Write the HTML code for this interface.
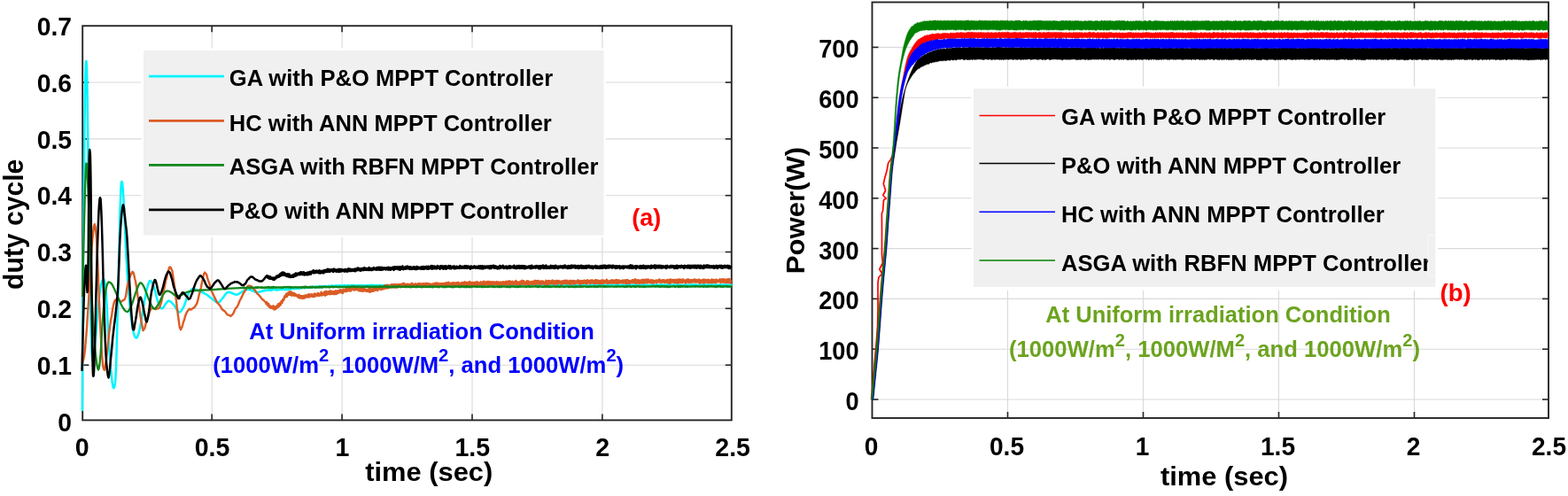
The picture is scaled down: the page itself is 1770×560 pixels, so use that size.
<!DOCTYPE html>
<html lang="en">
<head>
<meta charset="utf-8">
<title>MPPT controller comparison at uniform irradiation</title>
<style>
html,body{margin:0;padding:0;background:#fff;}
body{width:1770px;height:560px;overflow:hidden;}
svg{display:block;}
svg text{font-family:"Liberation Sans", sans-serif;font-weight:bold;}
</style>
</head>
<body>
<svg width="1770" height="560" viewBox="0 0 1770 560">
<rect x="0" y="0" width="1770" height="560" fill="#ffffff"/>
<g id="left-plot">
<line x1="239.2" y1="29.2" x2="239.2" y2="474.4" stroke="#d9d9d9" stroke-width="1.1"/>
<line x1="386.1" y1="29.2" x2="386.1" y2="474.4" stroke="#d9d9d9" stroke-width="1.1"/>
<line x1="533.0" y1="29.2" x2="533.0" y2="474.4" stroke="#d9d9d9" stroke-width="1.1"/>
<line x1="679.9" y1="29.2" x2="679.9" y2="474.4" stroke="#d9d9d9" stroke-width="1.1"/>
<line x1="93.2" y1="412.2" x2="825.8" y2="412.2" stroke="#d9d9d9" stroke-width="1.1"/>
<line x1="93.2" y1="348.3" x2="825.8" y2="348.3" stroke="#d9d9d9" stroke-width="1.1"/>
<line x1="93.2" y1="284.5" x2="825.8" y2="284.5" stroke="#d9d9d9" stroke-width="1.1"/>
<line x1="93.2" y1="220.7" x2="825.8" y2="220.7" stroke="#d9d9d9" stroke-width="1.1"/>
<line x1="93.2" y1="156.9" x2="825.8" y2="156.9" stroke="#d9d9d9" stroke-width="1.1"/>
<line x1="93.2" y1="93.0" x2="825.8" y2="93.0" stroke="#d9d9d9" stroke-width="1.1"/>
<rect x="93.2" y="29.2" width="732.5999999999999" height="445.2" fill="none" stroke="#262626" stroke-width="1.9"/>
<line x1="239.2" y1="474.4" x2="239.2" y2="467.4" stroke="#262626" stroke-width="1.6"/>
<line x1="239.2" y1="29.2" x2="239.2" y2="36.2" stroke="#262626" stroke-width="1.6"/>
<line x1="386.1" y1="474.4" x2="386.1" y2="467.4" stroke="#262626" stroke-width="1.6"/>
<line x1="386.1" y1="29.2" x2="386.1" y2="36.2" stroke="#262626" stroke-width="1.6"/>
<line x1="533.0" y1="474.4" x2="533.0" y2="467.4" stroke="#262626" stroke-width="1.6"/>
<line x1="533.0" y1="29.2" x2="533.0" y2="36.2" stroke="#262626" stroke-width="1.6"/>
<line x1="679.9" y1="474.4" x2="679.9" y2="467.4" stroke="#262626" stroke-width="1.6"/>
<line x1="679.9" y1="29.2" x2="679.9" y2="36.2" stroke="#262626" stroke-width="1.6"/>
<line x1="93.2" y1="412.2" x2="100.2" y2="412.2" stroke="#262626" stroke-width="1.6"/>
<line x1="825.8" y1="412.2" x2="818.8" y2="412.2" stroke="#262626" stroke-width="1.6"/>
<line x1="93.2" y1="348.3" x2="100.2" y2="348.3" stroke="#262626" stroke-width="1.6"/>
<line x1="825.8" y1="348.3" x2="818.8" y2="348.3" stroke="#262626" stroke-width="1.6"/>
<line x1="93.2" y1="284.5" x2="100.2" y2="284.5" stroke="#262626" stroke-width="1.6"/>
<line x1="825.8" y1="284.5" x2="818.8" y2="284.5" stroke="#262626" stroke-width="1.6"/>
<line x1="93.2" y1="220.7" x2="100.2" y2="220.7" stroke="#262626" stroke-width="1.6"/>
<line x1="825.8" y1="220.7" x2="818.8" y2="220.7" stroke="#262626" stroke-width="1.6"/>
<line x1="93.2" y1="156.9" x2="100.2" y2="156.9" stroke="#262626" stroke-width="1.6"/>
<line x1="825.8" y1="156.9" x2="818.8" y2="156.9" stroke="#262626" stroke-width="1.6"/>
<line x1="93.2" y1="93.0" x2="100.2" y2="93.0" stroke="#262626" stroke-width="1.6"/>
<line x1="825.8" y1="93.0" x2="818.8" y2="93.0" stroke="#262626" stroke-width="1.6"/>
<path d="M92.8,464.0 L93.0,435.1 L93.2,393.9 L93.5,346.7 L93.9,300.0 L94.3,250.8 L94.9,197.3 L95.4,147.6 L95.9,110.0 L96.3,87.4 L96.7,75.1 L97.1,70.0 L97.4,69.0 L97.7,71.2 L98.0,78.2 L98.3,90.9 L98.6,110.0 L99.0,138.3 L99.5,174.4 L100.0,213.4 L100.5,250.0 L101.1,285.6 L101.7,322.0 L102.4,354.9 L103.0,380.0 L103.5,395.5 L104.0,403.9 L104.4,407.3 L105.0,408.0 L105.7,405.1 L106.4,397.9 L107.2,388.8 L108.0,380.0 L108.8,371.5 L109.5,362.2 L110.2,353.1 L111.0,345.0 L111.7,338.0 L112.5,331.7 L113.2,326.3 L114.0,322.0 L114.9,318.7 L115.8,316.4 L116.7,315.3 L117.5,316.0 L118.2,318.1 L118.8,321.7 L119.4,327.1 L120.0,335.0 L120.7,346.6 L121.4,361.2 L122.2,376.5 L123.0,390.0 L123.9,401.8 L124.8,413.0 L125.7,422.7 L126.5,430.0 L127.2,434.8 L127.8,437.4 L128.4,438.1 L129.0,437.0 L129.5,435.2 L130.0,432.4 L130.5,426.3 L131.0,415.0 L131.6,396.4 L132.2,372.1 L132.9,345.5 L133.5,320.0 L134.1,294.5 L134.8,267.8 L135.4,243.5 L136.0,225.0 L136.4,213.8 L136.8,207.8 L137.1,205.4 L137.5,205.0 L137.9,206.1 L138.4,209.7 L138.9,215.9 L139.5,225.0 L140.2,238.4 L140.9,255.6 L141.7,273.8 L142.5,290.0 L143.3,304.0 L144.2,317.1 L145.1,329.1 L146.0,340.0 L147.0,349.8 L148.0,358.5 L149.0,366.0 L150.0,372.0 L151.0,376.4 L152.0,379.5 L153.0,381.1 L154.0,381.5 L155.0,380.5 L155.9,378.2 L156.9,374.7 L158.0,370.0 L159.2,363.5 L160.5,355.4 L161.8,347.1 L163.0,340.0 L164.1,334.4 L165.1,329.4 L166.1,325.3 L167.0,322.0 L167.8,319.5 L168.5,317.9 L169.2,317.0 L170.0,317.0 L170.9,317.9 L171.9,319.8 L173.0,322.2 L174.0,325.0 L175.0,328.4 L176.0,332.5 L177.0,336.5 L178.0,340.0 L179.1,342.9 L180.3,345.5 L181.4,347.5 L182.6,348.5 L183.7,348.1 L184.9,346.5 L186.0,344.6 L187.0,343.0 L187.9,341.8 L188.8,340.7 L189.7,339.9 L190.7,339.6 L191.9,340.1 L193.3,341.2 L194.7,342.6 L196.0,344.0 L197.1,345.5 L198.1,347.1 L199.1,348.7 L200.0,350.0 L200.8,351.1 L201.6,352.0 L202.3,352.5 L203.2,352.3 L204.3,351.3 L205.5,349.5 L206.8,347.4 L208.0,345.0 L209.0,342.2 L210.0,339.0 L210.9,335.8 L212.0,333.0 L213.2,330.7 L214.6,328.6 L216.0,327.0 L217.5,326.0 L219.0,325.9 L220.6,326.6 L222.3,327.6 L224.0,328.5 L225.9,329.2 L227.9,330.0 L229.9,330.8 L231.8,331.8 L233.6,333.0 L235.5,334.3 L237.2,335.7 L239.0,337.0 L240.8,338.4 L242.6,339.9 L244.4,341.1 L246.0,341.6 L247.4,341.2 L248.6,340.0 L249.7,338.5 L251.0,337.0 L252.4,335.2 L253.9,333.1 L255.4,331.2 L256.8,330.0 L258.1,329.7 L259.4,330.0 L260.7,330.5 L262.0,331.0 L263.3,331.5 L264.7,332.1 L266.0,332.6 L267.5,332.7 L269.1,332.1 L270.7,331.1 L272.4,329.9 L274.0,329.0 L275.5,328.3 L277.1,327.6 L278.5,327.0 L280.0,326.8 L281.4,327.0 L282.8,327.4 L284.2,328.0 L285.5,328.5 L286.8,329.0 L288.0,329.5 L289.3,329.9 L290.7,330.0 L292.3,329.8 L294.2,329.2 L295.8,328.7 L297.0,328.3 L298.0,328.4 L299.0,327.6 L300.0,328.0 L301.0,327.6 L302.0,327.8 L303.0,327.0 L304.0,327.8 L305.0,326.7 L306.0,327.9 L307.0,326.9 L308.0,327.3 L309.0,326.7 L310.0,327.1 L311.0,326.5 L312.0,327.6 L313.0,326.7 L314.0,327.4 L315.0,326.7 L316.0,327.0 L317.0,326.2 L318.0,327.1 L319.0,326.0 L320.0,326.8 L321.0,326.2 L322.0,327.1 L323.0,326.2 L324.0,327.1 L325.0,325.6 L326.0,327.0 L327.0,325.7 L328.0,326.4 L329.0,325.6 L330.0,326.1 L331.0,325.7 L332.0,326.3 L333.0,325.1 L334.0,326.1 L335.0,324.8 L336.0,325.6 L337.0,324.8 L338.0,326.0 L339.0,325.1 L340.0,325.2 L341.0,324.3 L342.0,325.1 L343.0,324.2 L344.0,325.2 L345.0,324.5 L346.0,325.0 L347.0,324.1 L348.0,324.9 L349.0,324.1 L350.0,324.8 L351.0,324.1 L352.0,324.5 L353.0,323.7 L354.0,324.3 L355.0,323.8 L356.0,324.4 L357.0,323.3 L358.0,324.3 L359.0,323.4 L360.0,324.4 L361.0,323.3 L362.0,324.5 L363.0,323.3 L364.0,324.0 L365.0,323.1 L366.0,324.0 L367.0,323.1 L368.0,323.6 L369.0,323.1 L370.0,323.5 L371.0,322.7 L372.0,323.5 L373.0,322.5 L374.0,323.4 L375.0,322.6 L376.0,323.3 L377.0,322.7 L378.0,323.4 L379.0,322.3 L380.0,323.1 L381.0,322.5 L382.0,322.9 L383.0,322.3 L384.0,323.0 L385.0,322.2 L386.0,322.9 L387.0,322.2 L388.0,322.9 L389.0,321.9 L390.0,323.1 L391.0,322.4 L392.0,323.2 L393.0,321.9 L394.0,323.2 L395.0,322.1 L396.0,322.8 L397.0,322.0 L398.0,322.8 L399.0,321.8 L400.0,323.1 L401.0,322.3 L402.0,323.0 L403.0,322.4 L404.0,322.7 L405.0,322.1 L406.0,323.1 L407.0,322.0 L408.0,323.0 L409.0,322.3 L410.0,322.6 L411.0,322.3 L412.0,323.0 L413.0,322.2 L414.0,322.6 L415.0,322.3 L416.0,322.6 L417.0,322.1 L418.0,322.8 L419.0,321.7 L420.0,322.5 L421.0,321.9 L422.0,323.1 L423.0,322.1 L424.0,322.6 L425.0,322.1 L426.0,322.7 L427.0,322.0 L428.0,322.7 L429.0,321.9 L430.0,322.5 L431.0,322.1 L432.0,322.7 L433.0,322.0 L434.0,322.7 L435.0,322.1 L436.0,322.8 L437.0,321.8 L438.0,322.8 L439.0,322.0 L440.0,322.9 L441.0,321.8 L442.0,323.0 L443.0,322.0 L444.0,322.8 L445.0,322.1 L446.0,322.8 L447.0,321.9 L448.0,322.6 L449.0,321.8 L450.0,322.4 L451.0,321.7 L452.0,322.5 L453.0,322.1 L454.0,322.7 L455.0,322.0 L456.0,322.7 L457.0,321.4 L458.0,322.6 L459.0,321.5 L460.0,322.8 L461.0,321.7 L462.0,322.7 L463.0,321.6 L464.0,322.5 L465.0,321.6 L466.0,322.3 L467.0,321.6 L468.0,322.3 L469.0,321.5 L470.0,322.2 L471.0,321.7 L472.0,322.4 L473.0,321.7 L474.0,322.3 L475.0,321.8 L476.0,322.5 L477.0,321.8 L478.0,322.2 L479.0,321.7 L480.0,322.2 L481.0,321.8 L482.0,322.5 L483.0,321.8 L484.0,322.3 L485.0,321.4 L486.0,322.3 L487.0,321.6 L488.0,322.5 L489.0,322.0 L490.0,322.4 L491.0,321.8 L492.0,322.5 L493.0,321.7 L494.0,322.4 L495.0,321.8 L496.0,322.2 L497.0,321.8 L498.0,322.7 L499.0,321.4 L500.0,322.2 L501.0,321.8 L502.0,322.7 L503.0,321.9 L504.0,322.3 L505.0,321.3 L506.0,322.5 L507.0,321.6 L508.0,322.5 L509.0,321.6 L510.0,322.3 L511.0,321.7 L512.0,322.4 L513.0,321.3 L514.0,322.4 L515.0,321.9 L516.0,322.2 L517.0,321.4 L518.0,322.6 L519.0,321.7 L520.0,322.6 L521.0,321.8 L522.0,322.6 L523.0,321.3 L524.0,322.3 L525.0,321.6 L526.0,322.2 L527.0,321.6 L528.0,322.5 L529.0,321.3 L530.0,322.2 L531.0,321.7 L532.0,322.4 L533.0,321.5 L534.0,322.1 L535.0,321.8 L536.0,322.4 L537.0,321.4 L538.0,322.2 L539.0,321.2 L540.0,322.2 L541.0,321.4 L542.0,322.3 L543.0,321.7 L544.0,322.5 L545.0,321.5 L546.0,322.0 L547.0,321.6 L548.0,322.1 L549.0,321.7 L550.0,322.6 L551.0,321.3 L552.0,322.1 L553.0,321.6 L554.0,322.1 L555.0,321.2 L556.0,322.6 L557.0,321.4 L558.0,322.4 L559.0,321.8 L560.0,322.3 L561.0,321.5 L562.0,322.5 L563.0,321.8 L564.0,322.4 L565.0,321.5 L566.0,322.3 L567.0,321.7 L568.0,322.3 L569.0,321.8 L570.0,322.2 L571.0,321.6 L572.0,322.1 L573.0,321.4 L574.0,322.6 L575.0,321.8 L576.0,322.2 L577.0,321.5 L578.0,322.6 L579.0,321.4 L580.0,322.7 L581.0,321.4 L582.0,322.4 L583.0,321.4 L584.0,322.0 L585.0,321.6 L586.0,322.4 L587.0,321.7 L588.0,322.3 L589.0,321.4 L590.0,322.5 L591.0,321.4 L592.0,322.3 L593.0,321.4 L594.0,322.0 L595.0,321.3 L596.0,322.1 L597.0,321.4 L598.0,322.1 L599.0,321.4 L600.0,322.2 L601.0,321.4 L602.0,322.2 L603.0,321.2 L604.0,322.2 L605.0,321.9 L606.0,322.0 L607.0,321.3 L608.0,322.2 L609.0,321.4 L610.0,322.2 L611.0,321.4 L612.0,322.3 L613.0,321.4 L614.0,322.5 L615.0,321.3 L616.0,322.6 L617.0,321.2 L618.0,322.0 L619.0,321.3 L620.0,322.3 L621.0,321.3 L622.0,322.4 L623.0,321.7 L624.0,322.1 L625.0,321.6 L626.0,322.2 L627.0,321.8 L628.0,322.1 L629.0,321.7 L630.0,322.2 L631.0,321.6 L632.0,322.4 L633.0,321.3 L634.0,322.1 L635.0,321.4 L636.0,322.0 L637.0,321.5 L638.0,322.3 L639.0,321.3 L640.0,322.1 L641.0,321.7 L642.0,322.1 L643.0,321.8 L644.0,322.5 L645.0,321.4 L646.0,322.5 L647.0,321.5 L648.0,322.1 L649.0,321.2 L650.0,322.1 L651.0,321.7 L652.0,322.0 L653.0,321.7 L654.0,322.0 L655.0,321.8 L656.0,322.3 L657.0,321.7 L658.0,322.5 L659.0,321.3 L660.0,322.0 L661.0,321.2 L662.0,322.5 L663.0,321.8 L664.0,322.2 L665.0,321.8 L666.0,322.4 L667.0,321.7 L668.0,322.3 L669.0,321.3 L670.0,322.4 L671.0,321.3 L672.0,322.3 L673.0,321.2 L674.0,322.2 L675.0,321.6 L676.0,322.3 L677.0,321.5 L678.0,322.1 L679.0,321.3 L680.0,322.0 L681.0,321.4 L682.0,322.5 L683.0,321.7 L684.0,322.6 L685.0,321.4 L686.0,322.6 L687.0,321.4 L688.0,322.3 L689.0,321.6 L690.0,322.5 L691.0,321.3 L692.0,322.2 L693.0,321.6 L694.0,322.3 L695.0,321.5 L696.0,322.4 L697.0,321.3 L698.0,322.0 L699.0,321.3 L700.0,322.3 L701.0,321.7 L702.0,322.6 L703.0,321.3 L704.0,322.2 L705.0,321.5 L706.0,322.4 L707.0,321.5 L708.0,322.5 L709.0,321.4 L710.0,322.0 L711.0,321.6 L712.0,322.1 L713.0,321.4 L714.0,322.3 L715.0,321.5 L716.0,322.1 L717.0,321.3 L718.0,322.1 L719.0,321.6 L720.0,322.0 L721.0,321.7 L722.0,322.1 L723.0,321.5 L724.0,322.4 L725.0,321.6 L726.0,322.0 L727.0,321.6 L728.0,322.4 L729.0,321.3 L730.0,321.9 L731.0,321.7 L732.0,322.3 L733.0,321.7 L734.0,322.4 L735.0,321.5 L736.0,322.0 L737.0,321.7 L738.0,322.2 L739.0,321.5 L740.0,322.3 L741.0,321.2 L742.0,322.2 L743.0,321.7 L744.0,322.6 L745.0,321.2 L746.0,322.3 L747.0,321.3 L748.0,322.5 L749.0,321.6 L750.0,322.2 L751.0,321.6 L752.0,322.1 L753.0,321.2 L754.0,322.4 L755.0,321.4 L756.0,322.6 L757.0,321.4 L758.0,322.0 L759.0,321.8 L760.0,322.0 L761.0,321.3 L762.0,322.4 L763.0,321.5 L764.0,322.0 L765.0,321.8 L766.0,322.0 L767.0,321.3 L768.0,322.0 L769.0,321.8 L770.0,322.4 L771.0,321.8 L772.0,322.3 L773.0,321.3 L774.0,322.1 L775.0,321.7 L776.0,322.0 L777.0,321.4 L778.0,322.0 L779.0,321.8 L780.0,321.9 L781.0,321.3 L782.0,322.4 L783.0,321.3 L784.0,322.6 L785.0,321.2 L786.0,322.4 L787.0,321.6 L788.0,321.9 L789.0,321.6 L790.0,322.3 L791.0,321.5 L792.0,322.2 L793.0,321.2 L794.0,322.5 L795.0,321.2 L796.0,322.5 L797.0,321.4 L798.0,321.9 L799.0,321.3 L800.0,322.1 L801.0,321.8 L802.0,322.6 L803.0,321.4 L804.0,322.0 L805.0,321.4 L806.0,322.2 L807.0,321.5 L808.0,322.1 L809.0,321.5 L810.0,322.6 L811.0,321.5 L812.0,322.4 L813.0,321.2 L814.0,322.3 L815.0,321.5 L816.0,322.4 L817.0,321.4 L818.0,322.4 L819.0,321.3 L820.0,322.2 L821.0,321.5 L822.0,322.4 L823.0,321.7 L824.0,322.5 L825.0,321.3 L826.0,322.4" fill="none" stroke="#00f5ff" stroke-width="2.5" stroke-linejoin="round" stroke-linecap="butt" />
<path d="M93.0,409.9 L93.5,408.9 L94.2,406.3 L95.1,401.7 L96.0,394.6 L96.9,384.2 L98.0,370.1 L99.0,354.8 L100.0,340.3 L100.9,325.2 L101.8,308.3 L102.7,292.1 L103.5,279.5 L104.4,269.7 L105.2,261.8 L106.0,255.4 L106.8,253.2 L107.5,255.7 L108.2,261.2 L108.9,269.0 L109.5,280.1 L110.1,293.4 L110.7,307.9 L111.3,324.6 L112.0,340.6 L112.7,356.6 L113.5,373.4 L114.3,387.9 L115.0,400.3 L115.7,407.4 L116.3,414.0 L116.9,416.0 L117.5,417.5 L118.1,417.7 L118.7,414.1 L119.3,409.9 L120.0,405.6 L120.9,397.8 L121.9,387.5 L123.0,377.7 L124.0,369.7 L125.0,361.7 L126.1,356.3 L127.1,349.2 L128.0,344.6 L128.8,341.6 L129.4,339.8 L130.1,338.6 L131.0,338.2 L132.1,338.3 L133.4,338.6 L134.7,338.9 L136.0,340.9 L137.3,340.3 L138.6,339.1 L139.8,338.9 L141.0,337.5 L142.1,334.1 L143.0,327.2 L144.0,321.7 L145.0,318.0 L146.1,314.0 L147.3,311.3 L148.5,308.6 L149.6,306.7 L150.5,307.7 L151.3,310.3 L152.1,314.3 L153.0,317.5 L154.0,323.6 L155.0,330.1 L156.1,338.6 L157.0,344.1 L157.8,351.8 L158.6,356.8 L159.3,362.0 L160.0,365.3 L160.5,368.6 L161.0,371.2 L161.5,373.1 L162.0,372.8 L162.7,371.3 L163.4,370.4 L164.2,367.1 L165.0,364.1 L166.0,360.5 L167.0,357.4 L168.0,355.3 L169.0,351.3 L169.8,350.2 L170.4,348.8 L171.1,347.3 L172.0,347.5 L173.1,347.9 L174.4,348.6 L175.8,349.2 L177.0,348.5 L178.0,348.1 L179.0,348.4 L180.0,347.1 L181.0,344.4 L182.2,341.1 L183.5,333.7 L184.8,328.3 L186.0,322.8 L187.1,316.5 L188.2,313.6 L189.1,308.8 L190.0,305.5 L190.7,303.3 L191.3,301.6 L191.9,301.7 L192.5,301.6 L193.1,303.1 L193.7,304.4 L194.3,305.3 L195.0,309.8 L195.9,315.9 L197.0,323.4 L198.0,332.0 L199.0,339.6 L199.8,347.2 L200.6,353.1 L201.3,358.6 L202.0,363.5 L202.5,367.4 L203.0,370.0 L203.5,370.9 L204.0,372.2 L204.7,370.5 L205.4,369.4 L206.2,366.8 L207.0,363.4 L207.9,361.5 L208.9,357.5 L210.0,354.5 L211.0,352.2 L212.0,350.9 L212.9,349.9 L213.9,348.8 L215.0,349.5 L216.4,349.0 L217.9,347.9 L219.5,347.1 L221.0,344.6 L222.4,342.4 L223.7,337.6 L224.9,332.0 L226.0,328.6 L227.0,324.5 L227.9,318.9 L228.7,316.0 L229.5,312.0 L230.1,309.3 L230.6,308.9 L231.1,307.6 L231.8,308.4 L232.5,309.1 L233.2,310.1 L234.0,313.3 L235.0,316.6 L236.1,319.3 L237.3,323.3 L238.6,327.9 L240.0,330.9 L241.6,334.5 L243.4,338.1 L245.2,341.7 L247.0,343.5 L248.8,345.7 L250.5,349.0 L252.3,350.5 L254.0,351.6 L255.7,354.2 L257.3,355.6 L259.0,355.9 L260.5,356.9 L261.9,355.7 L263.3,353.9 L264.6,351.0 L266.0,348.1 L267.5,346.6 L269.0,343.7 L270.5,339.8 L272.0,337.0 L273.5,334.1 L275.1,330.5 L276.6,328.5 L278.0,326.1 L279.1,324.3 L280.1,322.7 L281.0,323.0 L282.0,322.5 L283.1,323.6 L284.3,323.5 L285.6,325.2 L287.0,326.5 L288.6,328.8 L290.4,331.6 L292.3,333.2 L294.0,335.2 L295.7,337.7 L297.4,338.8 L298.9,340.6 L300.0,340.9 L300.5,343.2 L301.4,341.3 L302.3,345.0 L303.2,343.0 L304.1,347.1 L305.0,345.3 L305.9,347.8 L306.8,345.9 L307.7,348.3 L308.6,345.3 L309.5,349.5 L310.4,346.4 L311.3,349.0 L312.2,345.4 L313.1,347.4 L314.0,343.3 L314.9,346.2 L315.8,342.2 L316.7,344.4 L317.6,340.0 L318.5,342.0 L319.4,337.8 L320.3,338.9 L321.2,334.4 L322.1,335.6 L323.0,332.0 L323.9,334.9 L324.8,330.7 L325.7,333.0 L326.6,329.4 L327.5,332.9 L328.4,329.3 L329.3,333.7 L330.2,330.5 L331.1,333.5 L332.0,331.0 L332.9,333.8 L333.8,332.1 L334.7,334.3 L335.6,333.2 L336.5,335.7 L337.4,332.8 L338.3,336.6 L339.2,334.0 L340.1,336.6 L341.0,334.1 L341.9,337.0 L342.8,334.1 L343.7,336.6 L344.6,333.4 L345.5,335.6 L346.4,333.3 L347.3,335.4 L348.2,332.2 L349.1,335.5 L350.0,332.4 L350.9,334.6 L351.8,332.3 L352.7,334.9 L353.6,332.4 L354.5,335.1 L355.4,331.4 L356.3,334.3 L357.2,332.1 L358.1,333.8 L359.0,330.8 L359.9,334.1 L360.8,331.8 L361.7,333.4 L362.6,329.7 L363.5,333.5 L364.4,331.1 L365.3,332.7 L366.2,329.5 L367.1,333.7 L368.0,329.0 L368.9,332.8 L369.8,329.4 L370.7,332.0 L371.6,328.8 L372.5,332.2 L373.4,328.3 L374.3,332.0 L375.2,329.2 L376.1,332.0 L377.0,329.2 L377.9,332.2 L378.8,328.3 L379.7,332.0 L380.6,328.5 L381.5,331.0 L382.4,328.1 L383.3,330.2 L384.2,327.1 L385.1,330.3 L386.0,327.7 L386.9,331.0 L387.8,326.6 L388.7,329.1 L389.6,326.8 L390.5,329.2 L391.4,325.9 L392.3,328.6 L393.2,326.3 L394.1,328.4 L395.0,324.7 L395.9,328.6 L396.8,325.1 L397.7,327.1 L398.6,324.2 L399.5,327.4 L400.4,323.3 L401.3,327.4 L402.2,324.3 L403.1,327.0 L404.0,324.7 L404.9,328.4 L405.8,325.4 L406.7,328.4 L407.6,324.0 L408.5,328.9 L409.4,325.7 L410.3,328.7 L411.2,325.8 L412.1,328.4 L413.0,326.7 L413.9,329.0 L414.8,327.0 L415.7,328.9 L416.6,325.9 L417.5,329.9 L418.4,325.8 L419.3,329.0 L420.2,326.5 L421.1,328.8 L422.0,325.2 L422.9,328.0 L423.8,324.7 L424.7,327.6 L425.6,324.7 L426.5,328.0 L427.4,324.2 L428.3,326.3 L429.2,323.8 L430.1,327.1 L431.0,323.7 L431.9,326.5 L432.8,323.1 L433.7,326.1 L434.6,322.2 L435.5,325.4 L436.4,322.0 L437.3,325.5 L438.2,321.8 L439.1,324.9 L440.0,322.7 L440.9,324.3 L441.8,321.2 L442.7,324.4 L443.6,321.2 L444.5,324.2 L445.4,320.9 L446.3,324.5 L447.2,321.1 L448.1,324.5 L449.0,321.2 L449.9,324.2 L450.8,320.9 L451.7,323.6 L452.6,320.9 L453.5,323.8 L454.4,320.2 L455.3,323.8 L456.2,319.9 L457.1,323.7 L458.0,321.0 L458.9,324.3 L459.8,320.7 L460.7,323.0 L461.6,321.1 L462.5,323.7 L463.4,320.7 L464.3,324.1 L465.2,319.8 L466.1,323.3 L467.0,321.1 L467.9,323.4 L468.8,320.3 L469.7,323.0 L470.6,320.7 L471.5,323.3 L472.4,320.1 L473.3,323.7 L474.2,320.2 L475.1,323.8 L476.0,320.5 L476.9,323.3 L477.8,320.1 L478.7,322.9 L479.6,320.2 L480.5,323.2 L481.4,319.8 L482.3,323.3 L483.2,320.1 L484.1,323.0 L485.0,320.4 L485.9,323.0 L486.8,320.8 L487.7,323.3 L488.6,320.5 L489.5,322.5 L490.4,320.0 L491.3,322.8 L492.2,319.5 L493.1,323.0 L494.0,319.7 L494.9,322.8 L495.8,320.1 L496.7,322.8 L497.6,320.2 L498.5,322.3 L499.4,319.9 L500.3,322.1 L501.2,319.9 L502.1,322.1 L503.0,319.4 L503.9,322.9 L504.8,319.1 L505.7,323.1 L506.6,318.7 L507.5,322.4 L508.4,320.1 L509.3,322.0 L510.2,319.3 L511.1,322.8 L512.0,319.1 L512.9,322.0 L513.8,319.4 L514.7,321.6 L515.6,319.2 L516.5,322.4 L517.4,318.8 L518.3,322.6 L519.2,319.8 L520.1,322.6 L521.0,319.2 L521.9,322.4 L522.8,318.9 L523.7,321.7 L524.6,318.3 L525.5,322.9 L526.4,318.8 L527.3,322.7 L528.2,318.9 L529.1,321.3 L530.0,318.1 L530.9,322.1 L531.8,318.8 L532.7,322.5 L533.6,318.9 L534.5,321.7 L535.4,319.1 L536.3,322.6 L537.2,318.4 L538.1,322.1 L539.0,318.3 L539.9,321.8 L540.8,319.4 L541.7,321.5 L542.6,318.3 L543.5,321.7 L544.4,318.6 L545.3,322.2 L546.2,317.8 L547.1,322.3 L548.0,318.4 L548.9,321.1 L549.8,318.0 L550.7,321.9 L551.6,318.0 L552.5,321.8 L553.4,318.1 L554.3,321.5 L555.2,318.3 L556.1,321.8 L557.0,318.3 L557.9,320.9 L558.8,318.5 L559.7,321.2 L560.6,318.1 L561.5,321.4 L562.4,318.5 L563.3,322.2 L564.2,318.7 L565.1,321.9 L566.0,318.6 L566.9,321.2 L567.8,318.2 L568.7,321.2 L569.6,318.5 L570.5,321.5 L571.4,317.8 L572.3,321.3 L573.2,317.7 L574.1,321.8 L575.0,317.3 L575.9,320.9 L576.8,318.0 L577.7,320.6 L578.6,317.8 L579.5,321.3 L580.4,318.6 L581.3,320.5 L582.2,317.0 L583.1,321.2 L584.0,318.3 L584.9,321.5 L585.8,318.4 L586.7,321.4 L587.6,317.6 L588.5,321.5 L589.4,316.8 L590.3,320.3 L591.2,317.2 L592.1,320.9 L593.0,318.7 L593.9,321.3 L594.8,317.1 L595.7,321.0 L596.6,317.5 L597.5,321.1 L598.4,318.3 L599.3,320.5 L600.2,317.9 L601.1,321.1 L602.0,317.7 L602.9,320.6 L603.8,316.8 L604.7,321.2 L605.6,317.2 L606.5,319.9 L607.4,316.9 L608.3,320.7 L609.2,317.6 L610.1,321.0 L611.0,317.4 L611.9,320.6 L612.8,317.4 L613.7,320.3 L614.6,318.4 L615.5,320.9 L616.4,316.8 L617.3,321.4 L618.2,317.2 L619.1,321.3 L620.0,317.0 L620.9,320.1 L621.8,317.5 L622.7,320.2 L623.6,316.4 L624.5,320.5 L625.4,317.4 L626.3,320.8 L627.2,316.9 L628.1,320.2 L629.0,317.0 L629.9,320.5 L630.8,316.9 L631.7,319.5 L632.6,317.7 L633.5,320.9 L634.4,317.3 L635.3,320.3 L636.2,317.0 L637.1,319.9 L638.0,316.7 L638.9,320.3 L639.8,316.6 L640.7,320.2 L641.6,317.5 L642.5,320.4 L643.4,316.8 L644.3,320.6 L645.2,317.0 L646.1,319.9 L647.0,316.9 L647.9,320.7 L648.8,317.1 L649.7,320.0 L650.6,317.4 L651.5,319.2 L652.4,316.3 L653.3,320.3 L654.2,316.9 L655.1,320.6 L656.0,317.2 L656.9,320.1 L657.8,317.1 L658.7,319.8 L659.6,316.6 L660.5,319.7 L661.4,316.9 L662.3,320.5 L663.2,316.1 L664.1,319.4 L665.0,317.1 L665.9,320.0 L666.8,316.5 L667.7,319.6 L668.6,316.3 L669.5,319.4 L670.4,316.9 L671.3,320.2 L672.2,316.1 L673.1,319.9 L674.0,316.3 L674.9,319.8 L675.8,316.8 L676.7,319.8 L677.6,317.1 L678.5,320.2 L679.4,316.3 L680.3,320.1 L681.2,316.5 L682.1,319.6 L683.0,317.0 L683.9,319.0 L684.8,315.7 L685.7,320.1 L686.6,317.1 L687.5,319.7 L688.4,317.3 L689.3,319.6 L690.2,316.2 L691.1,319.4 L692.0,316.5 L692.9,319.6 L693.8,316.6 L694.7,319.5 L695.6,315.9 L696.5,320.0 L697.4,316.3 L698.3,319.6 L699.2,316.5 L700.1,319.2 L701.0,317.2 L701.9,319.3 L702.8,316.4 L703.7,319.4 L704.6,316.5 L705.5,319.5 L706.4,316.1 L707.3,320.2 L708.2,316.0 L709.1,319.5 L710.0,316.8 L710.9,319.8 L711.8,317.3 L712.7,318.9 L713.6,316.2 L714.5,319.1 L715.4,315.9 L716.3,319.3 L717.2,315.3 L718.1,319.8 L719.0,316.2 L719.9,319.5 L720.8,316.2 L721.7,319.9 L722.6,316.7 L723.5,319.4 L724.4,315.9 L725.3,319.5 L726.2,315.8 L727.1,319.7 L728.0,315.8 L728.9,318.7 L729.8,315.6 L730.7,319.4 L731.6,315.4 L732.5,318.7 L733.4,316.5 L734.3,319.1 L735.2,316.1 L736.1,319.5 L737.0,316.4 L737.9,319.6 L738.8,316.9 L739.7,318.4 L740.6,316.4 L741.5,319.2 L742.4,316.6 L743.3,318.2 L744.2,315.4 L745.1,318.7 L746.0,316.4 L746.9,318.8 L747.8,316.2 L748.7,318.4 L749.6,316.1 L750.5,319.1 L751.4,316.7 L752.3,318.6 L753.2,315.9 L754.1,319.3 L755.0,316.0 L755.9,320.1 L756.8,315.4 L757.7,318.9 L758.6,316.0 L759.5,318.5 L760.4,315.9 L761.3,319.0 L762.2,316.1 L763.1,319.1 L764.0,315.8 L764.9,319.8 L765.8,315.5 L766.7,318.9 L767.6,315.6 L768.5,318.8 L769.4,315.7 L770.3,319.2 L771.2,315.5 L772.1,318.3 L773.0,316.5 L773.9,319.6 L774.8,315.9 L775.7,318.6 L776.6,315.2 L777.5,318.9 L778.4,316.2 L779.3,319.0 L780.2,316.1 L781.1,318.6 L782.0,315.9 L782.9,318.4 L783.8,315.4 L784.7,318.5 L785.6,315.8 L786.5,318.6 L787.4,316.1 L788.3,318.6 L789.2,315.6 L790.1,319.9 L791.0,316.4 L791.9,318.4 L792.8,316.0 L793.7,319.4 L794.6,315.5 L795.5,319.3 L796.4,316.0 L797.3,318.4 L798.2,315.9 L799.1,319.2 L800.0,315.8 L800.9,319.2 L801.8,316.5 L802.7,319.1 L803.6,315.4 L804.5,318.8 L805.4,316.1 L806.3,319.0 L807.2,315.8 L808.1,319.3 L809.0,315.6 L809.9,318.3 L810.8,316.4 L811.7,318.1 L812.6,315.3 L813.5,319.0 L814.4,315.4 L815.3,318.5 L816.2,315.2 L817.1,318.8 L818.0,315.4 L818.9,318.8 L819.8,315.8 L820.7,318.9 L821.6,315.1 L822.5,319.1 L823.4,314.9 L824.3,319.6 L825.2,316.3" fill="none" stroke="#db5c24" stroke-width="2.4" stroke-linejoin="round" stroke-linecap="butt" />
<path d="M93.0,335.0 L93.3,323.4 L93.6,306.9 L94.1,288.1 L94.5,270.0 L95.0,251.6 L95.5,231.9 L96.0,213.8 L96.5,200.0 L96.9,191.3 L97.2,186.2 L97.5,184.3 L97.8,185.0 L98.2,188.3 L98.6,194.4 L99.0,203.3 L99.5,215.0 L100.1,230.7 L100.7,250.0 L101.3,270.5 L102.0,290.0 L102.7,308.6 L103.5,327.2 L104.2,344.7 L105.0,360.0 L105.8,372.6 L106.5,383.3 L107.2,392.3 L108.0,400.0 L108.8,406.8 L109.5,412.3 L110.3,416.1 L111.0,417.5 L111.7,416.1 L112.3,412.3 L112.9,406.8 L113.5,400.0 L114.1,391.3 L114.7,380.8 L115.3,369.8 L116.0,360.0 L116.7,351.3 L117.5,343.1 L118.3,335.9 L119.0,330.0 L119.7,325.9 L120.3,323.2 L120.9,321.4 L121.5,320.0 L122.0,319.0 L122.6,318.5 L123.1,318.5 L123.7,318.7 L124.4,319.0 L125.2,319.6 L126.0,320.5 L127.0,322.0 L128.1,324.2 L129.3,326.9 L130.6,329.9 L132.0,333.0 L133.4,336.3 L135.0,339.8 L136.5,343.2 L138.0,346.0 L139.4,348.3 L140.8,350.2 L142.1,351.5 L143.4,352.0 L144.6,351.6 L145.7,350.3 L146.8,348.4 L148.0,346.0 L149.2,342.8 L150.5,338.8 L151.8,334.6 L153.0,331.0 L154.1,327.9 L155.2,325.2 L156.1,322.8 L157.0,321.0 L157.7,319.9 L158.2,319.3 L158.8,319.3 L159.4,319.6 L160.2,320.3 L161.0,321.4 L162.0,323.0 L163.0,325.0 L164.1,327.8 L165.4,331.2 L166.7,334.7 L168.0,338.0 L169.4,341.2 L170.8,344.5 L172.3,347.1 L173.7,348.6 L175.1,348.4 L176.4,347.1 L177.7,345.1 L179.0,343.0 L180.3,340.7 L181.6,337.9 L182.8,335.2 L184.0,333.0 L185.0,331.4 L186.0,330.1 L187.0,329.2 L188.0,328.6 L189.2,328.5 L190.4,328.8 L191.7,329.3 L193.0,330.0 L194.4,330.9 L195.8,332.1 L197.2,333.3 L198.7,334.0 L200.2,334.2 L201.8,334.0 L203.4,333.5 L205.0,333.0 L206.7,332.3 L208.4,331.3 L210.2,330.3 L212.0,329.5 L213.9,329.0 L215.8,328.6 L217.8,328.3 L220.0,328.0 L222.4,327.8 L224.9,327.7 L227.5,327.6 L230.0,327.5 L232.4,327.4 L234.7,327.3 L237.1,327.2 L240.0,327.0 L243.3,326.8 L246.9,326.5 L250.8,326.3 L255.0,326.0 L260.1,325.7 L265.9,325.4 L271.3,325.2 L275.0,325.0 L276.0,325.5 L277.0,324.6 L278.0,325.3 L279.0,324.4 L280.0,324.9 L281.0,324.9 L282.0,325.5 L283.0,324.2 L284.0,325.4 L285.0,324.7 L286.0,325.3 L287.0,324.6 L288.0,324.8 L289.0,324.1 L290.0,325.1 L291.0,324.2 L292.0,324.8 L293.0,324.3 L294.0,324.8 L295.0,324.1 L296.0,325.1 L297.0,324.4 L298.0,325.0 L299.0,324.3 L300.0,325.0 L301.0,324.1 L302.0,324.9 L303.0,323.9 L304.0,324.8 L305.0,324.2 L306.0,325.0 L307.0,323.9 L308.0,325.1 L309.0,323.8 L310.0,324.8 L311.0,324.1 L312.0,324.8 L313.0,324.2 L314.0,324.7 L315.0,324.2 L316.0,324.7 L317.0,324.2 L318.0,325.0 L319.0,324.2 L320.0,324.7 L321.0,323.9 L322.0,324.3 L323.0,324.1 L324.0,324.3 L325.0,323.8 L326.0,324.5 L327.0,324.0 L328.0,324.8 L329.0,324.0 L330.0,324.6 L331.0,324.3 L332.0,324.7 L333.0,324.0 L334.0,324.3 L335.0,324.1 L336.0,324.8 L337.0,324.2 L338.0,324.5 L339.0,324.2 L340.0,324.8 L341.0,323.9 L342.0,324.8 L343.0,323.7 L344.0,324.9 L345.0,323.5 L346.0,324.6 L347.0,324.1 L348.0,324.7 L349.0,323.9 L350.0,324.8 L351.0,323.6 L352.0,324.8 L353.0,323.6 L354.0,324.5 L355.0,323.9 L356.0,324.7 L357.0,324.0 L358.0,324.6 L359.0,323.9 L360.0,324.7 L361.0,323.5 L362.0,324.6 L363.0,323.7 L364.0,324.6 L365.0,323.6 L366.0,324.1 L367.0,323.5 L368.0,324.4 L369.0,323.8 L370.0,324.2 L371.0,323.7 L372.0,324.5 L373.0,323.9 L374.0,324.2 L375.0,323.4 L376.0,324.4 L377.0,323.6 L378.0,324.2 L379.0,323.7 L380.0,324.0 L381.0,323.8 L382.0,324.4 L383.0,323.7 L384.0,324.1 L385.0,323.6 L386.0,324.2 L387.0,323.8 L388.0,324.0 L389.0,323.6 L390.0,324.5 L391.0,323.6 L392.0,324.0 L393.0,323.5 L394.0,324.3 L395.0,323.7 L396.0,324.0 L397.0,323.1 L398.0,323.8 L399.0,323.4 L400.0,323.9 L401.0,323.7 L402.0,324.4 L403.0,323.3 L404.0,324.0 L405.0,323.4 L406.0,323.8 L407.0,323.6 L408.0,324.1 L409.0,323.5 L410.0,324.1 L411.0,323.5 L412.0,324.1 L413.0,323.5 L414.0,324.0 L415.0,323.2 L416.0,324.2 L417.0,323.5 L418.0,324.1 L419.0,323.6 L420.0,324.2 L421.0,323.4 L422.0,324.2 L423.0,323.5 L424.0,324.2 L425.0,323.4 L426.0,324.1 L427.0,323.5 L428.0,324.0 L429.0,323.2 L430.0,324.1 L431.0,323.6 L432.0,324.1 L433.0,323.3 L434.0,323.8 L435.0,323.2 L436.0,324.0 L437.0,323.3 L438.0,324.1 L439.0,323.6 L440.0,324.5 L441.0,323.5 L442.0,324.3 L443.0,323.2 L444.0,324.3 L445.0,323.5 L446.0,324.2 L447.0,323.6 L448.0,324.1 L449.0,323.1 L450.0,323.9 L451.0,323.2 L452.0,324.3 L453.0,323.6 L454.0,324.0 L455.0,323.6 L456.0,324.0 L457.0,323.4 L458.0,323.9 L459.0,323.4 L460.0,323.8 L461.0,323.5 L462.0,324.2 L463.0,323.5 L464.0,324.2 L465.0,323.3 L466.0,323.9 L467.0,323.5 L468.0,324.1 L469.0,323.5 L470.0,324.2 L471.0,323.0 L472.0,324.0 L473.0,323.6 L474.0,323.9 L475.0,323.7 L476.0,324.4 L477.0,323.2 L478.0,324.0 L479.0,323.4 L480.0,324.0 L481.0,323.4 L482.0,324.1 L483.0,323.4 L484.0,324.2 L485.0,323.3 L486.0,323.9 L487.0,323.4 L488.0,324.4 L489.0,323.2 L490.0,324.0 L491.0,323.5 L492.0,323.9 L493.0,323.2 L494.0,324.1 L495.0,323.7 L496.0,324.3 L497.0,323.3 L498.0,323.7 L499.0,323.1 L500.0,324.2 L501.0,323.4 L502.0,324.3 L503.0,323.3 L504.0,324.2 L505.0,323.3 L506.0,323.8 L507.0,323.4 L508.0,324.0 L509.0,323.1 L510.0,324.2 L511.0,323.5 L512.0,324.3 L513.0,323.3 L514.0,323.9 L515.0,323.4 L516.0,323.8 L517.0,323.2 L518.0,324.0 L519.0,323.4 L520.0,324.3 L521.0,323.0 L522.0,323.9 L523.0,323.2 L524.0,324.2 L525.0,323.2 L526.0,324.3 L527.0,323.1 L528.0,324.1 L529.0,323.2 L530.0,324.2 L531.0,323.6 L532.0,324.3 L533.0,323.2 L534.0,323.8 L535.0,323.4 L536.0,323.7 L537.0,323.3 L538.0,324.1 L539.0,323.1 L540.0,323.8 L541.0,323.5 L542.0,323.9 L543.0,323.2 L544.0,324.2 L545.0,323.2 L546.0,324.0 L547.0,323.5 L548.0,324.0 L549.0,323.6 L550.0,324.0 L551.0,323.4 L552.0,323.9 L553.0,323.4 L554.0,323.7 L555.0,323.3 L556.0,324.0 L557.0,323.2 L558.0,324.1 L559.0,323.6 L560.0,323.8 L561.0,323.4 L562.0,324.2 L563.0,323.3 L564.0,324.2 L565.0,323.2 L566.0,324.0 L567.0,323.2 L568.0,323.6 L569.0,323.4 L570.0,323.8 L571.0,323.4 L572.0,324.2 L573.0,323.4 L574.0,324.2 L575.0,323.4 L576.0,324.3 L577.0,323.1 L578.0,323.7 L579.0,323.2 L580.0,323.9 L581.0,323.2 L582.0,324.0 L583.0,323.4 L584.0,324.2 L585.0,323.3 L586.0,324.0 L587.0,323.1 L588.0,323.9 L589.0,323.5 L590.0,323.6 L591.0,323.3 L592.0,323.8 L593.0,323.4 L594.0,324.2 L595.0,323.3 L596.0,323.7 L597.0,323.1 L598.0,324.1 L599.0,323.2 L600.0,323.8 L601.0,323.3 L602.0,323.8 L603.0,323.3 L604.0,323.7 L605.0,323.1 L606.0,324.0 L607.0,323.0 L608.0,324.2 L609.0,323.2 L610.0,323.6 L611.0,323.4 L612.0,324.0 L613.0,323.5 L614.0,324.0 L615.0,323.0 L616.0,324.1 L617.0,323.1 L618.0,324.0 L619.0,323.1 L620.0,324.1 L621.0,323.3 L622.0,324.0 L623.0,323.4 L624.0,323.8 L625.0,323.3 L626.0,323.8 L627.0,323.2 L628.0,324.0 L629.0,323.2 L630.0,323.8 L631.0,323.2 L632.0,324.2 L633.0,323.1 L634.0,323.7 L635.0,323.3 L636.0,323.9 L637.0,323.6 L638.0,323.8 L639.0,323.5 L640.0,323.7 L641.0,323.2 L642.0,324.1 L643.0,323.4 L644.0,324.0 L645.0,323.0 L646.0,323.9 L647.0,323.4 L648.0,324.2 L649.0,323.2 L650.0,324.1 L651.0,323.1 L652.0,323.8 L653.0,323.5 L654.0,324.1 L655.0,323.0 L656.0,324.1 L657.0,323.2 L658.0,323.9 L659.0,323.2 L660.0,323.5 L661.0,323.3 L662.0,323.9 L663.0,323.5 L664.0,324.1 L665.0,323.2 L666.0,323.9 L667.0,323.1 L668.0,323.8 L669.0,323.3 L670.0,323.8 L671.0,323.0 L672.0,324.1 L673.0,323.3 L674.0,324.1 L675.0,323.0 L676.0,323.8 L677.0,322.8 L678.0,323.8 L679.0,323.2 L680.0,323.7 L681.0,323.0 L682.0,324.1 L683.0,322.9 L684.0,323.8 L685.0,323.2 L686.0,323.8 L687.0,323.3 L688.0,323.6 L689.0,323.3 L690.0,323.7 L691.0,323.3 L692.0,323.7 L693.0,323.6 L694.0,323.8 L695.0,323.2 L696.0,323.8 L697.0,323.1 L698.0,323.7 L699.0,323.3 L700.0,323.6 L701.0,323.4 L702.0,323.5 L703.0,323.1 L704.0,323.9 L705.0,323.4 L706.0,324.1 L707.0,323.0 L708.0,323.9 L709.0,323.0 L710.0,323.6 L711.0,322.9 L712.0,324.1 L713.0,323.3 L714.0,323.6 L715.0,322.9 L716.0,323.9 L717.0,323.2 L718.0,324.0 L719.0,322.9 L720.0,323.6 L721.0,322.9 L722.0,323.9 L723.0,323.4 L724.0,323.8 L725.0,323.3 L726.0,323.9 L727.0,323.2 L728.0,324.1 L729.0,323.4 L730.0,323.7 L731.0,323.5 L732.0,323.6 L733.0,323.3 L734.0,323.6 L735.0,323.3 L736.0,323.5 L737.0,322.8 L738.0,323.6 L739.0,323.0 L740.0,323.8 L741.0,322.8 L742.0,323.7 L743.0,322.9 L744.0,323.9 L745.0,323.1 L746.0,324.0 L747.0,323.0 L748.0,323.7 L749.0,323.0 L750.0,324.0 L751.0,323.0 L752.0,324.0 L753.0,323.2 L754.0,324.1 L755.0,323.2 L756.0,324.1 L757.0,323.3 L758.0,323.7 L759.0,323.3 L760.0,323.7 L761.0,322.9 L762.0,324.1 L763.0,323.3 L764.0,323.6 L765.0,323.0 L766.0,324.2 L767.0,322.9 L768.0,324.1 L769.0,322.8 L770.0,323.8 L771.0,323.0 L772.0,323.6 L773.0,323.1 L774.0,323.8 L775.0,323.0 L776.0,324.1 L777.0,323.3 L778.0,323.7 L779.0,323.4 L780.0,323.5 L781.0,323.4 L782.0,323.5 L783.0,323.1 L784.0,323.6 L785.0,323.1 L786.0,323.6 L787.0,322.9 L788.0,323.7 L789.0,323.3 L790.0,323.6 L791.0,323.1 L792.0,323.6 L793.0,322.9 L794.0,324.0 L795.0,322.8 L796.0,323.8 L797.0,323.1 L798.0,323.9 L799.0,323.0 L800.0,323.7 L801.0,322.9 L802.0,323.7 L803.0,322.9 L804.0,323.7 L805.0,323.2 L806.0,323.7 L807.0,323.1 L808.0,324.1 L809.0,323.0 L810.0,323.7 L811.0,322.9 L812.0,323.7 L813.0,322.7 L814.0,323.9 L815.0,323.2 L816.0,324.0 L817.0,323.2 L818.0,323.7 L819.0,322.9 L820.0,323.7 L821.0,323.0 L822.0,324.0 L823.0,323.1 L824.0,323.8 L825.0,323.3 L826.0,324.0" fill="none" stroke="#12861c" stroke-width="2.3" stroke-linejoin="round" stroke-linecap="butt" />
<path d="M92.5,418.9 L92.7,412.2 L92.9,402.5 L93.2,391.9 L93.5,379.6 L93.8,367.5 L94.2,354.7 L94.6,341.1 L95.0,329.6 L95.5,319.6 L96.0,310.0 L96.5,302.8 L97.0,299.7 L97.4,304.5 L97.8,314.8 L98.2,325.0 L98.5,330.0 L98.8,328.3 L99.0,323.4 L99.3,315.0 L99.5,300.4 L99.8,275.9 L100.0,244.4 L100.3,212.6 L100.5,189.5 L100.7,177.5 L101.0,171.7 L101.2,169.0 L101.4,170.0 L101.6,171.9 L101.9,175.1 L102.1,184.4 L102.4,199.8 L102.7,226.9 L102.9,262.2 L103.2,299.1 L103.5,330.3 L103.8,354.6 L104.1,377.4 L104.3,395.8 L104.6,409.8 L104.8,418.8 L105.0,423.5 L105.3,424.8 L105.5,424.5 L105.7,423.9 L106.0,420.1 L106.3,415.0 L106.6,404.6 L107.0,390.5 L107.5,371.2 L108.0,350.3 L108.5,330.0 L109.1,308.7 L109.7,286.7 L110.4,266.3 L111.0,249.7 L111.5,238.6 L112.0,230.0 L112.5,224.8 L113.0,223.2 L113.5,224.4 L113.9,229.3 L114.3,237.8 L114.8,250.4 L115.3,266.5 L115.9,287.8 L116.4,309.3 L117.0,329.9 L117.6,349.4 L118.2,368.7 L118.8,385.8 L119.5,400.0 L120.2,410.6 L121.0,418.4 L121.8,424.2 L122.5,426.4 L123.1,424.2 L123.8,418.6 L124.4,412.4 L125.0,405.0 L125.7,398.3 L126.5,390.2 L127.2,381.9 L128.0,375.2 L128.8,368.1 L129.5,362.9 L130.3,356.2 L131.0,349.8 L131.7,342.9 L132.3,336.4 L132.9,329.3 L133.5,319.6 L134.0,307.6 L134.5,293.4 L135.0,279.3 L135.5,268.0 L136.0,258.6 L136.5,251.5 L137.0,245.3 L137.5,240.0 L138.0,236.4 L138.4,233.6 L138.9,231.3 L139.3,231.7 L139.7,233.2 L140.1,235.9 L140.5,240.7 L141.0,244.5 L141.5,249.7 L142.1,254.8 L142.8,260.4 L143.4,268.2 L144.0,278.6 L144.7,290.9 L145.4,303.7 L146.0,315.9 L146.6,326.7 L147.3,337.7 L147.9,347.3 L148.5,355.5 L149.0,361.4 L149.5,367.4 L150.0,371.2 L150.5,372.2 L151.1,372.3 L151.7,369.2 L152.3,365.5 L153.0,361.9 L153.7,357.8 L154.5,351.9 L155.3,346.9 L156.0,343.0 L156.7,340.1 L157.3,337.5 L157.9,336.2 L158.5,335.5 L159.1,336.4 L159.8,338.7 L160.4,340.2 L161.0,343.3 L161.6,346.1 L162.3,349.9 L162.9,353.3 L163.5,355.6 L164.1,358.4 L164.6,361.3 L165.1,362.8 L165.7,363.4 L166.3,361.3 L166.8,359.7 L167.4,355.8 L168.0,352.3 L168.7,347.2 L169.4,341.0 L170.2,335.2 L171.0,329.5 L171.9,325.9 L172.8,321.6 L173.8,318.1 L174.6,316.1 L175.3,316.2 L175.8,317.4 L176.4,319.4 L177.0,322.1 L177.7,325.3 L178.5,328.6 L179.2,331.6 L180.0,332.7 L180.7,332.7 L181.4,331.3 L182.2,329.5 L183.0,327.4 L184.0,324.0 L185.0,320.1 L186.0,316.1 L187.0,312.7 L187.8,310.3 L188.6,308.9 L189.4,307.3 L190.1,306.5 L190.8,306.8 L191.5,307.6 L192.2,309.2 L193.0,311.5 L193.9,314.5 L194.9,318.3 L195.9,323.0 L197.0,326.1 L198.1,329.1 L199.3,332.5 L200.4,335.3 L201.4,337.0 L202.2,337.1 L202.8,336.0 L203.4,334.0 L204.0,332.7 L204.7,332.2 L205.4,330.8 L206.1,330.2 L206.8,330.7 L207.6,330.6 L208.3,331.9 L209.1,332.7 L210.0,334.2 L210.9,334.6 L212.0,336.2 L213.0,337.7 L213.9,337.3 L214.7,336.8 L215.4,334.9 L216.2,332.9 L217.0,330.9 L217.9,328.2 L218.9,324.6 L219.9,321.8 L221.0,318.9 L222.1,316.5 L223.3,314.7 L224.4,313.0 L225.5,311.5 L226.4,311.2 L227.3,312.1 L228.1,313.0 L229.0,314.0 L230.0,315.8 L231.0,317.7 L232.0,320.4 L233.0,322.1 L234.0,323.9 L235.0,324.6 L236.0,325.3 L237.0,326.4 L238.0,325.5 L239.0,324.3 L240.0,322.7 L241.0,321.3 L242.1,319.5 L243.3,318.6 L244.4,317.2 L245.5,316.4 L246.4,316.4 L247.2,317.2 L248.1,318.5 L249.0,319.8 L250.1,321.4 L251.4,323.6 L252.6,325.6 L253.8,326.1 L254.9,325.8 L255.9,324.1 L256.9,323.4 L258.0,322.0 L259.2,321.4 L260.5,320.2 L261.8,319.7 L263.0,319.0 L264.1,318.8 L265.1,318.1 L266.0,318.3 L267.0,318.4 L268.0,318.3 L269.0,318.8 L270.0,319.6 L271.0,320.0 L272.0,321.1 L273.0,321.9 L274.0,322.0 L275.0,322.2 L276.0,320.8 L277.0,320.3 L278.0,318.5 L279.0,316.5 L280.0,315.2 L280.9,314.6 L281.9,313.4 L283.0,312.6 L284.2,312.5 L285.4,313.0 L286.7,314.2 L288.0,315.4 L289.4,316.0 L290.9,316.5 L292.5,317.5 L294.0,317.6 L295.6,317.5 L297.4,315.8 L298.9,314.1 L300.0,312.4 L300.5,312.7 L301.4,311.1 L302.3,313.6 L303.2,311.8 L304.1,314.7 L305.0,312.2 L305.9,314.8 L306.8,313.6 L307.7,315.5 L308.6,313.6 L309.5,316.0 L310.4,313.4 L311.3,314.5 L312.2,311.6 L313.1,313.2 L314.0,311.0 L314.9,312.7 L315.8,309.6 L316.7,311.7 L317.6,308.0 L318.5,310.6 L319.4,307.4 L320.3,310.6 L321.2,308.0 L322.1,311.2 L323.0,309.3 L323.9,312.0 L324.8,309.3 L325.7,312.5 L326.6,309.5 L327.5,313.0 L328.4,311.4 L329.3,312.7 L330.2,310.6 L331.1,312.8 L332.0,309.7 L332.9,311.9 L333.8,308.5 L334.7,311.2 L335.6,308.7 L336.5,310.2 L337.4,308.2 L338.3,310.3 L339.2,307.3 L340.1,309.8 L341.0,307.4 L341.9,310.1 L342.8,307.3 L343.7,310.5 L344.6,308.2 L345.5,310.2 L346.4,307.8 L347.3,310.4 L348.2,307.4 L349.1,309.8 L350.0,306.9 L350.9,309.6 L351.8,306.6 L352.7,308.0 L353.6,305.3 L354.5,308.4 L355.4,305.9 L356.3,308.0 L357.2,305.6 L358.1,307.6 L359.0,305.7 L359.9,308.3 L360.8,305.4 L361.7,308.5 L362.6,306.1 L363.5,308.0 L364.4,305.6 L365.3,308.4 L366.2,305.0 L367.1,307.1 L368.0,304.7 L368.9,307.0 L369.8,303.8 L370.7,306.8 L371.6,304.1 L372.5,306.8 L373.4,304.4 L374.3,306.0 L375.2,304.1 L376.1,307.0 L377.0,303.6 L377.9,306.1 L378.8,304.4 L379.7,306.7 L380.6,304.5 L381.5,306.8 L382.4,303.9 L383.3,306.9 L384.2,303.9 L385.1,306.5 L386.0,304.1 L386.9,306.0 L387.8,304.5 L388.7,306.6 L389.6,304.0 L390.5,306.4 L391.4,304.3 L392.3,306.7 L393.2,303.2 L394.1,306.0 L395.0,303.6 L395.9,306.1 L396.8,304.0 L397.7,305.9 L398.6,304.1 L399.5,306.0 L400.4,303.6 L401.3,306.2 L402.2,303.2 L403.1,305.3 L404.0,302.5 L404.9,304.9 L405.8,303.1 L406.7,305.8 L407.6,303.3 L408.5,305.1 L409.4,302.9 L410.3,305.1 L411.2,302.2 L412.1,304.7 L413.0,302.8 L413.9,304.9 L414.8,303.0 L415.7,305.0 L416.6,302.1 L417.5,304.9 L418.4,303.0 L419.3,305.1 L420.2,302.8 L421.1,304.7 L422.0,302.1 L422.9,304.3 L423.8,302.7 L424.7,304.8 L425.6,302.0 L426.5,304.5 L427.4,301.7 L428.3,304.6 L429.2,301.9 L430.1,304.8 L431.0,301.9 L431.9,304.5 L432.8,302.2 L433.7,304.0 L434.6,302.4 L435.5,304.4 L436.4,302.2 L437.3,304.4 L438.2,301.8 L439.1,304.6 L440.0,302.1 L440.9,304.7 L441.8,302.4 L442.7,303.7 L443.6,301.6 L444.5,304.9 L445.4,301.2 L446.3,303.8 L447.2,301.4 L448.1,303.6 L449.0,301.3 L449.9,304.3 L450.8,301.3 L451.7,304.7 L452.6,301.2 L453.5,303.8 L454.4,300.5 L455.3,304.2 L456.2,301.7 L457.1,303.6 L458.0,301.1 L458.9,303.5 L459.8,300.6 L460.7,303.2 L461.6,301.2 L462.5,303.9 L463.4,301.2 L464.3,303.9 L465.2,301.8 L466.1,303.7 L467.0,301.2 L467.9,303.7 L468.8,301.6 L469.7,304.1 L470.6,301.0 L471.5,303.6 L472.4,301.6 L473.3,303.4 L474.2,301.7 L475.1,303.6 L476.0,301.2 L476.9,303.8 L477.8,301.0 L478.7,303.8 L479.6,301.4 L480.5,303.3 L481.4,300.9 L482.3,303.7 L483.2,300.7 L484.1,303.6 L485.0,301.0 L485.9,303.1 L486.8,300.1 L487.7,303.8 L488.6,300.4 L489.5,303.3 L490.4,300.5 L491.3,303.2 L492.2,301.0 L493.1,303.4 L494.0,300.1 L494.9,302.6 L495.8,300.7 L496.7,303.8 L497.6,300.2 L498.5,302.8 L499.4,300.4 L500.3,303.6 L501.2,300.5 L502.1,303.5 L503.0,300.2 L503.9,303.6 L504.8,300.8 L505.7,302.8 L506.6,300.1 L507.5,303.1 L508.4,300.3 L509.3,303.4 L510.2,301.0 L511.1,302.5 L512.0,300.5 L512.9,303.4 L513.8,300.9 L514.7,303.2 L515.6,300.7 L516.5,302.9 L517.4,301.3 L518.3,303.0 L519.2,300.1 L520.1,302.7 L521.0,300.7 L521.9,302.7 L522.8,300.8 L523.7,302.8 L524.6,300.2 L525.5,302.8 L526.4,300.2 L527.3,302.9 L528.2,300.5 L529.1,302.5 L530.0,300.9 L530.9,303.6 L531.8,300.5 L532.7,302.8 L533.6,301.1 L534.5,302.5 L535.4,300.4 L536.3,302.6 L537.2,300.9 L538.1,302.8 L539.0,300.7 L539.9,302.7 L540.8,300.3 L541.7,303.1 L542.6,300.4 L543.5,303.3 L544.4,300.2 L545.3,303.4 L546.2,300.6 L547.1,302.9 L548.0,300.6 L548.9,302.4 L549.8,300.5 L550.7,302.4 L551.6,300.5 L552.5,303.1 L553.4,300.3 L554.3,303.1 L555.2,300.1 L556.1,302.1 L557.0,299.7 L557.9,302.6 L558.8,300.2 L559.7,302.8 L560.6,300.9 L561.5,303.4 L562.4,301.1 L563.3,303.3 L564.2,300.0 L565.1,302.7 L566.0,300.6 L566.9,302.2 L567.8,299.8 L568.7,303.0 L569.6,301.0 L570.5,302.5 L571.4,300.6 L572.3,303.2 L573.2,300.9 L574.1,302.6 L575.0,300.2 L575.9,302.9 L576.8,300.6 L577.7,302.3 L578.6,300.7 L579.5,302.4 L580.4,299.7 L581.3,302.9 L582.2,300.8 L583.1,303.1 L584.0,300.1 L584.9,302.6 L585.8,300.0 L586.7,303.0 L587.6,300.3 L588.5,302.8 L589.4,300.1 L590.3,302.8 L591.2,300.3 L592.1,303.3 L593.0,300.5 L593.9,302.9 L594.8,301.0 L595.7,302.4 L596.6,300.6 L597.5,302.5 L598.4,300.2 L599.3,303.3 L600.2,299.7 L601.1,302.6 L602.0,300.9 L602.9,302.5 L603.8,300.5 L604.7,302.6 L605.6,300.1 L606.5,302.3 L607.4,300.3 L608.3,303.3 L609.2,300.2 L610.1,303.3 L611.0,300.2 L611.9,302.4 L612.8,299.5 L613.7,303.0 L614.6,300.4 L615.5,302.7 L616.4,299.6 L617.3,303.0 L618.2,300.8 L619.1,302.6 L620.0,300.8 L620.9,303.0 L621.8,299.9 L622.7,302.5 L623.6,300.2 L624.5,302.6 L625.4,300.3 L626.3,303.0 L627.2,299.7 L628.1,302.4 L629.0,300.7 L629.9,303.1 L630.8,300.6 L631.7,302.1 L632.6,300.2 L633.5,302.2 L634.4,300.6 L635.3,302.7 L636.2,300.0 L637.1,302.3 L638.0,299.6 L638.9,302.3 L639.8,300.7 L640.7,303.0 L641.6,300.1 L642.5,302.8 L643.4,300.2 L644.3,302.7 L645.2,299.6 L646.1,302.2 L647.0,299.9 L647.9,302.1 L648.8,299.7 L649.7,302.6 L650.6,300.4 L651.5,302.6 L652.4,300.0 L653.3,303.0 L654.2,300.4 L655.1,302.4 L656.0,299.7 L656.9,302.7 L657.8,300.2 L658.7,302.8 L659.6,300.6 L660.5,302.8 L661.4,300.0 L662.3,302.6 L663.2,300.0 L664.1,302.0 L665.0,299.9 L665.9,302.4 L666.8,300.5 L667.7,302.6 L668.6,300.5 L669.5,303.1 L670.4,300.7 L671.3,302.1 L672.2,300.0 L673.1,302.7 L674.0,300.5 L674.9,302.8 L675.8,300.9 L676.7,302.9 L677.6,300.2 L678.5,302.8 L679.4,300.0 L680.3,302.6 L681.2,299.7 L682.1,302.4 L683.0,299.7 L683.9,302.8 L684.8,300.4 L685.7,302.4 L686.6,299.7 L687.5,302.4 L688.4,299.8 L689.3,302.0 L690.2,300.0 L691.1,302.5 L692.0,299.7 L692.9,302.0 L693.8,300.3 L694.7,302.9 L695.6,300.3 L696.5,302.7 L697.4,300.5 L698.3,302.2 L699.2,300.2 L700.1,303.1 L701.0,300.7 L701.9,302.5 L702.8,300.5 L703.7,303.1 L704.6,300.5 L705.5,302.2 L706.4,300.5 L707.3,302.3 L708.2,300.5 L709.1,302.5 L710.0,300.3 L710.9,302.6 L711.8,299.4 L712.7,302.8 L713.6,299.7 L714.5,302.9 L715.4,300.7 L716.3,302.5 L717.2,300.2 L718.1,303.4 L719.0,300.2 L719.9,301.9 L720.8,300.7 L721.7,302.6 L722.6,300.1 L723.5,302.9 L724.4,300.2 L725.3,302.7 L726.2,299.8 L727.1,302.6 L728.0,300.3 L728.9,303.1 L729.8,300.4 L730.7,302.6 L731.6,300.2 L732.5,302.3 L733.4,300.5 L734.3,302.9 L735.2,299.7 L736.1,302.4 L737.0,300.2 L737.9,302.1 L738.8,299.5 L739.7,303.0 L740.6,299.7 L741.5,302.2 L742.4,300.0 L743.3,302.4 L744.2,299.8 L745.1,302.4 L746.0,300.0 L746.9,302.7 L747.8,300.2 L748.7,302.3 L749.6,300.6 L750.5,302.1 L751.4,300.2 L752.3,303.0 L753.2,299.9 L754.1,301.9 L755.0,300.7 L755.9,302.3 L756.8,300.0 L757.7,302.1 L758.6,300.0 L759.5,301.8 L760.4,300.4 L761.3,303.0 L762.2,300.2 L763.1,302.8 L764.0,299.7 L764.9,302.9 L765.8,300.3 L766.7,301.9 L767.6,300.2 L768.5,302.2 L769.4,299.9 L770.3,301.9 L771.2,300.3 L772.1,302.9 L773.0,299.9 L773.9,302.2 L774.8,300.2 L775.7,302.4 L776.6,299.7 L777.5,302.4 L778.4,299.9 L779.3,302.8 L780.2,299.9 L781.1,302.2 L782.0,299.8 L782.9,302.3 L783.8,299.8 L784.7,302.4 L785.6,299.9 L786.5,302.6 L787.4,299.8 L788.3,302.1 L789.2,299.9 L790.1,302.8 L791.0,299.8 L791.9,302.4 L792.8,300.6 L793.7,303.0 L794.6,299.6 L795.5,302.4 L796.4,299.9 L797.3,301.9 L798.2,299.4 L799.1,302.1 L800.0,299.7 L800.9,302.2 L801.8,300.3 L802.7,302.2 L803.6,300.4 L804.5,302.3 L805.4,300.1 L806.3,302.8 L807.2,300.4 L808.1,302.3 L809.0,299.9 L809.9,303.0 L810.8,300.3 L811.7,301.7 L812.6,299.9 L813.5,302.3 L814.4,299.9 L815.3,302.7 L816.2,300.4 L817.1,302.1 L818.0,299.9 L818.9,302.1 L819.8,300.1 L820.7,302.1 L821.6,299.8 L822.5,303.0 L823.4,300.2 L824.3,302.9 L825.2,300.2" fill="none" stroke="#000000" stroke-width="2.5" stroke-linejoin="round" stroke-linecap="butt" />
<rect x="159.5" y="54.5" width="524.5" height="213.5" fill="#ffffff"/>
<rect x="162" y="57" width="519.5" height="208.5" fill="#f0f0f0"/>
<line x1="168" y1="86.2" x2="253" y2="86.2" stroke="#00f5ff" stroke-width="2.7"/>
<text transform="translate(258.8,97.4) scale(0.995,1.0)" font-size="25.7" fill="#000" text-anchor="start" >GA with P&amp;O MPPT Controller</text>
<line x1="168" y1="136.4" x2="253" y2="136.4" stroke="#db5c24" stroke-width="2.7"/>
<text transform="translate(258.8,147.8) scale(0.995,1.0)" font-size="25.7" fill="#000" text-anchor="start" >HC with ANN MPPT Controller</text>
<line x1="168" y1="186.4" x2="253" y2="186.4" stroke="#12861c" stroke-width="2.7"/>
<text transform="translate(258.8,197.2) scale(0.995,1.0)" font-size="25.7" fill="#000" text-anchor="start" >ASGA with RBFN MPPT Controller</text>
<line x1="168" y1="236.8" x2="253" y2="236.8" stroke="#000000" stroke-width="2.7"/>
<text transform="translate(258.8,247.1) scale(0.995,1.0)" font-size="25.7" fill="#000" text-anchor="start" >P&amp;O with ANN MPPT Controller</text>
<text x="729.8" y="255" font-size="27" fill="#ff0000" text-anchor="middle" >(a)</text>
<text x="476" y="383" font-size="25.5" fill="#0000ff" text-anchor="middle" >At Uniform irradiation Condition</text>
<text transform="translate(472.2,420.5) scale(1.006,1)" font-size="25.5" fill="#0000ff" text-anchor="middle">(1000W/m<tspan dy="-12.5" font-size="20">2</tspan><tspan dy="12.5">, 1000W/M</tspan><tspan dy="-12.5" font-size="20">2</tspan><tspan dy="12.5">, and 1000W/m</tspan><tspan dy="-12.5" font-size="20">2</tspan><tspan dy="12.5">)</tspan></text>
<text transform="translate(92.6,515.2) scale(0.985,1.0)" font-size="29" fill="#000" text-anchor="middle" >0</text>
<text transform="translate(239.5,515.2) scale(0.985,1.0)" font-size="29" fill="#000" text-anchor="middle" >0.5</text>
<text transform="translate(386.4,515.2) scale(0.985,1.0)" font-size="29" fill="#000" text-anchor="middle" >1</text>
<text transform="translate(533.3,515.2) scale(0.985,1.0)" font-size="29" fill="#000" text-anchor="middle" >1.5</text>
<text transform="translate(680.2,515.2) scale(0.985,1.0)" font-size="29" fill="#000" text-anchor="middle" >2</text>
<text transform="translate(827.1,515.2) scale(0.985,1.0)" font-size="29" fill="#000" text-anchor="middle" >2.5</text>
<text transform="translate(81,486.7) scale(0.975,1.0)" font-size="29" fill="#000" text-anchor="end" >0</text>
<text transform="translate(81,422.9) scale(0.975,1.0)" font-size="29" fill="#000" text-anchor="end" >0.1</text>
<text transform="translate(81,359.0) scale(0.975,1.0)" font-size="29" fill="#000" text-anchor="end" >0.2</text>
<text transform="translate(81,295.2) scale(0.975,1.0)" font-size="29" fill="#000" text-anchor="end" >0.3</text>
<text transform="translate(81,231.4) scale(0.975,1.0)" font-size="29" fill="#000" text-anchor="end" >0.4</text>
<text transform="translate(81,167.6) scale(0.975,1.0)" font-size="29" fill="#000" text-anchor="end" >0.5</text>
<text transform="translate(81,103.7) scale(0.975,1.0)" font-size="29" fill="#000" text-anchor="end" >0.6</text>
<text transform="translate(81,39.9) scale(0.975,1.0)" font-size="29" fill="#000" text-anchor="end" >0.7</text>
<text transform="translate(484.2,543.1) scale(1.065,1.0)" font-size="29" fill="#000" text-anchor="middle" >time (sec)</text>
<text transform="translate(26,253.3) rotate(-90) scale(0.985,1)" font-size="30.6" fill="#000" text-anchor="middle">duty cycle</text>
</g>
<g id="right-plot">
<line x1="1137.5" y1="2.5" x2="1137.5" y2="472.0" stroke="#d9d9d9" stroke-width="1.1"/>
<line x1="1290.5" y1="2.5" x2="1290.5" y2="472.0" stroke="#d9d9d9" stroke-width="1.1"/>
<line x1="1443.5" y1="2.5" x2="1443.5" y2="472.0" stroke="#d9d9d9" stroke-width="1.1"/>
<line x1="1596.5" y1="2.5" x2="1596.5" y2="472.0" stroke="#d9d9d9" stroke-width="1.1"/>
<line x1="984.5" y1="451.0" x2="1748.0" y2="451.0" stroke="#d9d9d9" stroke-width="1.1"/>
<line x1="984.5" y1="394.2" x2="1748.0" y2="394.2" stroke="#d9d9d9" stroke-width="1.1"/>
<line x1="984.5" y1="337.4" x2="1748.0" y2="337.4" stroke="#d9d9d9" stroke-width="1.1"/>
<line x1="984.5" y1="280.6" x2="1748.0" y2="280.6" stroke="#d9d9d9" stroke-width="1.1"/>
<line x1="984.5" y1="223.8" x2="1748.0" y2="223.8" stroke="#d9d9d9" stroke-width="1.1"/>
<line x1="984.5" y1="167.0" x2="1748.0" y2="167.0" stroke="#d9d9d9" stroke-width="1.1"/>
<line x1="984.5" y1="110.2" x2="1748.0" y2="110.2" stroke="#d9d9d9" stroke-width="1.1"/>
<line x1="984.5" y1="53.4" x2="1748.0" y2="53.4" stroke="#d9d9d9" stroke-width="1.1"/>
<rect x="984.5" y="2.5" width="763.5" height="469.5" fill="none" stroke="#262626" stroke-width="1.9"/>
<line x1="1137.5" y1="472.0" x2="1137.5" y2="465.0" stroke="#262626" stroke-width="1.6"/>
<line x1="1137.5" y1="2.5" x2="1137.5" y2="9.5" stroke="#262626" stroke-width="1.6"/>
<line x1="1290.5" y1="472.0" x2="1290.5" y2="465.0" stroke="#262626" stroke-width="1.6"/>
<line x1="1290.5" y1="2.5" x2="1290.5" y2="9.5" stroke="#262626" stroke-width="1.6"/>
<line x1="1443.5" y1="472.0" x2="1443.5" y2="465.0" stroke="#262626" stroke-width="1.6"/>
<line x1="1443.5" y1="2.5" x2="1443.5" y2="9.5" stroke="#262626" stroke-width="1.6"/>
<line x1="1596.5" y1="472.0" x2="1596.5" y2="465.0" stroke="#262626" stroke-width="1.6"/>
<line x1="1596.5" y1="2.5" x2="1596.5" y2="9.5" stroke="#262626" stroke-width="1.6"/>
<line x1="984.5" y1="451.0" x2="991.5" y2="451.0" stroke="#262626" stroke-width="1.6"/>
<line x1="1748.0" y1="451.0" x2="1741.0" y2="451.0" stroke="#262626" stroke-width="1.6"/>
<line x1="984.5" y1="394.2" x2="991.5" y2="394.2" stroke="#262626" stroke-width="1.6"/>
<line x1="1748.0" y1="394.2" x2="1741.0" y2="394.2" stroke="#262626" stroke-width="1.6"/>
<line x1="984.5" y1="337.4" x2="991.5" y2="337.4" stroke="#262626" stroke-width="1.6"/>
<line x1="1748.0" y1="337.4" x2="1741.0" y2="337.4" stroke="#262626" stroke-width="1.6"/>
<line x1="984.5" y1="280.6" x2="991.5" y2="280.6" stroke="#262626" stroke-width="1.6"/>
<line x1="1748.0" y1="280.6" x2="1741.0" y2="280.6" stroke="#262626" stroke-width="1.6"/>
<line x1="984.5" y1="223.8" x2="991.5" y2="223.8" stroke="#262626" stroke-width="1.6"/>
<line x1="1748.0" y1="223.8" x2="1741.0" y2="223.8" stroke="#262626" stroke-width="1.6"/>
<line x1="984.5" y1="167.0" x2="991.5" y2="167.0" stroke="#262626" stroke-width="1.6"/>
<line x1="1748.0" y1="167.0" x2="1741.0" y2="167.0" stroke="#262626" stroke-width="1.6"/>
<line x1="984.5" y1="110.2" x2="991.5" y2="110.2" stroke="#262626" stroke-width="1.6"/>
<line x1="1748.0" y1="110.2" x2="1741.0" y2="110.2" stroke="#262626" stroke-width="1.6"/>
<line x1="984.5" y1="53.4" x2="991.5" y2="53.4" stroke="#262626" stroke-width="1.6"/>
<line x1="1748.0" y1="53.4" x2="1741.0" y2="53.4" stroke="#262626" stroke-width="1.6"/>
<path d="M984.6,450.0 L985.7,427.0 L987.6,405.0 L989.3,386.0 L990.6,368.0 L991.0,350.0 L991.0,319.0 L992.0,313.0 L995.8,309.0 L992.8,304.0 L996.4,297.0 L995.5,287.0 L995.5,262.0 L995.4,241.0 L996.6,238.0 L997.5,226.0 L1000.2,224.0 L996.8,220.5 L999.6,215.0 L997.3,207.5 L999.0,200.0 L1001.0,193.0 L1002.7,184.0 L1005.3,180.5 L1007.2,176.0" fill="none" stroke="#ff0000" stroke-width="1.7" stroke-linejoin="round" stroke-linecap="butt" />
<path d="M983.0,451.0 L983.2,448.5 L983.5,446.0 L983.8,443.5 L984.0,441.0 L984.2,438.5 L984.5,436.0 L984.8,433.5 L985.0,431.0 L985.2,428.5 L985.5,426.0 L985.8,423.5 L986.0,421.0 L986.2,418.5 L986.5,416.1 L986.8,413.7 L987.0,411.3 L987.2,408.9 L987.5,406.4 L987.8,403.9 L988.0,401.4 L988.2,398.7 L988.5,396.0 L988.8,393.2 L989.0,390.2 L989.2,387.1 L989.5,383.8 L989.8,380.5 L990.0,377.2 L990.2,373.8 L990.5,370.4 L990.8,367.0 L991.0,363.7 L991.2,360.3 L991.5,356.9 L991.8,353.5 L992.0,350.1 L992.2,346.7 L992.5,343.4 L992.8,340.2 L993.0,337.0 L993.2,333.9 L993.5,330.9 L993.8,327.9 L994.0,325.0 L994.2,322.1 L994.5,319.2 L994.8,316.4 L995.0,313.6 L995.2,310.8 L995.5,308.0 L995.8,305.3 L996.0,302.6 L996.2,300.0 L996.5,297.5 L996.8,294.9 L997.0,292.3 L997.2,289.7 L997.5,287.0 L997.8,284.2 L998.0,281.2 L998.2,278.1 L998.5,274.8 L998.8,271.3 L999.0,267.6 L999.2,263.9 L999.5,260.2 L999.8,256.5 L1000.0,252.8 L1000.2,249.3 L1000.5,245.8 L1000.8,242.4 L1001.0,238.9 L1001.2,235.5 L1001.5,232.1 L1001.8,228.7 L1002.0,225.3 L1002.2,222.0 L1002.5,218.7 L1002.8,215.2 L1003.0,211.7 L1003.2,208.2 L1003.5,204.8 L1003.8,201.5 L1004.0,198.4 L1004.2,195.5 L1004.5,193.0 L1004.8,190.8 L1005.0,188.7 L1005.2,186.8 L1005.5,185.0 L1005.8,183.3 L1006.0,181.7 L1006.2,180.1 L1006.5,178.4 L1006.8,176.7 L1007.0,175.0 L1007.2,173.2 L1007.5,171.5 L1007.8,169.7 L1008.0,168.0 L1008.2,166.2 L1008.5,164.5 L1008.8,162.8 L1009.0,161.1 L1009.2,159.3 L1009.5,157.6 L1009.8,155.8 L1010.0,154.0 L1010.2,152.2 L1010.5,150.3 L1010.8,148.5 L1011.0,146.6 L1011.2,144.6 L1011.5,142.6 L1011.8,140.4 L1012.0,138.2 L1012.2,136.0 L1012.5,133.7 L1012.8,131.3 L1013.0,129.0 L1013.2,126.7 L1013.5,124.4 L1013.8,122.1 L1014.0,119.9 L1014.2,117.8 L1014.5,115.7 L1014.8,113.8 L1015.0,112.0 L1015.2,110.3 L1015.5,108.6 L1015.8,107.0 L1016.0,105.5 L1016.2,103.9 L1016.5,102.4 L1016.8,101.0 L1017.0,99.6 L1017.2,98.2 L1017.5,96.8 L1017.8,95.5 L1018.0,94.1 L1018.2,92.8 L1018.5,91.5 L1018.8,90.3 L1019.0,89.0 L1019.2,87.7 L1019.5,86.5 L1019.8,85.2 L1020.0,83.9 L1020.2,82.6 L1020.5,81.3 L1020.8,80.0 L1021.0,78.8 L1021.2,77.5 L1021.5,76.3 L1021.8,75.1 L1022.0,73.9 L1022.2,72.8 L1022.5,71.6 L1022.8,70.6 L1023.0,69.5 L1023.2,68.5 L1023.5,67.5 L1023.8,66.6 L1024.0,65.7 L1024.2,64.9 L1024.5,64.2 L1024.8,63.5 L1025.0,62.8 L1025.2,62.2 L1025.5,61.6 L1025.8,61.0 L1026.0,60.5 L1026.2,60.0 L1026.5,59.4 L1026.8,59.0 L1027.0,58.5 L1027.2,58.0 L1027.5,57.6 L1027.8,57.1 L1028.0,56.7 L1028.2,56.3 L1028.5,55.9 L1028.8,55.4 L1029.0,55.0 L1029.2,54.6 L1029.5,54.1 L1029.8,53.7 L1030.0,53.3 L1030.8,51.9 L1031.6,50.6 L1032.4,49.4 L1033.2,48.3 L1034.0,47.7 L1034.8,46.1 L1035.6,46.0 L1036.4,44.5 L1037.2,44.5 L1038.0,43.8 L1038.8,42.9 L1039.6,42.9 L1040.4,42.2 L1041.2,41.9 L1042.0,41.8 L1042.8,40.8 L1043.6,40.2 L1044.4,40.3 L1045.2,40.4 L1046.0,39.6 L1046.8,39.3 L1047.6,39.9 L1048.4,39.4 L1049.2,39.0 L1050.0,39.3 L1050.8,38.5 L1051.6,38.7 L1052.4,38.1 L1053.2,38.2 L1054.0,38.5 L1054.8,38.5 L1055.6,38.4 L1056.4,37.8 L1057.2,38.0 L1058.0,37.7 L1058.8,37.4 L1059.6,37.8 L1060.4,38.1 L1061.2,38.1 L1062.0,37.9 L1062.8,38.2 L1063.6,37.4 L1064.4,37.2 L1065.2,37.5 L1066.0,37.3 L1066.8,37.2 L1067.6,37.4 L1068.4,37.6 L1069.2,37.5 L1070.0,37.3 L1070.8,37.8 L1071.6,37.9 L1072.4,37.3 L1073.2,36.9 L1074.0,36.8 L1074.8,37.7 L1075.6,36.8 L1076.4,37.5 L1077.2,37.3 L1078.0,37.0 L1078.8,37.5 L1079.6,36.6 L1080.4,36.7 L1081.2,37.0 L1082.0,36.5 L1082.8,37.3 L1083.6,36.6 L1084.4,36.5 L1085.2,36.3 L1086.0,36.9 L1086.8,36.7 L1087.6,36.8 L1088.4,36.8 L1089.2,37.0 L1090.0,37.1 L1090.8,36.8 L1091.6,36.2 L1092.4,36.5 L1093.2,36.2 L1094.0,36.0 L1094.8,36.5 L1095.6,36.7 L1096.4,36.1 L1097.2,36.2 L1098.0,36.3 L1098.8,36.7 L1099.6,36.5 L1100.4,36.6 L1101.2,36.8 L1102.0,36.4 L1102.8,36.8 L1103.6,36.9 L1104.4,36.0 L1105.2,37.0 L1106.0,36.7 L1106.8,36.1 L1107.6,36.5 L1108.4,36.6 L1109.2,37.0 L1110.0,36.4 L1110.8,36.6 L1111.6,36.9 L1112.4,36.8 L1113.2,37.0 L1114.0,36.5 L1114.8,36.7 L1115.6,36.2 L1116.4,36.8 L1117.2,36.9 L1118.0,36.7 L1118.8,36.7 L1119.6,36.2 L1120.4,37.0 L1121.2,37.0 L1122.0,37.0 L1122.8,36.6 L1123.6,36.8 L1124.4,36.3 L1125.2,37.0 L1126.0,36.9 L1126.8,36.4 L1127.6,36.1 L1128.4,36.5 L1129.2,36.6 L1130.0,36.8 L1130.8,36.5 L1131.6,36.0 L1132.4,36.9 L1133.2,36.0 L1134.0,36.9 L1134.8,36.2 L1135.6,36.3 L1136.4,36.8 L1137.2,36.1 L1138.0,36.1 L1138.8,36.5 L1139.6,36.8 L1140.4,36.9 L1141.2,36.7 L1142.0,37.0 L1142.8,36.5 L1143.6,37.0 L1144.4,36.1 L1145.2,36.2 L1146.0,36.6 L1146.8,36.3 L1147.6,36.8 L1148.4,36.7 L1149.2,36.6 L1150.0,36.9 L1150.8,36.6 L1151.6,36.3 L1152.4,36.4 L1153.2,36.9 L1154.0,37.0 L1154.8,36.2 L1155.6,36.9 L1156.4,37.1 L1157.2,36.6 L1158.0,36.6 L1158.8,36.2 L1159.6,36.6 L1160.4,36.6 L1161.2,36.7 L1162.0,36.0 L1162.8,37.1 L1163.6,36.6 L1164.4,36.5 L1165.2,36.9 L1166.0,36.6 L1166.8,36.6 L1167.6,36.8 L1168.4,36.1 L1169.2,36.6 L1170.0,36.5 L1170.8,37.1 L1171.6,37.1 L1172.4,36.3 L1173.2,36.6 L1174.0,36.2 L1174.8,36.5 L1175.6,36.9 L1176.4,37.0 L1177.2,36.6 L1178.0,36.4 L1178.8,36.3 L1179.6,36.7 L1180.4,37.1 L1181.2,36.2 L1182.0,36.9 L1182.8,36.1 L1183.6,36.3 L1184.4,36.3 L1185.2,36.8 L1186.0,36.4 L1186.8,36.5 L1187.6,36.7 L1188.4,36.2 L1189.2,36.9 L1190.0,36.2 L1190.8,36.6 L1191.6,36.4 L1192.4,36.3 L1193.2,36.7 L1194.0,36.6 L1194.8,36.5 L1195.6,36.5 L1196.4,36.7 L1197.2,36.3 L1198.0,36.3 L1198.8,36.8 L1199.6,36.8 L1200.4,36.7 L1201.2,37.0 L1202.0,36.8 L1202.8,37.0 L1203.6,36.4 L1204.4,36.9 L1205.2,37.0 L1206.0,37.1 L1206.8,36.5 L1207.6,36.5 L1208.4,37.1 L1209.2,36.4 L1210.0,37.2 L1210.8,37.1 L1211.6,36.3 L1212.4,36.4 L1213.2,36.9 L1214.0,36.4 L1214.8,36.2 L1215.6,37.0 L1216.4,36.6 L1217.2,37.0 L1218.0,36.3 L1218.8,36.6 L1219.6,36.9 L1220.4,36.2 L1221.2,36.4 L1222.0,36.9 L1222.8,37.1 L1223.6,37.2 L1224.4,36.3 L1225.2,36.7 L1226.0,37.0 L1226.8,36.7 L1227.6,36.9 L1228.4,36.4 L1229.2,36.2 L1230.0,36.3 L1230.8,36.2 L1231.6,36.8 L1232.4,36.7 L1233.2,36.8 L1234.0,36.3 L1234.8,36.4 L1235.6,36.4 L1236.4,37.1 L1237.2,37.3 L1238.0,37.2 L1238.8,36.3 L1239.6,36.2 L1240.4,37.2 L1241.2,36.7 L1242.0,37.0 L1242.8,36.5 L1243.6,36.7 L1244.4,36.7 L1245.2,36.7 L1246.0,36.8 L1246.8,36.2 L1247.6,37.0 L1248.4,37.1 L1249.2,36.4 L1250.0,36.7 L1250.8,37.0 L1251.6,36.6 L1252.4,36.4 L1253.2,36.4 L1254.0,36.8 L1254.8,36.2 L1255.6,37.2 L1256.4,37.1 L1257.2,37.0 L1258.0,37.2 L1258.8,36.9 L1259.6,36.7 L1260.4,36.9 L1261.2,36.8 L1262.0,37.3 L1262.8,37.1 L1263.6,36.5 L1264.4,37.2 L1265.2,37.0 L1266.0,37.1 L1266.8,37.1 L1267.6,36.7 L1268.4,37.2 L1269.2,37.2 L1270.0,37.0 L1270.8,37.1 L1271.6,37.1 L1272.4,36.7 L1273.2,37.0 L1274.0,36.3 L1274.8,36.6 L1275.6,36.7 L1276.4,36.2 L1277.2,36.6 L1278.0,36.9 L1278.8,36.9 L1279.6,36.5 L1280.4,37.3 L1281.2,37.0 L1282.0,36.6 L1282.8,37.0 L1283.6,36.9 L1284.4,36.8 L1285.2,36.7 L1286.0,37.3 L1286.8,36.9 L1287.6,37.0 L1288.4,37.1 L1289.2,37.3 L1290.0,36.3 L1290.8,36.9 L1291.6,37.1 L1292.4,36.5 L1293.2,36.7 L1294.0,36.3 L1294.8,36.5 L1295.6,36.7 L1296.4,36.4 L1297.2,36.5 L1298.0,37.2 L1298.8,36.9 L1299.6,36.8 L1300.4,37.3 L1301.2,36.9 L1302.0,37.3 L1302.8,37.0 L1303.6,37.1 L1304.4,36.3 L1305.2,36.9 L1306.0,37.1 L1306.8,36.3 L1307.6,37.3 L1308.4,36.4 L1309.2,36.8 L1310.0,36.4 L1310.8,36.8 L1311.6,36.9 L1312.4,36.3 L1313.2,37.3 L1314.0,36.7 L1314.8,36.8 L1315.6,36.9 L1316.4,36.7 L1317.2,36.6 L1318.0,37.0 L1318.8,36.9 L1319.6,36.6 L1320.4,37.0 L1321.2,36.6 L1322.0,36.3 L1322.8,36.5 L1323.6,36.3 L1324.4,36.4 L1325.2,37.1 L1326.0,36.7 L1326.8,37.2 L1327.6,37.1 L1328.4,36.3 L1329.2,37.3 L1330.0,37.3 L1330.8,36.3 L1331.6,37.3 L1332.4,36.7 L1333.2,36.8 L1334.0,37.3 L1334.8,36.5 L1335.6,36.8 L1336.4,37.3 L1337.2,37.1 L1338.0,36.8 L1338.8,37.3 L1339.6,37.2 L1340.4,36.9 L1341.2,36.4 L1342.0,37.0 L1342.8,36.8 L1343.6,36.5 L1344.4,36.3 L1345.2,36.8 L1346.0,36.4 L1346.8,36.8 L1347.6,37.0 L1348.4,36.8 L1349.2,36.6 L1350.0,36.9 L1350.8,36.7 L1351.6,37.1 L1352.4,36.9 L1353.2,37.4 L1354.0,37.3 L1354.8,37.1 L1355.6,36.5 L1356.4,36.4 L1357.2,37.3 L1358.0,37.1 L1358.8,37.0 L1359.6,36.7 L1360.4,36.6 L1361.2,37.0 L1362.0,36.9 L1362.8,36.9 L1363.6,37.0 L1364.4,37.1 L1365.2,36.5 L1366.0,36.5 L1366.8,37.4 L1367.6,37.3 L1368.4,37.2 L1369.2,36.3 L1370.0,36.3 L1370.8,36.6 L1371.6,36.7 L1372.4,37.0 L1373.2,36.4 L1374.0,36.9 L1374.8,36.4 L1375.6,36.4 L1376.4,37.0 L1377.2,36.9 L1378.0,37.0 L1378.8,36.7 L1379.6,36.8 L1380.4,36.5 L1381.2,36.7 L1382.0,37.1 L1382.8,37.2 L1383.6,36.4 L1384.4,36.4 L1385.2,37.2 L1386.0,37.0 L1386.8,37.1 L1387.6,36.5 L1388.4,36.7 L1389.2,36.6 L1390.0,37.2 L1390.8,36.7 L1391.6,37.0 L1392.4,37.4 L1393.2,36.6 L1394.0,36.9 L1394.8,37.1 L1395.6,37.3 L1396.4,36.8 L1397.2,36.7 L1398.0,36.4 L1398.8,37.2 L1399.6,36.4 L1400.4,36.4 L1401.2,36.9 L1402.0,36.8 L1402.8,37.0 L1403.6,36.6 L1404.4,37.1 L1405.2,36.4 L1406.0,36.5 L1406.8,37.0 L1407.6,36.4 L1408.4,36.6 L1409.2,37.1 L1410.0,37.1 L1410.8,36.6 L1411.6,36.4 L1412.4,36.7 L1413.2,37.1 L1414.0,36.7 L1414.8,36.4 L1415.6,37.1 L1416.4,36.9 L1417.2,37.3 L1418.0,37.3 L1418.8,37.3 L1419.6,36.8 L1420.4,37.2 L1421.2,36.6 L1422.0,36.6 L1422.8,36.7 L1423.6,37.3 L1424.4,37.3 L1425.2,36.6 L1426.0,36.7 L1426.8,36.7 L1427.6,36.7 L1428.4,36.7 L1429.2,36.7 L1430.0,36.5 L1430.8,36.9 L1431.6,37.2 L1432.4,36.9 L1433.2,37.2 L1434.0,36.9 L1434.8,36.5 L1435.6,37.1 L1436.4,37.3 L1437.2,36.6 L1438.0,36.3 L1438.8,36.9 L1439.6,36.9 L1440.4,36.9 L1441.2,37.4 L1442.0,37.0 L1442.8,37.2 L1443.6,36.4 L1444.4,36.9 L1445.2,37.2 L1446.0,36.4 L1446.8,36.4 L1447.6,37.1 L1448.4,37.3 L1449.2,36.4 L1450.0,37.0 L1450.8,36.5 L1451.6,37.1 L1452.4,37.0 L1453.2,36.6 L1454.0,36.5 L1454.8,37.1 L1455.6,36.9 L1456.4,37.1 L1457.2,36.7 L1458.0,36.7 L1458.8,37.4 L1459.6,37.0 L1460.4,36.8 L1461.2,36.9 L1462.0,37.1 L1462.8,37.1 L1463.6,37.3 L1464.4,36.8 L1465.2,37.2 L1466.0,37.0 L1466.8,37.2 L1467.6,37.2 L1468.4,37.2 L1469.2,37.3 L1470.0,37.4 L1470.8,37.0 L1471.6,36.9 L1472.4,37.1 L1473.2,37.2 L1474.0,36.8 L1474.8,36.8 L1475.6,36.5 L1476.4,37.1 L1477.2,37.4 L1478.0,36.7 L1478.8,36.5 L1479.6,36.5 L1480.4,36.8 L1481.2,36.6 L1482.0,37.4 L1482.8,36.4 L1483.6,36.6 L1484.4,36.4 L1485.2,37.0 L1486.0,37.2 L1486.8,36.5 L1487.6,36.4 L1488.4,36.8 L1489.2,36.9 L1490.0,37.3 L1490.8,36.3 L1491.6,36.4 L1492.4,36.5 L1493.2,36.5 L1494.0,36.6 L1494.8,37.1 L1495.6,37.0 L1496.4,36.6 L1497.2,36.5 L1498.0,36.6 L1498.8,36.5 L1499.6,37.1 L1500.4,36.7 L1501.2,36.9 L1502.0,37.2 L1502.8,36.8 L1503.6,36.6 L1504.4,37.3 L1505.2,37.3 L1506.0,36.7 L1506.8,36.9 L1507.6,37.4 L1508.4,36.8 L1509.2,36.6 L1510.0,36.4 L1510.8,37.4 L1511.6,37.2 L1512.4,36.7 L1513.2,36.9 L1514.0,36.9 L1514.8,36.6 L1515.6,37.4 L1516.4,37.0 L1517.2,36.6 L1518.0,36.3 L1518.8,36.8 L1519.6,36.7 L1520.4,37.2 L1521.2,37.1 L1522.0,37.0 L1522.8,36.5 L1523.6,36.5 L1524.4,36.7 L1525.2,36.6 L1526.0,37.3 L1526.8,36.9 L1527.6,37.0 L1528.4,37.4 L1529.2,36.6 L1530.0,36.9 L1530.8,36.5 L1531.6,37.2 L1532.4,36.3 L1533.2,37.2 L1534.0,37.2 L1534.8,37.2 L1535.6,36.4 L1536.4,36.6 L1537.2,37.1 L1538.0,36.4 L1538.8,36.8 L1539.6,36.8 L1540.4,37.4 L1541.2,37.0 L1542.0,37.3 L1542.8,36.6 L1543.6,37.2 L1544.4,36.8 L1545.2,37.3 L1546.0,36.4 L1546.8,37.2 L1547.6,36.5 L1548.4,36.9 L1549.2,36.9 L1550.0,36.5 L1550.8,37.2 L1551.6,36.7 L1552.4,36.7 L1553.2,36.4 L1554.0,36.7 L1554.8,36.8 L1555.6,37.1 L1556.4,36.7 L1557.2,37.1 L1558.0,36.4 L1558.8,36.8 L1559.6,36.8 L1560.4,37.4 L1561.2,37.2 L1562.0,37.0 L1562.8,36.3 L1563.6,36.7 L1564.4,37.1 L1565.2,36.6 L1566.0,36.9 L1566.8,36.8 L1567.6,36.3 L1568.4,37.4 L1569.2,37.2 L1570.0,36.5 L1570.8,37.0 L1571.6,36.6 L1572.4,36.7 L1573.2,36.9 L1574.0,36.6 L1574.8,36.7 L1575.6,36.8 L1576.4,37.1 L1577.2,36.6 L1578.0,36.5 L1578.8,37.1 L1579.6,36.7 L1580.4,37.4 L1581.2,36.9 L1582.0,37.1 L1582.8,36.7 L1583.6,37.2 L1584.4,36.4 L1585.2,36.5 L1586.0,36.4 L1586.8,37.1 L1587.6,37.1 L1588.4,36.5 L1589.2,36.8 L1590.0,37.2 L1590.8,37.0 L1591.6,36.4 L1592.4,36.6 L1593.2,36.5 L1594.0,36.5 L1594.8,36.8 L1595.6,36.4 L1596.4,37.3 L1597.2,36.8 L1598.0,36.9 L1598.8,37.0 L1599.6,37.2 L1600.4,37.2 L1601.2,36.7 L1602.0,36.7 L1602.8,36.8 L1603.6,36.3 L1604.4,36.8 L1605.2,37.1 L1606.0,37.4 L1606.8,37.2 L1607.6,37.1 L1608.4,37.0 L1609.2,36.3 L1610.0,36.7 L1610.8,36.7 L1611.6,37.0 L1612.4,36.4 L1613.2,36.7 L1614.0,36.9 L1614.8,37.2 L1615.6,37.2 L1616.4,37.0 L1617.2,36.5 L1618.0,37.2 L1618.8,37.3 L1619.6,36.9 L1620.4,36.7 L1621.2,36.9 L1622.0,36.5 L1622.8,37.1 L1623.6,37.4 L1624.4,36.9 L1625.2,37.1 L1626.0,37.2 L1626.8,36.5 L1627.6,37.4 L1628.4,37.0 L1629.2,36.5 L1630.0,36.4 L1630.8,36.6 L1631.6,37.0 L1632.4,37.1 L1633.2,36.7 L1634.0,37.4 L1634.8,36.7 L1635.6,36.8 L1636.4,36.5 L1637.2,37.4 L1638.0,36.5 L1638.8,37.3 L1639.6,36.9 L1640.4,36.9 L1641.2,36.9 L1642.0,36.6 L1642.8,37.3 L1643.6,37.4 L1644.4,37.2 L1645.2,37.0 L1646.0,36.5 L1646.8,37.2 L1647.6,36.6 L1648.4,37.3 L1649.2,36.6 L1650.0,37.0 L1650.8,37.2 L1651.6,36.5 L1652.4,36.9 L1653.2,36.4 L1654.0,36.4 L1654.8,36.5 L1655.6,37.4 L1656.4,37.4 L1657.2,37.1 L1658.0,36.7 L1658.8,37.1 L1659.6,37.1 L1660.4,36.8 L1661.2,37.0 L1662.0,37.2 L1662.8,36.4 L1663.6,36.6 L1664.4,36.8 L1665.2,36.5 L1666.0,36.8 L1666.8,37.0 L1667.6,36.5 L1668.4,36.9 L1669.2,36.6 L1670.0,37.0 L1670.8,36.7 L1671.6,37.0 L1672.4,36.4 L1673.2,37.1 L1674.0,36.5 L1674.8,37.4 L1675.6,37.0 L1676.4,36.9 L1677.2,36.8 L1678.0,37.0 L1678.8,37.1 L1679.6,37.2 L1680.4,37.2 L1681.2,36.9 L1682.0,37.4 L1682.8,37.3 L1683.6,37.3 L1684.4,36.8 L1685.2,36.8 L1686.0,37.0 L1686.8,37.3 L1687.6,36.9 L1688.4,36.9 L1689.2,36.8 L1690.0,37.3 L1690.8,36.7 L1691.6,36.4 L1692.4,37.1 L1693.2,37.3 L1694.0,37.1 L1694.8,37.0 L1695.6,37.2 L1696.4,36.7 L1697.2,37.0 L1698.0,36.4 L1698.8,36.5 L1699.6,36.8 L1700.4,36.9 L1701.2,36.8 L1702.0,36.4 L1702.8,37.1 L1703.6,36.9 L1704.4,36.6 L1705.2,36.7 L1706.0,36.8 L1706.8,36.6 L1707.6,36.4 L1708.4,37.3 L1709.2,37.4 L1710.0,37.1 L1710.8,37.3 L1711.6,36.8 L1712.4,37.2 L1713.2,36.6 L1714.0,37.2 L1714.8,37.0 L1715.6,37.3 L1716.4,36.5 L1717.2,37.2 L1718.0,36.5 L1718.8,36.9 L1719.6,37.4 L1720.4,36.3 L1721.2,36.6 L1722.0,36.7 L1722.8,36.7 L1723.6,36.4 L1724.4,37.3 L1725.2,37.2 L1726.0,36.8 L1726.8,36.7 L1727.6,37.0 L1728.4,36.4 L1729.2,36.4 L1730.0,37.3 L1730.8,36.7 L1731.6,36.9 L1732.4,37.4 L1733.2,37.4 L1734.0,36.9 L1734.8,36.6 L1735.6,36.7 L1736.4,37.4 L1737.2,37.3 L1738.0,36.6 L1738.8,37.3 L1739.6,36.7 L1740.4,36.9 L1741.2,36.5 L1742.0,37.3 L1742.8,37.4 L1743.6,36.6 L1744.4,37.0 L1745.2,36.6 L1746.0,37.3 L1746.8,36.4 L1747.6,36.5 L1747.6,42.8 L1746.8,42.3 L1746.0,43.3 L1745.2,42.9 L1744.4,42.9 L1743.6,43.0 L1742.8,42.9 L1742.0,42.8 L1741.2,42.3 L1740.4,43.3 L1739.6,43.2 L1738.8,43.3 L1738.0,43.3 L1737.2,43.3 L1736.4,43.3 L1735.6,43.0 L1734.8,42.6 L1734.0,42.6 L1733.2,42.4 L1732.4,42.9 L1731.6,43.3 L1730.8,42.9 L1730.0,42.8 L1729.2,42.3 L1728.4,42.8 L1727.6,42.7 L1726.8,43.0 L1726.0,42.5 L1725.2,42.8 L1724.4,42.6 L1723.6,42.8 L1722.8,42.5 L1722.0,42.8 L1721.2,42.3 L1720.4,42.8 L1719.6,43.1 L1718.8,43.2 L1718.0,43.0 L1717.2,43.3 L1716.4,42.9 L1715.6,42.3 L1714.8,42.3 L1714.0,43.0 L1713.2,42.3 L1712.4,43.2 L1711.6,42.6 L1710.8,43.3 L1710.0,42.4 L1709.2,42.9 L1708.4,42.4 L1707.6,43.2 L1706.8,42.3 L1706.0,43.0 L1705.2,43.3 L1704.4,42.4 L1703.6,43.3 L1702.8,42.5 L1702.0,42.6 L1701.2,42.9 L1700.4,42.8 L1699.6,43.3 L1698.8,43.1 L1698.0,42.7 L1697.2,42.7 L1696.4,42.5 L1695.6,43.1 L1694.8,42.6 L1694.0,43.3 L1693.2,42.3 L1692.4,42.5 L1691.6,43.1 L1690.8,43.3 L1690.0,43.0 L1689.2,42.8 L1688.4,43.1 L1687.6,42.8 L1686.8,42.9 L1686.0,43.2 L1685.2,43.2 L1684.4,42.4 L1683.6,43.2 L1682.8,42.8 L1682.0,42.6 L1681.2,42.6 L1680.4,42.5 L1679.6,42.8 L1678.8,42.4 L1678.0,42.5 L1677.2,42.6 L1676.4,42.5 L1675.6,42.8 L1674.8,42.3 L1674.0,42.5 L1673.2,42.5 L1672.4,43.0 L1671.6,43.2 L1670.8,42.6 L1670.0,43.0 L1669.2,43.3 L1668.4,42.7 L1667.6,43.0 L1666.8,43.3 L1666.0,43.2 L1665.2,42.9 L1664.4,43.1 L1663.6,42.4 L1662.8,42.9 L1662.0,42.8 L1661.2,42.5 L1660.4,42.5 L1659.6,43.1 L1658.8,42.4 L1658.0,43.1 L1657.2,43.1 L1656.4,43.3 L1655.6,42.4 L1654.8,42.6 L1654.0,42.9 L1653.2,42.9 L1652.4,43.0 L1651.6,42.3 L1650.8,43.2 L1650.0,42.6 L1649.2,42.4 L1648.4,43.1 L1647.6,42.5 L1646.8,42.8 L1646.0,42.8 L1645.2,43.3 L1644.4,43.3 L1643.6,42.9 L1642.8,42.9 L1642.0,42.7 L1641.2,43.0 L1640.4,42.7 L1639.6,43.2 L1638.8,42.3 L1638.0,42.5 L1637.2,42.9 L1636.4,43.1 L1635.6,42.5 L1634.8,42.5 L1634.0,43.0 L1633.2,42.6 L1632.4,43.3 L1631.6,42.8 L1630.8,42.9 L1630.0,42.6 L1629.2,43.2 L1628.4,42.9 L1627.6,42.7 L1626.8,42.8 L1626.0,42.9 L1625.2,42.6 L1624.4,42.4 L1623.6,42.6 L1622.8,42.5 L1622.0,42.9 L1621.2,42.4 L1620.4,43.1 L1619.6,42.4 L1618.8,43.1 L1618.0,42.7 L1617.2,43.0 L1616.4,42.8 L1615.6,43.3 L1614.8,43.0 L1614.0,42.7 L1613.2,42.7 L1612.4,42.3 L1611.6,42.8 L1610.8,43.2 L1610.0,42.4 L1609.2,43.2 L1608.4,42.8 L1607.6,42.7 L1606.8,42.5 L1606.0,43.3 L1605.2,42.9 L1604.4,43.3 L1603.6,42.6 L1602.8,42.4 L1602.0,42.4 L1601.2,42.9 L1600.4,43.0 L1599.6,43.2 L1598.8,42.4 L1598.0,42.3 L1597.2,43.1 L1596.4,42.6 L1595.6,42.4 L1594.8,42.7 L1594.0,42.7 L1593.2,42.7 L1592.4,43.1 L1591.6,42.7 L1590.8,43.1 L1590.0,42.3 L1589.2,43.3 L1588.4,43.3 L1587.6,43.0 L1586.8,42.7 L1586.0,43.1 L1585.2,42.3 L1584.4,42.9 L1583.6,43.1 L1582.8,43.3 L1582.0,42.3 L1581.2,43.0 L1580.4,43.3 L1579.6,42.9 L1578.8,42.9 L1578.0,42.3 L1577.2,43.1 L1576.4,42.3 L1575.6,43.0 L1574.8,43.1 L1574.0,43.2 L1573.2,42.6 L1572.4,42.6 L1571.6,43.2 L1570.8,43.3 L1570.0,42.3 L1569.2,43.0 L1568.4,42.6 L1567.6,42.7 L1566.8,43.2 L1566.0,42.7 L1565.2,43.1 L1564.4,42.5 L1563.6,42.5 L1562.8,42.4 L1562.0,42.3 L1561.2,43.1 L1560.4,42.8 L1559.6,42.8 L1558.8,42.6 L1558.0,42.9 L1557.2,42.9 L1556.4,42.6 L1555.6,42.7 L1554.8,42.9 L1554.0,42.7 L1553.2,43.3 L1552.4,42.9 L1551.6,42.3 L1550.8,43.3 L1550.0,42.7 L1549.2,42.3 L1548.4,42.8 L1547.6,43.1 L1546.8,42.5 L1546.0,42.8 L1545.2,42.6 L1544.4,42.7 L1543.6,42.4 L1542.8,42.5 L1542.0,42.7 L1541.2,42.9 L1540.4,42.8 L1539.6,42.3 L1538.8,43.2 L1538.0,42.3 L1537.2,42.7 L1536.4,42.7 L1535.6,42.6 L1534.8,42.8 L1534.0,42.7 L1533.2,42.7 L1532.4,42.5 L1531.6,43.1 L1530.8,42.6 L1530.0,42.7 L1529.2,43.2 L1528.4,42.8 L1527.6,42.9 L1526.8,43.3 L1526.0,43.2 L1525.2,43.0 L1524.4,42.8 L1523.6,42.6 L1522.8,43.3 L1522.0,42.4 L1521.2,42.5 L1520.4,42.3 L1519.6,42.7 L1518.8,42.3 L1518.0,43.2 L1517.2,43.0 L1516.4,43.3 L1515.6,42.6 L1514.8,42.4 L1514.0,42.3 L1513.2,42.8 L1512.4,42.4 L1511.6,43.0 L1510.8,43.1 L1510.0,43.2 L1509.2,42.4 L1508.4,42.3 L1507.6,42.7 L1506.8,43.3 L1506.0,43.2 L1505.2,42.9 L1504.4,42.7 L1503.6,42.8 L1502.8,43.3 L1502.0,42.4 L1501.2,43.2 L1500.4,42.4 L1499.6,43.2 L1498.8,42.8 L1498.0,42.9 L1497.2,42.7 L1496.4,42.5 L1495.6,42.3 L1494.8,42.7 L1494.0,42.5 L1493.2,43.1 L1492.4,42.6 L1491.6,42.8 L1490.8,42.3 L1490.0,42.4 L1489.2,42.9 L1488.4,42.4 L1487.6,42.8 L1486.8,42.6 L1486.0,43.1 L1485.2,42.4 L1484.4,42.8 L1483.6,42.8 L1482.8,42.6 L1482.0,42.3 L1481.2,43.2 L1480.4,43.3 L1479.6,43.2 L1478.8,42.3 L1478.0,42.8 L1477.2,42.4 L1476.4,43.1 L1475.6,43.1 L1474.8,43.1 L1474.0,42.5 L1473.2,43.1 L1472.4,42.9 L1471.6,43.0 L1470.8,42.4 L1470.0,42.3 L1469.2,43.1 L1468.4,42.7 L1467.6,42.4 L1466.8,42.7 L1466.0,42.5 L1465.2,43.3 L1464.4,42.5 L1463.6,43.0 L1462.8,42.7 L1462.0,42.8 L1461.2,42.3 L1460.4,43.3 L1459.6,43.0 L1458.8,43.0 L1458.0,43.2 L1457.2,42.7 L1456.4,43.3 L1455.6,43.3 L1454.8,43.3 L1454.0,42.9 L1453.2,43.0 L1452.4,42.6 L1451.6,42.8 L1450.8,42.6 L1450.0,42.8 L1449.2,42.9 L1448.4,42.3 L1447.6,43.3 L1446.8,43.2 L1446.0,42.6 L1445.2,43.0 L1444.4,43.0 L1443.6,42.7 L1442.8,42.6 L1442.0,42.3 L1441.2,43.2 L1440.4,42.4 L1439.6,42.9 L1438.8,42.9 L1438.0,43.2 L1437.2,43.2 L1436.4,42.6 L1435.6,42.7 L1434.8,42.5 L1434.0,43.2 L1433.2,42.4 L1432.4,42.7 L1431.6,42.5 L1430.8,43.0 L1430.0,43.0 L1429.2,42.6 L1428.4,43.3 L1427.6,42.7 L1426.8,42.6 L1426.0,42.7 L1425.2,42.3 L1424.4,42.7 L1423.6,42.9 L1422.8,43.1 L1422.0,42.7 L1421.2,43.3 L1420.4,42.8 L1419.6,43.0 L1418.8,43.2 L1418.0,42.6 L1417.2,43.2 L1416.4,42.6 L1415.6,42.9 L1414.8,42.5 L1414.0,43.0 L1413.2,42.6 L1412.4,43.3 L1411.6,42.8 L1410.8,42.8 L1410.0,42.7 L1409.2,43.2 L1408.4,42.7 L1407.6,42.9 L1406.8,42.4 L1406.0,42.7 L1405.2,42.6 L1404.4,42.6 L1403.6,43.1 L1402.8,43.0 L1402.0,43.3 L1401.2,42.5 L1400.4,42.6 L1399.6,42.9 L1398.8,43.3 L1398.0,42.4 L1397.2,42.4 L1396.4,42.8 L1395.6,43.0 L1394.8,42.4 L1394.0,42.4 L1393.2,43.0 L1392.4,42.9 L1391.6,42.6 L1390.8,42.9 L1390.0,42.6 L1389.2,42.6 L1388.4,42.3 L1387.6,42.7 L1386.8,43.0 L1386.0,42.5 L1385.2,43.1 L1384.4,43.2 L1383.6,42.9 L1382.8,42.5 L1382.0,43.3 L1381.2,42.3 L1380.4,43.2 L1379.6,42.9 L1378.8,43.2 L1378.0,42.7 L1377.2,42.4 L1376.4,42.4 L1375.6,43.2 L1374.8,43.2 L1374.0,42.6 L1373.2,42.3 L1372.4,42.4 L1371.6,42.7 L1370.8,42.4 L1370.0,43.1 L1369.2,43.2 L1368.4,42.9 L1367.6,43.1 L1366.8,43.2 L1366.0,43.1 L1365.2,42.5 L1364.4,42.8 L1363.6,43.1 L1362.8,42.9 L1362.0,42.3 L1361.2,43.0 L1360.4,42.6 L1359.6,42.5 L1358.8,43.2 L1358.0,42.8 L1357.2,42.7 L1356.4,43.1 L1355.6,42.5 L1354.8,43.0 L1354.0,43.2 L1353.2,42.3 L1352.4,43.3 L1351.6,42.8 L1350.8,43.1 L1350.0,43.2 L1349.2,43.3 L1348.4,43.0 L1347.6,43.2 L1346.8,42.5 L1346.0,42.8 L1345.2,43.3 L1344.4,42.4 L1343.6,43.2 L1342.8,42.7 L1342.0,43.3 L1341.2,43.1 L1340.4,42.6 L1339.6,43.1 L1338.8,43.3 L1338.0,42.8 L1337.2,42.4 L1336.4,43.3 L1335.6,42.9 L1334.8,42.9 L1334.0,42.7 L1333.2,42.9 L1332.4,42.3 L1331.6,42.8 L1330.8,42.9 L1330.0,42.9 L1329.2,42.5 L1328.4,42.7 L1327.6,42.7 L1326.8,43.0 L1326.0,42.7 L1325.2,43.0 L1324.4,43.2 L1323.6,42.4 L1322.8,42.9 L1322.0,42.8 L1321.2,42.9 L1320.4,43.2 L1319.6,43.2 L1318.8,42.9 L1318.0,42.5 L1317.2,43.0 L1316.4,42.7 L1315.6,42.9 L1314.8,42.4 L1314.0,43.3 L1313.2,42.6 L1312.4,42.5 L1311.6,42.6 L1310.8,43.3 L1310.0,43.0 L1309.2,42.6 L1308.4,42.4 L1307.6,43.0 L1306.8,42.7 L1306.0,42.5 L1305.2,43.3 L1304.4,42.7 L1303.6,43.3 L1302.8,42.4 L1302.0,43.1 L1301.2,42.6 L1300.4,43.2 L1299.6,42.5 L1298.8,43.3 L1298.0,42.8 L1297.2,42.6 L1296.4,42.7 L1295.6,42.8 L1294.8,42.3 L1294.0,42.7 L1293.2,42.6 L1292.4,42.4 L1291.6,42.4 L1290.8,42.4 L1290.0,43.0 L1289.2,42.9 L1288.4,43.1 L1287.6,42.5 L1286.8,43.1 L1286.0,42.6 L1285.2,42.4 L1284.4,42.6 L1283.6,43.2 L1282.8,42.6 L1282.0,42.6 L1281.2,43.0 L1280.4,42.7 L1279.6,43.1 L1278.8,43.0 L1278.0,42.7 L1277.2,42.7 L1276.4,42.5 L1275.6,42.9 L1274.8,42.3 L1274.0,43.3 L1273.2,42.5 L1272.4,43.0 L1271.6,42.7 L1270.8,43.3 L1270.0,42.4 L1269.2,43.3 L1268.4,43.1 L1267.6,43.2 L1266.8,43.1 L1266.0,42.7 L1265.2,43.1 L1264.4,43.1 L1263.6,43.1 L1262.8,42.8 L1262.0,42.3 L1261.2,43.3 L1260.4,42.5 L1259.6,42.3 L1258.8,42.8 L1258.0,42.6 L1257.2,43.1 L1256.4,42.7 L1255.6,42.3 L1254.8,42.4 L1254.0,42.4 L1253.2,42.3 L1252.4,42.5 L1251.6,43.1 L1250.8,43.2 L1250.0,42.7 L1249.2,43.4 L1248.4,43.2 L1247.6,43.3 L1246.8,42.6 L1246.0,42.9 L1245.2,43.0 L1244.4,42.9 L1243.6,42.3 L1242.8,42.7 L1242.0,43.2 L1241.2,42.7 L1240.4,42.8 L1239.6,43.2 L1238.8,42.5 L1238.0,43.4 L1237.2,42.8 L1236.4,42.5 L1235.6,42.4 L1234.8,42.6 L1234.0,43.3 L1233.2,42.3 L1232.4,42.3 L1231.6,42.6 L1230.8,42.7 L1230.0,42.8 L1229.2,42.5 L1228.4,42.6 L1227.6,43.0 L1226.8,42.4 L1226.0,42.9 L1225.2,42.3 L1224.4,42.6 L1223.6,42.4 L1222.8,42.8 L1222.0,42.6 L1221.2,43.3 L1220.4,42.4 L1219.6,42.5 L1218.8,42.4 L1218.0,43.2 L1217.2,42.9 L1216.4,43.0 L1215.6,42.7 L1214.8,43.4 L1214.0,43.1 L1213.2,43.0 L1212.4,42.7 L1211.6,42.6 L1210.8,43.2 L1210.0,43.2 L1209.2,42.6 L1208.4,42.7 L1207.6,42.8 L1206.8,42.9 L1206.0,42.3 L1205.2,42.7 L1204.4,42.4 L1203.6,43.4 L1202.8,43.1 L1202.0,42.6 L1201.2,42.3 L1200.4,42.4 L1199.6,43.1 L1198.8,42.4 L1198.0,43.4 L1197.2,43.3 L1196.4,42.7 L1195.6,43.0 L1194.8,42.8 L1194.0,43.1 L1193.2,42.5 L1192.4,43.4 L1191.6,43.4 L1190.8,43.0 L1190.0,42.3 L1189.2,42.5 L1188.4,42.6 L1187.6,43.1 L1186.8,42.7 L1186.0,42.5 L1185.2,43.2 L1184.4,43.2 L1183.6,43.0 L1182.8,43.1 L1182.0,42.8 L1181.2,43.0 L1180.4,43.2 L1179.6,43.3 L1178.8,43.2 L1178.0,42.7 L1177.2,42.7 L1176.4,43.1 L1175.6,42.6 L1174.8,43.1 L1174.0,42.8 L1173.2,43.2 L1172.4,42.9 L1171.6,42.6 L1170.8,42.4 L1170.0,43.3 L1169.2,43.3 L1168.4,42.5 L1167.6,42.9 L1166.8,43.2 L1166.0,42.9 L1165.2,42.5 L1164.4,43.1 L1163.6,42.5 L1162.8,42.4 L1162.0,42.4 L1161.2,42.5 L1160.4,42.9 L1159.6,42.6 L1158.8,42.7 L1158.0,42.7 L1157.2,42.6 L1156.4,43.0 L1155.6,43.2 L1154.8,42.7 L1154.0,42.8 L1153.2,43.0 L1152.4,42.9 L1151.6,43.1 L1150.8,42.6 L1150.0,43.3 L1149.2,43.5 L1148.4,43.2 L1147.6,43.2 L1146.8,43.2 L1146.0,42.8 L1145.2,43.4 L1144.4,42.8 L1143.6,42.8 L1142.8,43.5 L1142.0,43.3 L1141.2,43.0 L1140.4,43.1 L1139.6,43.0 L1138.8,43.1 L1138.0,43.0 L1137.2,42.7 L1136.4,42.9 L1135.6,43.0 L1134.8,42.4 L1134.0,42.7 L1133.2,43.2 L1132.4,42.7 L1131.6,42.7 L1130.8,42.6 L1130.0,43.5 L1129.2,42.9 L1128.4,42.8 L1127.6,43.0 L1126.8,42.6 L1126.0,42.5 L1125.2,43.5 L1124.4,42.9 L1123.6,43.4 L1122.8,43.4 L1122.0,42.8 L1121.2,42.9 L1120.4,42.9 L1119.6,43.2 L1118.8,43.2 L1118.0,43.3 L1117.2,43.5 L1116.4,43.1 L1115.6,42.9 L1114.8,43.6 L1114.0,43.2 L1113.2,43.0 L1112.4,42.7 L1111.6,43.3 L1110.8,42.8 L1110.0,43.1 L1109.2,43.5 L1108.4,42.9 L1107.6,42.6 L1106.8,42.8 L1106.0,42.9 L1105.2,43.1 L1104.4,43.2 L1103.6,43.1 L1102.8,42.6 L1102.0,43.0 L1101.2,42.6 L1100.4,43.0 L1099.6,43.0 L1098.8,42.6 L1098.0,43.3 L1097.2,43.2 L1096.4,43.3 L1095.6,43.2 L1094.8,42.7 L1094.0,43.1 L1093.2,43.0 L1092.4,42.7 L1091.6,42.9 L1090.8,43.3 L1090.0,42.8 L1089.2,43.1 L1088.4,43.1 L1087.6,42.8 L1086.8,42.9 L1086.0,43.2 L1085.2,43.0 L1084.4,43.1 L1083.6,42.7 L1082.8,43.1 L1082.0,43.1 L1081.2,42.7 L1080.4,43.3 L1079.6,42.9 L1078.8,43.6 L1078.0,43.7 L1077.2,43.4 L1076.4,43.5 L1075.6,43.0 L1074.8,43.8 L1074.0,43.5 L1073.2,43.2 L1072.4,44.0 L1071.6,43.8 L1070.8,43.6 L1070.0,43.7 L1069.2,43.1 L1068.4,43.2 L1067.6,43.4 L1066.8,43.7 L1066.0,43.7 L1065.2,43.7 L1064.4,44.4 L1063.6,44.0 L1062.8,44.1 L1062.0,44.5 L1061.2,44.1 L1060.4,44.1 L1059.6,44.1 L1058.8,44.8 L1058.0,45.0 L1057.2,44.6 L1056.4,45.2 L1055.6,44.7 L1054.8,45.4 L1054.0,45.4 L1053.2,45.5 L1052.4,45.4 L1051.6,46.2 L1050.8,46.0 L1050.0,46.1 L1049.2,46.6 L1048.4,47.1 L1047.6,47.0 L1046.8,47.8 L1046.0,48.4 L1045.2,48.2 L1044.4,49.2 L1043.6,48.6 L1042.8,49.4 L1042.0,49.8 L1041.2,49.9 L1040.4,51.4 L1039.6,51.8 L1038.8,52.4 L1038.0,52.6 L1037.2,53.9 L1036.4,53.7 L1035.6,54.6 L1034.8,55.2 L1034.0,56.5 L1033.2,57.5 L1032.4,57.7 L1031.6,58.5 L1030.8,59.7 L1030.0,60.8 L1029.8,61.1 L1029.5,61.5 L1029.3,61.9 L1029.0,62.3 L1028.8,62.7 L1028.5,63.1 L1028.3,63.5 L1028.0,64.0 L1027.8,64.4 L1027.5,64.9 L1027.3,65.4 L1027.0,65.9 L1026.8,66.4 L1026.5,67.1 L1026.3,67.8 L1026.0,68.5 L1025.8,69.4 L1025.5,70.3 L1025.3,71.2 L1025.0,72.2 L1024.8,73.3 L1024.5,74.4 L1024.3,75.5 L1024.0,76.7 L1023.8,77.9 L1023.5,79.1 L1023.3,80.3 L1023.0,81.5 L1022.8,82.7 L1022.5,84.0 L1022.3,85.2 L1022.0,86.4 L1021.8,87.6 L1021.5,88.8 L1021.3,89.9 L1021.0,91.1 L1020.8,92.2 L1020.5,93.3 L1020.3,94.5 L1020.0,95.6 L1019.8,96.8 L1019.5,98.0 L1019.3,99.2 L1019.0,100.4 L1018.8,101.7 L1018.5,103.0 L1018.3,104.3 L1018.0,105.7 L1017.8,107.1 L1017.5,108.6 L1017.3,110.1 L1017.0,111.7 L1016.8,113.3 L1016.5,115.2 L1016.3,117.1 L1016.0,119.1 L1015.8,121.3 L1015.5,123.5 L1015.3,125.7 L1015.0,128.1 L1014.8,130.4 L1014.5,132.8 L1014.3,135.1 L1014.0,137.4 L1013.8,139.7 L1013.5,142.0 L1013.3,144.2 L1013.0,146.3 L1012.8,148.4 L1012.5,150.5 L1012.3,152.7 L1012.0,154.8 L1011.8,157.0 L1011.5,159.1 L1011.3,161.2 L1011.0,163.3 L1010.8,165.4 L1010.5,167.4 L1010.3,169.3 L1010.0,171.2 L1009.8,173.0 L1009.5,174.7 L1009.3,176.3 L1009.0,177.7 L1008.8,179.1 L1008.5,180.3 L1008.3,181.5 L1008.0,182.7 L1007.8,183.9 L1007.5,185.1 L1007.3,186.4 L1007.0,187.9 L1006.8,189.4 L1006.5,191.1 L1006.3,193.0 L1006.0,195.3 L1005.8,198.0 L1005.5,201.1 L1005.3,204.4 L1005.0,208.0 L1004.8,211.6 L1004.5,215.2 L1004.3,218.7 L1004.0,222.0 L1003.8,225.3 L1003.5,228.7 L1003.3,232.1 L1003.0,235.5 L1002.8,238.9 L1002.5,242.4 L1002.3,245.8 L1002.0,249.3 L1001.8,252.8 L1001.5,256.5 L1001.3,260.2 L1001.0,263.9 L1000.8,267.6 L1000.5,271.3 L1000.3,274.8 L1000.0,278.1 L999.8,281.2 L999.5,284.2 L999.3,287.0 L999.0,289.7 L998.8,292.3 L998.5,294.9 L998.3,297.5 L998.0,300.0 L997.8,302.6 L997.5,305.3 L997.3,308.0 L997.0,310.8 L996.8,313.6 L996.5,316.4 L996.3,319.2 L996.0,322.1 L995.8,325.0 L995.5,327.9 L995.3,330.9 L995.0,333.9 L994.8,337.0 L994.5,340.2 L994.3,343.4 L994.0,346.7 L993.8,350.1 L993.5,353.5 L993.3,356.9 L993.0,360.3 L992.8,363.7 L992.5,367.0 L992.3,370.4 L992.0,373.8 L991.8,377.2 L991.5,380.5 L991.3,383.8 L991.0,387.1 L990.8,390.2 L990.5,393.2 L990.3,396.0 L990.0,398.7 L989.8,401.4 L989.5,403.9 L989.3,406.4 L989.0,408.9 L988.8,411.3 L988.5,413.7 L988.3,416.1 L988.0,418.5 L987.8,421.0 L987.5,423.5 L987.3,426.0 L987.0,428.5 L986.8,431.0 L986.5,433.5 L986.3,436.0 L986.0,438.5 L985.8,441.0 L985.5,443.5 L985.3,446.0 L985.0,448.5 L984.8,451.0Z" fill="#ff0000" stroke="#ff0000" stroke-width="0.4" stroke-linejoin="round"/>
<path d="M984.3,451.0 L984.5,448.5 L984.8,446.0 L985.0,443.5 L985.3,441.0 L985.5,438.5 L985.8,436.0 L986.0,433.5 L986.3,431.0 L986.5,428.5 L986.8,426.0 L987.0,423.5 L987.3,421.0 L987.5,418.5 L987.8,416.1 L988.0,413.7 L988.3,411.3 L988.5,408.9 L988.8,406.4 L989.0,403.9 L989.3,401.4 L989.5,398.7 L989.8,396.0 L990.0,393.2 L990.3,390.2 L990.5,387.1 L990.8,383.8 L991.0,380.5 L991.3,377.2 L991.5,373.8 L991.8,370.4 L992.0,367.0 L992.3,363.7 L992.5,360.3 L992.8,356.9 L993.0,353.5 L993.3,350.1 L993.5,346.7 L993.8,343.4 L994.0,340.2 L994.3,337.0 L994.5,333.9 L994.8,330.9 L995.0,327.9 L995.3,325.0 L995.5,322.1 L995.8,319.2 L996.0,316.4 L996.3,313.6 L996.5,310.8 L996.8,308.0 L997.0,305.3 L997.3,302.6 L997.5,300.0 L997.8,297.5 L998.0,294.9 L998.3,292.3 L998.5,289.7 L998.8,287.0 L999.0,284.2 L999.3,281.2 L999.5,278.1 L999.8,274.8 L1000.0,271.3 L1000.3,267.6 L1000.5,263.9 L1000.8,260.2 L1001.0,256.5 L1001.3,252.8 L1001.5,249.3 L1001.8,245.8 L1002.0,242.4 L1002.3,238.9 L1002.5,235.5 L1002.8,232.1 L1003.0,228.7 L1003.3,225.3 L1003.5,222.0 L1003.8,218.7 L1004.0,215.3 L1004.3,211.9 L1004.5,208.6 L1004.8,205.2 L1005.0,202.0 L1005.3,198.8 L1005.5,195.8 L1005.8,193.0 L1006.0,190.3 L1006.3,187.6 L1006.5,185.0 L1006.8,182.5 L1007.0,180.0 L1007.3,177.6 L1007.5,175.3 L1007.8,173.1 L1008.0,171.0 L1008.3,169.0 L1008.5,167.1 L1008.8,165.3 L1009.0,163.6 L1009.3,161.9 L1009.5,160.2 L1009.8,158.6 L1010.0,157.1 L1010.3,155.6 L1010.5,154.1 L1010.8,152.7 L1011.0,151.3 L1011.3,149.9 L1011.5,148.5 L1011.8,147.2 L1012.0,145.8 L1012.3,144.5 L1012.5,143.1 L1012.8,141.8 L1013.0,140.5 L1013.3,139.1 L1013.5,137.7 L1013.8,136.3 L1014.0,135.0 L1014.3,133.6 L1014.5,132.2 L1014.8,130.8 L1015.0,129.4 L1015.3,128.0 L1015.5,126.7 L1015.8,125.3 L1016.0,124.0 L1016.3,122.6 L1016.5,121.3 L1016.8,120.0 L1017.0,118.7 L1017.3,117.5 L1017.5,116.3 L1017.8,115.1 L1018.0,113.9 L1018.3,112.8 L1018.5,111.7 L1018.8,110.7 L1019.0,109.7 L1019.3,108.7 L1019.5,107.7 L1019.8,106.8 L1020.0,105.8 L1020.3,104.9 L1020.5,104.0 L1020.8,103.2 L1021.0,102.3 L1021.3,101.4 L1021.5,100.6 L1021.8,99.8 L1022.0,99.0 L1022.3,98.2 L1022.5,97.4 L1022.8,96.6 L1023.0,95.8 L1023.3,95.1 L1023.5,94.3 L1023.8,93.6 L1024.0,92.9 L1024.3,92.1 L1024.5,91.4 L1024.8,90.7 L1025.0,90.0 L1025.3,89.3 L1025.5,88.6 L1025.8,87.9 L1026.0,87.2 L1026.3,86.5 L1026.5,85.9 L1026.8,85.2 L1027.0,84.6 L1027.3,83.9 L1027.5,83.3 L1027.8,82.7 L1028.0,82.1 L1028.3,81.6 L1028.5,81.0 L1028.8,80.4 L1029.0,79.9 L1029.3,79.4 L1029.5,78.8 L1029.8,78.3 L1030.0,77.8 L1030.8,76.1 L1031.6,74.5 L1032.4,73.0 L1033.2,71.6 L1034.0,70.3 L1034.8,69.2 L1035.6,67.9 L1036.4,67.3 L1037.2,66.3 L1038.0,66.3 L1038.8,65.1 L1039.6,64.7 L1040.4,63.5 L1041.2,63.2 L1042.0,62.9 L1042.8,62.6 L1043.6,61.5 L1044.4,61.3 L1045.2,61.3 L1046.0,60.8 L1046.8,59.7 L1047.6,59.7 L1048.4,59.6 L1049.2,58.8 L1050.0,58.8 L1050.8,58.4 L1051.6,58.5 L1052.4,57.7 L1053.2,57.6 L1054.0,57.0 L1054.8,57.2 L1055.6,56.5 L1056.4,56.5 L1057.2,56.2 L1058.0,56.0 L1058.8,55.6 L1059.6,55.6 L1060.4,55.8 L1061.2,55.3 L1062.0,54.9 L1062.8,55.6 L1063.6,54.9 L1064.4,55.5 L1065.2,55.0 L1066.0,54.7 L1066.8,55.2 L1067.6,55.1 L1068.4,54.4 L1069.2,54.1 L1070.0,54.6 L1070.8,54.8 L1071.6,54.5 L1072.4,54.6 L1073.2,54.2 L1074.0,54.4 L1074.8,53.9 L1075.6,54.0 L1076.4,54.0 L1077.2,53.9 L1078.0,53.9 L1078.8,54.3 L1079.6,53.6 L1080.4,53.6 L1081.2,53.6 L1082.0,54.3 L1082.8,53.8 L1083.6,53.3 L1084.4,54.1 L1085.2,54.1 L1086.0,54.0 L1086.8,53.5 L1087.6,53.9 L1088.4,53.4 L1089.2,53.2 L1090.0,54.0 L1090.8,53.9 L1091.6,53.2 L1092.4,53.9 L1093.2,53.0 L1094.0,53.3 L1094.8,53.0 L1095.6,53.1 L1096.4,53.1 L1097.2,53.7 L1098.0,53.3 L1098.8,53.2 L1099.6,53.2 L1100.4,53.3 L1101.2,53.9 L1102.0,53.6 L1102.8,53.1 L1103.6,53.7 L1104.4,53.5 L1105.2,53.4 L1106.0,53.5 L1106.8,53.7 L1107.6,53.8 L1108.4,53.5 L1109.2,53.7 L1110.0,53.5 L1110.8,53.7 L1111.6,53.4 L1112.4,53.4 L1113.2,53.5 L1114.0,53.7 L1114.8,53.3 L1115.6,54.0 L1116.4,53.5 L1117.2,53.9 L1118.0,53.7 L1118.8,54.0 L1119.6,53.7 L1120.4,53.4 L1121.2,53.4 L1122.0,53.6 L1122.8,53.8 L1123.6,53.9 L1124.4,53.1 L1125.2,53.0 L1126.0,53.1 L1126.8,53.1 L1127.6,53.0 L1128.4,53.0 L1129.2,53.3 L1130.0,53.1 L1130.8,53.7 L1131.6,53.7 L1132.4,54.1 L1133.2,54.1 L1134.0,53.8 L1134.8,54.0 L1135.6,53.0 L1136.4,53.3 L1137.2,54.0 L1138.0,53.5 L1138.8,53.2 L1139.6,53.8 L1140.4,53.5 L1141.2,53.6 L1142.0,53.4 L1142.8,53.3 L1143.6,53.1 L1144.4,53.7 L1145.2,54.1 L1146.0,54.1 L1146.8,53.9 L1147.6,54.1 L1148.4,53.4 L1149.2,53.4 L1150.0,54.1 L1150.8,53.7 L1151.6,53.8 L1152.4,53.1 L1153.2,53.3 L1154.0,53.6 L1154.8,53.9 L1155.6,54.0 L1156.4,53.9 L1157.2,53.4 L1158.0,53.5 L1158.8,54.0 L1159.6,54.2 L1160.4,53.6 L1161.2,53.3 L1162.0,53.8 L1162.8,53.7 L1163.6,53.5 L1164.4,53.3 L1165.2,53.5 L1166.0,53.8 L1166.8,53.2 L1167.6,53.7 L1168.4,54.1 L1169.2,53.9 L1170.0,53.4 L1170.8,53.6 L1171.6,53.2 L1172.4,53.9 L1173.2,53.8 L1174.0,53.3 L1174.8,53.7 L1175.6,53.8 L1176.4,53.8 L1177.2,53.5 L1178.0,53.5 L1178.8,53.5 L1179.6,54.2 L1180.4,53.5 L1181.2,53.7 L1182.0,53.6 L1182.8,53.3 L1183.6,53.6 L1184.4,53.4 L1185.2,53.5 L1186.0,53.6 L1186.8,53.5 L1187.6,54.2 L1188.4,53.5 L1189.2,53.5 L1190.0,53.9 L1190.8,53.6 L1191.6,53.7 L1192.4,53.9 L1193.2,53.3 L1194.0,53.9 L1194.8,53.3 L1195.6,53.5 L1196.4,54.1 L1197.2,54.3 L1198.0,53.9 L1198.8,53.4 L1199.6,53.7 L1200.4,53.5 L1201.2,54.1 L1202.0,53.5 L1202.8,53.4 L1203.6,53.9 L1204.4,53.9 L1205.2,53.9 L1206.0,53.8 L1206.8,54.3 L1207.6,53.7 L1208.4,54.3 L1209.2,53.7 L1210.0,53.8 L1210.8,53.6 L1211.6,54.0 L1212.4,54.1 L1213.2,53.5 L1214.0,53.8 L1214.8,54.1 L1215.6,53.8 L1216.4,54.0 L1217.2,53.9 L1218.0,54.1 L1218.8,53.7 L1219.6,53.6 L1220.4,53.3 L1221.2,54.3 L1222.0,54.2 L1222.8,53.7 L1223.6,54.4 L1224.4,54.3 L1225.2,53.5 L1226.0,54.2 L1226.8,53.8 L1227.6,53.7 L1228.4,53.6 L1229.2,53.8 L1230.0,53.4 L1230.8,53.4 L1231.6,53.4 L1232.4,53.7 L1233.2,53.5 L1234.0,53.5 L1234.8,54.2 L1235.6,53.7 L1236.4,53.9 L1237.2,54.0 L1238.0,54.4 L1238.8,53.5 L1239.6,53.6 L1240.4,54.3 L1241.2,54.4 L1242.0,54.4 L1242.8,53.9 L1243.6,53.8 L1244.4,53.6 L1245.2,54.4 L1246.0,54.2 L1246.8,54.0 L1247.6,54.2 L1248.4,53.7 L1249.2,54.0 L1250.0,54.4 L1250.8,53.5 L1251.6,54.1 L1252.4,53.6 L1253.2,54.3 L1254.0,54.3 L1254.8,54.1 L1255.6,53.9 L1256.4,53.4 L1257.2,53.9 L1258.0,53.8 L1258.8,53.8 L1259.6,53.5 L1260.4,54.4 L1261.2,54.0 L1262.0,54.0 L1262.8,54.3 L1263.6,54.4 L1264.4,54.0 L1265.2,54.0 L1266.0,54.3 L1266.8,53.8 L1267.6,54.4 L1268.4,53.4 L1269.2,54.3 L1270.0,54.0 L1270.8,54.1 L1271.6,54.5 L1272.4,53.7 L1273.2,53.9 L1274.0,54.3 L1274.8,54.3 L1275.6,54.0 L1276.4,54.3 L1277.2,54.2 L1278.0,54.4 L1278.8,54.2 L1279.6,53.8 L1280.4,53.8 L1281.2,53.5 L1282.0,53.6 L1282.8,53.5 L1283.6,54.5 L1284.4,53.6 L1285.2,54.1 L1286.0,53.6 L1286.8,54.5 L1287.6,54.0 L1288.4,53.6 L1289.2,54.4 L1290.0,54.4 L1290.8,54.5 L1291.6,53.7 L1292.4,53.9 L1293.2,54.2 L1294.0,53.8 L1294.8,54.1 L1295.6,54.2 L1296.4,54.3 L1297.2,54.4 L1298.0,54.3 L1298.8,53.8 L1299.6,54.3 L1300.4,53.9 L1301.2,53.6 L1302.0,53.5 L1302.8,54.1 L1303.6,53.8 L1304.4,53.6 L1305.2,54.0 L1306.0,53.9 L1306.8,53.8 L1307.6,54.1 L1308.4,54.0 L1309.2,54.0 L1310.0,54.5 L1310.8,54.4 L1311.6,53.8 L1312.4,54.4 L1313.2,53.8 L1314.0,54.5 L1314.8,53.5 L1315.6,53.8 L1316.4,54.5 L1317.2,54.2 L1318.0,54.2 L1318.8,53.7 L1319.6,53.6 L1320.4,54.5 L1321.2,53.5 L1322.0,53.6 L1322.8,53.9 L1323.6,54.4 L1324.4,54.2 L1325.2,54.5 L1326.0,54.3 L1326.8,53.9 L1327.6,54.5 L1328.4,53.8 L1329.2,53.5 L1330.0,54.5 L1330.8,54.4 L1331.6,54.2 L1332.4,54.0 L1333.2,53.7 L1334.0,53.7 L1334.8,53.5 L1335.6,53.6 L1336.4,54.0 L1337.2,54.4 L1338.0,54.5 L1338.8,54.0 L1339.6,54.2 L1340.4,54.0 L1341.2,54.3 L1342.0,54.2 L1342.8,54.5 L1343.6,54.4 L1344.4,54.2 L1345.2,54.1 L1346.0,53.6 L1346.8,54.0 L1347.6,53.9 L1348.4,53.6 L1349.2,53.7 L1350.0,53.9 L1350.8,53.6 L1351.6,54.1 L1352.4,53.8 L1353.2,54.5 L1354.0,54.2 L1354.8,54.0 L1355.6,53.9 L1356.4,53.9 L1357.2,53.7 L1358.0,54.5 L1358.8,54.5 L1359.6,54.2 L1360.4,54.2 L1361.2,53.6 L1362.0,54.0 L1362.8,53.6 L1363.6,53.8 L1364.4,54.1 L1365.2,53.6 L1366.0,53.7 L1366.8,54.3 L1367.6,54.0 L1368.4,54.4 L1369.2,53.6 L1370.0,53.5 L1370.8,54.5 L1371.6,54.1 L1372.4,54.2 L1373.2,54.1 L1374.0,53.6 L1374.8,54.5 L1375.6,54.0 L1376.4,54.5 L1377.2,53.6 L1378.0,53.8 L1378.8,54.1 L1379.6,53.7 L1380.4,54.4 L1381.2,53.7 L1382.0,53.5 L1382.8,53.6 L1383.6,53.7 L1384.4,54.5 L1385.2,54.4 L1386.0,54.2 L1386.8,53.9 L1387.6,53.5 L1388.4,54.4 L1389.2,53.6 L1390.0,53.7 L1390.8,53.9 L1391.6,54.4 L1392.4,53.7 L1393.2,53.5 L1394.0,54.4 L1394.8,53.5 L1395.6,54.3 L1396.4,53.6 L1397.2,53.8 L1398.0,53.7 L1398.8,53.9 L1399.6,54.5 L1400.4,54.4 L1401.2,54.0 L1402.0,53.5 L1402.8,53.6 L1403.6,53.8 L1404.4,54.3 L1405.2,54.5 L1406.0,53.5 L1406.8,53.8 L1407.6,54.5 L1408.4,53.6 L1409.2,53.5 L1410.0,53.7 L1410.8,54.4 L1411.6,53.7 L1412.4,54.2 L1413.2,53.6 L1414.0,54.2 L1414.8,53.6 L1415.6,54.1 L1416.4,54.3 L1417.2,54.4 L1418.0,53.9 L1418.8,54.5 L1419.6,53.9 L1420.4,54.5 L1421.2,54.5 L1422.0,54.5 L1422.8,53.6 L1423.6,53.8 L1424.4,54.2 L1425.2,54.4 L1426.0,53.7 L1426.8,54.3 L1427.6,54.0 L1428.4,53.5 L1429.2,53.5 L1430.0,53.5 L1430.8,53.7 L1431.6,54.5 L1432.4,54.2 L1433.2,54.4 L1434.0,54.5 L1434.8,53.9 L1435.6,54.2 L1436.4,54.2 L1437.2,54.2 L1438.0,53.6 L1438.8,54.4 L1439.6,53.6 L1440.4,53.9 L1441.2,54.2 L1442.0,54.3 L1442.8,54.4 L1443.6,53.8 L1444.4,53.8 L1445.2,54.3 L1446.0,53.5 L1446.8,54.4 L1447.6,53.8 L1448.4,53.9 L1449.2,53.8 L1450.0,54.2 L1450.8,53.6 L1451.6,53.6 L1452.4,53.5 L1453.2,53.6 L1454.0,54.1 L1454.8,54.5 L1455.6,53.5 L1456.4,54.0 L1457.2,53.8 L1458.0,53.8 L1458.8,53.8 L1459.6,53.6 L1460.4,53.9 L1461.2,53.7 L1462.0,53.5 L1462.8,53.6 L1463.6,54.5 L1464.4,54.2 L1465.2,54.5 L1466.0,54.3 L1466.8,54.3 L1467.6,53.7 L1468.4,53.6 L1469.2,54.5 L1470.0,54.2 L1470.8,54.2 L1471.6,53.6 L1472.4,54.3 L1473.2,54.0 L1474.0,53.5 L1474.8,53.7 L1475.6,54.5 L1476.4,54.1 L1477.2,53.5 L1478.0,53.5 L1478.8,54.3 L1479.6,53.8 L1480.4,54.0 L1481.2,53.6 L1482.0,53.6 L1482.8,54.0 L1483.6,53.9 L1484.4,53.7 L1485.2,53.6 L1486.0,53.9 L1486.8,53.6 L1487.6,53.5 L1488.4,54.0 L1489.2,53.5 L1490.0,54.3 L1490.8,54.3 L1491.6,54.2 L1492.4,54.5 L1493.2,53.6 L1494.0,53.9 L1494.8,53.9 L1495.6,53.5 L1496.4,54.4 L1497.2,53.5 L1498.0,54.5 L1498.8,54.2 L1499.6,54.5 L1500.4,53.5 L1501.2,54.4 L1502.0,54.5 L1502.8,54.3 L1503.6,54.1 L1504.4,54.2 L1505.2,54.0 L1506.0,54.4 L1506.8,54.1 L1507.6,54.1 L1508.4,53.9 L1509.2,54.1 L1510.0,54.1 L1510.8,54.5 L1511.6,54.3 L1512.4,53.8 L1513.2,54.2 L1514.0,53.7 L1514.8,54.0 L1515.6,54.0 L1516.4,54.2 L1517.2,53.5 L1518.0,53.6 L1518.8,53.7 L1519.6,54.1 L1520.4,53.6 L1521.2,54.1 L1522.0,54.4 L1522.8,53.9 L1523.6,53.7 L1524.4,54.1 L1525.2,53.9 L1526.0,53.9 L1526.8,53.6 L1527.6,54.2 L1528.4,53.8 L1529.2,54.5 L1530.0,54.0 L1530.8,54.2 L1531.6,54.5 L1532.4,54.5 L1533.2,53.5 L1534.0,54.5 L1534.8,53.6 L1535.6,54.5 L1536.4,54.3 L1537.2,53.7 L1538.0,54.2 L1538.8,54.1 L1539.6,53.9 L1540.4,54.1 L1541.2,54.0 L1542.0,54.2 L1542.8,54.2 L1543.6,53.5 L1544.4,54.2 L1545.2,54.2 L1546.0,54.4 L1546.8,54.0 L1547.6,54.0 L1548.4,53.6 L1549.2,53.7 L1550.0,54.4 L1550.8,53.5 L1551.6,54.4 L1552.4,53.6 L1553.2,53.9 L1554.0,54.1 L1554.8,53.5 L1555.6,53.9 L1556.4,54.3 L1557.2,53.9 L1558.0,53.6 L1558.8,53.5 L1559.6,54.5 L1560.4,53.6 L1561.2,54.2 L1562.0,54.2 L1562.8,53.8 L1563.6,54.1 L1564.4,54.2 L1565.2,53.7 L1566.0,53.7 L1566.8,54.5 L1567.6,53.7 L1568.4,54.0 L1569.2,54.0 L1570.0,54.3 L1570.8,54.4 L1571.6,54.3 L1572.4,54.1 L1573.2,54.0 L1574.0,53.6 L1574.8,54.1 L1575.6,53.9 L1576.4,54.3 L1577.2,53.9 L1578.0,53.6 L1578.8,53.9 L1579.6,54.4 L1580.4,54.0 L1581.2,54.2 L1582.0,53.5 L1582.8,53.7 L1583.6,53.7 L1584.4,54.0 L1585.2,53.6 L1586.0,54.5 L1586.8,53.8 L1587.6,53.5 L1588.4,53.7 L1589.2,54.0 L1590.0,54.1 L1590.8,54.3 L1591.6,53.5 L1592.4,54.5 L1593.2,54.4 L1594.0,54.0 L1594.8,54.2 L1595.6,53.8 L1596.4,53.6 L1597.2,53.5 L1598.0,54.5 L1598.8,54.4 L1599.6,53.9 L1600.4,54.1 L1601.2,54.0 L1602.0,54.2 L1602.8,53.6 L1603.6,54.3 L1604.4,53.6 L1605.2,54.1 L1606.0,54.1 L1606.8,54.4 L1607.6,54.1 L1608.4,53.6 L1609.2,54.3 L1610.0,53.9 L1610.8,54.1 L1611.6,54.3 L1612.4,54.5 L1613.2,53.6 L1614.0,54.0 L1614.8,53.8 L1615.6,54.4 L1616.4,53.9 L1617.2,54.5 L1618.0,54.3 L1618.8,53.9 L1619.6,54.3 L1620.4,54.2 L1621.2,53.6 L1622.0,53.8 L1622.8,53.6 L1623.6,54.4 L1624.4,53.9 L1625.2,53.8 L1626.0,54.2 L1626.8,54.5 L1627.6,53.6 L1628.4,54.2 L1629.2,53.7 L1630.0,54.3 L1630.8,54.3 L1631.6,54.3 L1632.4,54.1 L1633.2,53.6 L1634.0,54.4 L1634.8,53.6 L1635.6,54.1 L1636.4,54.5 L1637.2,53.7 L1638.0,54.0 L1638.8,54.2 L1639.6,54.2 L1640.4,53.8 L1641.2,53.9 L1642.0,54.4 L1642.8,54.2 L1643.6,53.6 L1644.4,54.2 L1645.2,54.4 L1646.0,54.1 L1646.8,54.4 L1647.6,53.7 L1648.4,53.8 L1649.2,54.4 L1650.0,53.7 L1650.8,53.6 L1651.6,53.6 L1652.4,54.4 L1653.2,54.4 L1654.0,53.7 L1654.8,54.3 L1655.6,53.7 L1656.4,54.1 L1657.2,53.5 L1658.0,54.1 L1658.8,54.3 L1659.6,54.0 L1660.4,54.1 L1661.2,53.6 L1662.0,54.0 L1662.8,54.3 L1663.6,53.9 L1664.4,54.3 L1665.2,54.1 L1666.0,54.3 L1666.8,54.3 L1667.6,53.8 L1668.4,54.4 L1669.2,54.3 L1670.0,53.9 L1670.8,54.2 L1671.6,53.9 L1672.4,54.1 L1673.2,53.8 L1674.0,54.0 L1674.8,53.8 L1675.6,54.4 L1676.4,54.1 L1677.2,54.1 L1678.0,54.0 L1678.8,54.0 L1679.6,53.6 L1680.4,54.2 L1681.2,53.9 L1682.0,53.8 L1682.8,54.0 L1683.6,53.6 L1684.4,54.2 L1685.2,54.3 L1686.0,53.9 L1686.8,53.6 L1687.6,54.5 L1688.4,54.1 L1689.2,53.8 L1690.0,53.5 L1690.8,54.1 L1691.6,53.7 L1692.4,54.4 L1693.2,54.2 L1694.0,53.8 L1694.8,53.9 L1695.6,53.5 L1696.4,53.7 L1697.2,54.1 L1698.0,54.4 L1698.8,53.9 L1699.6,54.5 L1700.4,53.7 L1701.2,53.6 L1702.0,54.4 L1702.8,53.9 L1703.6,53.8 L1704.4,53.9 L1705.2,54.1 L1706.0,53.7 L1706.8,53.6 L1707.6,54.1 L1708.4,54.2 L1709.2,54.1 L1710.0,53.6 L1710.8,54.4 L1711.6,53.9 L1712.4,54.0 L1713.2,54.4 L1714.0,53.6 L1714.8,54.0 L1715.6,53.9 L1716.4,54.2 L1717.2,53.7 L1718.0,53.7 L1718.8,53.7 L1719.6,54.1 L1720.4,53.8 L1721.2,54.5 L1722.0,54.4 L1722.8,54.2 L1723.6,53.9 L1724.4,54.4 L1725.2,54.1 L1726.0,54.3 L1726.8,54.5 L1727.6,53.6 L1728.4,54.3 L1729.2,54.4 L1730.0,53.9 L1730.8,53.8 L1731.6,53.5 L1732.4,54.4 L1733.2,53.7 L1734.0,53.5 L1734.8,53.5 L1735.6,54.0 L1736.4,54.2 L1737.2,54.4 L1738.0,54.2 L1738.8,53.6 L1739.6,54.5 L1740.4,54.4 L1741.2,54.3 L1742.0,54.4 L1742.8,54.4 L1743.6,54.2 L1744.4,54.3 L1745.2,53.5 L1746.0,54.5 L1746.8,53.5 L1747.6,53.9 L1747.6,67.6 L1746.8,67.2 L1746.0,66.9 L1745.2,67.2 L1744.4,67.8 L1743.6,66.9 L1742.8,67.1 L1742.0,66.9 L1741.2,67.9 L1740.4,66.9 L1739.6,67.6 L1738.8,67.8 L1738.0,67.3 L1737.2,67.1 L1736.4,67.5 L1735.6,67.1 L1734.8,67.3 L1734.0,67.5 L1733.2,67.3 L1732.4,67.5 L1731.6,67.5 L1730.8,67.7 L1730.0,67.2 L1729.2,67.8 L1728.4,67.7 L1727.6,67.6 L1726.8,67.6 L1726.0,67.9 L1725.2,67.9 L1724.4,67.7 L1723.6,67.7 L1722.8,67.1 L1722.0,67.9 L1721.2,67.0 L1720.4,67.5 L1719.6,67.8 L1718.8,67.4 L1718.0,67.1 L1717.2,67.2 L1716.4,67.8 L1715.6,67.0 L1714.8,67.8 L1714.0,67.2 L1713.2,67.3 L1712.4,67.0 L1711.6,67.5 L1710.8,67.0 L1710.0,67.5 L1709.2,66.9 L1708.4,67.1 L1707.6,67.3 L1706.8,67.5 L1706.0,67.2 L1705.2,67.3 L1704.4,67.3 L1703.6,67.1 L1702.8,67.1 L1702.0,67.1 L1701.2,67.5 L1700.4,67.9 L1699.6,67.6 L1698.8,67.0 L1698.0,67.1 L1697.2,67.6 L1696.4,67.2 L1695.6,67.6 L1694.8,67.3 L1694.0,67.7 L1693.2,67.5 L1692.4,67.7 L1691.6,66.9 L1690.8,67.6 L1690.0,66.9 L1689.2,67.6 L1688.4,67.9 L1687.6,67.0 L1686.8,67.3 L1686.0,67.0 L1685.2,67.3 L1684.4,66.9 L1683.6,67.1 L1682.8,66.9 L1682.0,67.4 L1681.2,67.7 L1680.4,67.0 L1679.6,67.1 L1678.8,67.3 L1678.0,67.7 L1677.2,67.3 L1676.4,66.9 L1675.6,67.4 L1674.8,66.9 L1674.0,67.8 L1673.2,67.8 L1672.4,67.1 L1671.6,66.9 L1670.8,66.9 L1670.0,67.7 L1669.2,67.7 L1668.4,67.6 L1667.6,67.9 L1666.8,67.1 L1666.0,67.0 L1665.2,67.7 L1664.4,67.0 L1663.6,67.1 L1662.8,67.7 L1662.0,67.5 L1661.2,67.8 L1660.4,66.8 L1659.6,67.1 L1658.8,67.4 L1658.0,66.9 L1657.2,67.0 L1656.4,67.5 L1655.6,67.4 L1654.8,67.5 L1654.0,67.5 L1653.2,67.8 L1652.4,67.0 L1651.6,66.9 L1650.8,67.3 L1650.0,66.9 L1649.2,67.2 L1648.4,67.0 L1647.6,67.8 L1646.8,67.0 L1646.0,67.1 L1645.2,67.2 L1644.4,67.0 L1643.6,66.9 L1642.8,67.1 L1642.0,67.2 L1641.2,67.6 L1640.4,67.6 L1639.6,67.1 L1638.8,67.7 L1638.0,67.9 L1637.2,66.9 L1636.4,67.6 L1635.6,67.5 L1634.8,67.8 L1634.0,67.3 L1633.2,67.5 L1632.4,67.0 L1631.6,67.4 L1630.8,67.1 L1630.0,67.6 L1629.2,67.5 L1628.4,67.8 L1627.6,67.5 L1626.8,67.9 L1626.0,67.2 L1625.2,67.4 L1624.4,67.0 L1623.6,67.1 L1622.8,67.8 L1622.0,67.3 L1621.2,67.5 L1620.4,66.9 L1619.6,67.4 L1618.8,67.0 L1618.0,67.4 L1617.2,66.9 L1616.4,67.6 L1615.6,67.1 L1614.8,66.9 L1614.0,67.1 L1613.2,67.1 L1612.4,67.8 L1611.6,67.4 L1610.8,67.4 L1610.0,67.8 L1609.2,67.2 L1608.4,67.2 L1607.6,67.6 L1606.8,67.0 L1606.0,67.8 L1605.2,67.7 L1604.4,67.2 L1603.6,66.9 L1602.8,66.9 L1602.0,67.0 L1601.2,67.2 L1600.4,67.4 L1599.6,67.6 L1598.8,67.6 L1598.0,67.5 L1597.2,67.1 L1596.4,67.5 L1595.6,67.1 L1594.8,67.4 L1594.0,67.9 L1593.2,67.2 L1592.4,66.9 L1591.6,67.0 L1590.8,67.0 L1590.0,67.8 L1589.2,67.5 L1588.4,67.7 L1587.6,67.5 L1586.8,67.8 L1586.0,67.7 L1585.2,67.8 L1584.4,67.7 L1583.6,67.1 L1582.8,67.2 L1582.0,67.5 L1581.2,67.0 L1580.4,67.4 L1579.6,67.6 L1578.8,67.6 L1578.0,67.6 L1577.2,67.2 L1576.4,67.7 L1575.6,66.8 L1574.8,67.1 L1574.0,67.1 L1573.2,66.9 L1572.4,67.4 L1571.6,67.0 L1570.8,67.2 L1570.0,66.9 L1569.2,67.0 L1568.4,67.3 L1567.6,67.4 L1566.8,67.9 L1566.0,67.5 L1565.2,67.1 L1564.4,67.1 L1563.6,67.7 L1562.8,66.9 L1562.0,67.2 L1561.2,67.7 L1560.4,67.3 L1559.6,67.7 L1558.8,67.3 L1558.0,67.1 L1557.2,67.0 L1556.4,67.2 L1555.6,66.9 L1554.8,67.6 L1554.0,67.2 L1553.2,67.7 L1552.4,67.0 L1551.6,67.1 L1550.8,67.5 L1550.0,67.1 L1549.2,67.2 L1548.4,66.9 L1547.6,67.2 L1546.8,67.6 L1546.0,66.8 L1545.2,67.6 L1544.4,67.1 L1543.6,67.1 L1542.8,66.8 L1542.0,67.5 L1541.2,67.6 L1540.4,67.8 L1539.6,67.8 L1538.8,67.7 L1538.0,67.6 L1537.2,67.7 L1536.4,67.9 L1535.6,67.0 L1534.8,67.3 L1534.0,67.4 L1533.2,67.4 L1532.4,66.8 L1531.6,67.7 L1530.8,67.6 L1530.0,67.0 L1529.2,67.1 L1528.4,66.8 L1527.6,67.1 L1526.8,67.6 L1526.0,67.6 L1525.2,67.4 L1524.4,67.6 L1523.6,67.2 L1522.8,67.4 L1522.0,67.7 L1521.2,67.4 L1520.4,66.8 L1519.6,67.0 L1518.8,66.8 L1518.0,67.8 L1517.2,67.0 L1516.4,67.1 L1515.6,67.0 L1514.8,66.9 L1514.0,67.0 L1513.2,66.8 L1512.4,67.4 L1511.6,67.2 L1510.8,67.3 L1510.0,67.7 L1509.2,67.3 L1508.4,67.9 L1507.6,66.9 L1506.8,67.6 L1506.0,67.3 L1505.2,67.0 L1504.4,67.2 L1503.6,67.0 L1502.8,67.6 L1502.0,67.0 L1501.2,67.2 L1500.4,67.7 L1499.6,66.9 L1498.8,67.5 L1498.0,67.5 L1497.2,67.5 L1496.4,67.0 L1495.6,67.0 L1494.8,67.8 L1494.0,66.8 L1493.2,67.0 L1492.4,67.6 L1491.6,66.9 L1490.8,67.1 L1490.0,67.8 L1489.2,67.7 L1488.4,66.8 L1487.6,67.1 L1486.8,67.4 L1486.0,67.4 L1485.2,67.0 L1484.4,67.6 L1483.6,67.8 L1482.8,67.5 L1482.0,66.9 L1481.2,66.8 L1480.4,67.1 L1479.6,66.8 L1478.8,67.7 L1478.0,67.1 L1477.2,67.6 L1476.4,67.3 L1475.6,67.0 L1474.8,67.5 L1474.0,66.8 L1473.2,67.5 L1472.4,67.4 L1471.6,66.9 L1470.8,67.1 L1470.0,67.2 L1469.2,67.1 L1468.4,66.9 L1467.6,67.3 L1466.8,67.5 L1466.0,67.0 L1465.2,67.2 L1464.4,67.1 L1463.6,67.3 L1462.8,67.7 L1462.0,67.0 L1461.2,67.5 L1460.4,66.9 L1459.6,67.7 L1458.8,67.3 L1458.0,67.8 L1457.2,67.5 L1456.4,67.0 L1455.6,67.3 L1454.8,66.8 L1454.0,66.8 L1453.2,67.0 L1452.4,67.8 L1451.6,67.2 L1450.8,67.6 L1450.0,67.7 L1449.2,66.8 L1448.4,66.9 L1447.6,67.4 L1446.8,66.7 L1446.0,67.4 L1445.2,67.8 L1444.4,67.2 L1443.6,67.2 L1442.8,67.8 L1442.0,67.4 L1441.2,67.1 L1440.4,67.7 L1439.6,67.8 L1438.8,67.7 L1438.0,67.2 L1437.2,67.5 L1436.4,66.9 L1435.6,67.2 L1434.8,66.8 L1434.0,67.8 L1433.2,67.0 L1432.4,66.8 L1431.6,67.8 L1430.8,67.7 L1430.0,67.4 L1429.2,67.7 L1428.4,67.2 L1427.6,67.3 L1426.8,67.2 L1426.0,67.0 L1425.2,66.9 L1424.4,67.6 L1423.6,67.8 L1422.8,67.7 L1422.0,67.5 L1421.2,67.7 L1420.4,67.7 L1419.6,67.5 L1418.8,67.7 L1418.0,67.4 L1417.2,66.8 L1416.4,66.8 L1415.6,67.6 L1414.8,66.9 L1414.0,67.5 L1413.2,67.4 L1412.4,67.5 L1411.6,67.0 L1410.8,67.6 L1410.0,67.5 L1409.2,67.0 L1408.4,66.9 L1407.6,67.1 L1406.8,67.8 L1406.0,67.0 L1405.2,67.1 L1404.4,67.6 L1403.6,67.7 L1402.8,66.8 L1402.0,67.2 L1401.2,67.4 L1400.4,67.6 L1399.6,67.7 L1398.8,67.5 L1398.0,67.7 L1397.2,66.8 L1396.4,67.6 L1395.6,67.1 L1394.8,66.9 L1394.0,67.5 L1393.2,66.9 L1392.4,67.7 L1391.6,67.3 L1390.8,67.3 L1390.0,67.8 L1389.2,67.5 L1388.4,67.2 L1387.6,67.7 L1386.8,67.7 L1386.0,67.1 L1385.2,67.2 L1384.4,67.8 L1383.6,66.7 L1382.8,67.1 L1382.0,67.6 L1381.2,67.3 L1380.4,67.3 L1379.6,67.7 L1378.8,67.6 L1378.0,66.8 L1377.2,67.2 L1376.4,67.8 L1375.6,67.6 L1374.8,67.3 L1374.0,67.5 L1373.2,66.9 L1372.4,66.9 L1371.6,67.1 L1370.8,67.8 L1370.0,67.3 L1369.2,67.6 L1368.4,66.8 L1367.6,66.8 L1366.8,67.0 L1366.0,67.6 L1365.2,67.1 L1364.4,67.0 L1363.6,66.8 L1362.8,67.0 L1362.0,67.6 L1361.2,67.2 L1360.4,67.4 L1359.6,67.7 L1358.8,67.1 L1358.0,67.2 L1357.2,67.8 L1356.4,67.3 L1355.6,67.1 L1354.8,67.7 L1354.0,67.4 L1353.2,67.0 L1352.4,66.9 L1351.6,66.9 L1350.8,66.8 L1350.0,67.2 L1349.2,67.8 L1348.4,66.9 L1347.6,67.2 L1346.8,66.9 L1346.0,66.9 L1345.2,67.7 L1344.4,67.5 L1343.6,66.9 L1342.8,67.1 L1342.0,67.4 L1341.2,67.0 L1340.4,67.3 L1339.6,66.8 L1338.8,67.1 L1338.0,67.6 L1337.2,67.0 L1336.4,67.0 L1335.6,67.7 L1334.8,67.5 L1334.0,67.5 L1333.2,67.1 L1332.4,67.1 L1331.6,67.0 L1330.8,67.3 L1330.0,66.9 L1329.2,66.8 L1328.4,67.6 L1327.6,66.9 L1326.8,67.6 L1326.0,67.6 L1325.2,66.8 L1324.4,67.4 L1323.6,66.9 L1322.8,67.3 L1322.0,66.7 L1321.2,67.1 L1320.4,67.6 L1319.6,67.6 L1318.8,67.2 L1318.0,67.3 L1317.2,67.6 L1316.4,66.8 L1315.6,67.0 L1314.8,66.9 L1314.0,67.1 L1313.2,67.4 L1312.4,66.8 L1311.6,67.6 L1310.8,67.4 L1310.0,67.0 L1309.2,67.2 L1308.4,67.5 L1307.6,67.4 L1306.8,67.2 L1306.0,67.4 L1305.2,67.5 L1304.4,67.3 L1303.6,66.7 L1302.8,67.6 L1302.0,67.1 L1301.2,66.9 L1300.4,66.7 L1299.6,67.7 L1298.8,67.0 L1298.0,66.9 L1297.2,67.7 L1296.4,67.7 L1295.6,66.7 L1294.8,67.3 L1294.0,67.3 L1293.2,66.9 L1292.4,67.1 L1291.6,66.8 L1290.8,67.0 L1290.0,67.4 L1289.2,67.5 L1288.4,67.3 L1287.6,66.9 L1286.8,67.6 L1286.0,67.3 L1285.2,67.1 L1284.4,66.9 L1283.6,67.5 L1282.8,67.5 L1282.0,67.7 L1281.2,67.3 L1280.4,66.9 L1279.6,67.6 L1278.8,67.1 L1278.0,67.7 L1277.2,67.5 L1276.4,67.5 L1275.6,67.1 L1274.8,67.6 L1274.0,67.5 L1273.2,67.7 L1272.4,67.7 L1271.6,67.2 L1270.8,66.9 L1270.0,67.1 L1269.2,66.7 L1268.4,67.7 L1267.6,67.1 L1266.8,66.9 L1266.0,67.6 L1265.2,66.9 L1264.4,67.1 L1263.6,67.6 L1262.8,67.6 L1262.0,66.7 L1261.2,66.7 L1260.4,66.9 L1259.6,67.0 L1258.8,67.4 L1258.0,67.7 L1257.2,67.4 L1256.4,67.1 L1255.6,67.0 L1254.8,66.8 L1254.0,66.7 L1253.2,67.7 L1252.4,67.6 L1251.6,66.9 L1250.8,66.8 L1250.0,67.4 L1249.2,67.0 L1248.4,67.0 L1247.6,66.7 L1246.8,67.7 L1246.0,66.8 L1245.2,67.6 L1244.4,66.7 L1243.6,67.3 L1242.8,67.1 L1242.0,66.9 L1241.2,66.7 L1240.4,67.0 L1239.6,67.4 L1238.8,66.9 L1238.0,67.1 L1237.2,67.3 L1236.4,66.9 L1235.6,67.3 L1234.8,67.1 L1234.0,66.9 L1233.2,66.9 L1232.4,67.3 L1231.6,67.1 L1230.8,67.7 L1230.0,66.9 L1229.2,67.7 L1228.4,67.5 L1227.6,67.5 L1226.8,66.7 L1226.0,67.4 L1225.2,67.6 L1224.4,67.5 L1223.6,67.0 L1222.8,67.1 L1222.0,67.0 L1221.2,67.0 L1220.4,67.5 L1219.6,67.4 L1218.8,67.1 L1218.0,67.7 L1217.2,66.9 L1216.4,67.7 L1215.6,67.6 L1214.8,67.6 L1214.0,67.2 L1213.2,66.9 L1212.4,66.7 L1211.6,66.9 L1210.8,66.7 L1210.0,67.4 L1209.2,66.8 L1208.4,67.6 L1207.6,67.0 L1206.8,67.6 L1206.0,67.3 L1205.2,66.9 L1204.4,67.4 L1203.6,67.1 L1202.8,67.4 L1202.0,66.9 L1201.2,66.9 L1200.4,67.3 L1199.6,67.8 L1198.8,67.7 L1198.0,67.7 L1197.2,66.8 L1196.4,67.4 L1195.6,66.9 L1194.8,67.0 L1194.0,67.6 L1193.2,67.0 L1192.4,67.1 L1191.6,66.7 L1190.8,67.3 L1190.0,66.7 L1189.2,66.7 L1188.4,67.3 L1187.6,66.8 L1186.8,67.5 L1186.0,67.4 L1185.2,67.5 L1184.4,67.6 L1183.6,66.7 L1182.8,66.7 L1182.0,66.8 L1181.2,67.2 L1180.4,67.5 L1179.6,67.7 L1178.8,67.3 L1178.0,67.0 L1177.2,67.4 L1176.4,67.7 L1175.6,67.0 L1174.8,66.8 L1174.0,67.1 L1173.2,67.0 L1172.4,67.4 L1171.6,67.3 L1170.8,67.5 L1170.0,66.9 L1169.2,67.0 L1168.4,66.7 L1167.6,66.8 L1166.8,67.3 L1166.0,66.8 L1165.2,67.2 L1164.4,67.3 L1163.6,67.7 L1162.8,67.0 L1162.0,66.7 L1161.2,66.7 L1160.4,66.7 L1159.6,67.3 L1158.8,66.9 L1158.0,67.6 L1157.2,67.1 L1156.4,67.0 L1155.6,67.4 L1154.8,67.3 L1154.0,66.9 L1153.2,67.4 L1152.4,67.6 L1151.6,67.6 L1150.8,66.7 L1150.0,67.1 L1149.2,67.2 L1148.4,67.5 L1147.6,67.2 L1146.8,67.6 L1146.0,67.0 L1145.2,66.8 L1144.4,67.5 L1143.6,67.4 L1142.8,67.3 L1142.0,67.0 L1141.2,66.8 L1140.4,67.0 L1139.6,67.2 L1138.8,66.9 L1138.0,67.7 L1137.2,66.8 L1136.4,67.1 L1135.6,67.4 L1134.8,66.7 L1134.0,67.5 L1133.2,67.4 L1132.4,67.5 L1131.6,67.0 L1130.8,67.7 L1130.0,67.3 L1129.2,67.2 L1128.4,67.4 L1127.6,67.4 L1126.8,66.7 L1126.0,67.5 L1125.2,67.0 L1124.4,67.0 L1123.6,67.4 L1122.8,67.5 L1122.0,67.1 L1121.2,66.9 L1120.4,67.4 L1119.6,67.5 L1118.8,67.7 L1118.0,66.8 L1117.2,66.9 L1116.4,67.1 L1115.6,67.5 L1114.8,67.0 L1114.0,67.2 L1113.2,66.7 L1112.4,66.7 L1111.6,67.0 L1110.8,67.7 L1110.0,67.7 L1109.2,66.9 L1108.4,67.4 L1107.6,66.9 L1106.8,67.1 L1106.0,67.2 L1105.2,66.7 L1104.4,66.8 L1103.6,66.9 L1102.8,67.5 L1102.0,66.7 L1101.2,67.5 L1100.4,67.5 L1099.6,67.1 L1098.8,66.9 L1098.0,67.7 L1097.2,67.5 L1096.4,66.9 L1095.6,67.2 L1094.8,67.7 L1094.0,67.4 L1093.2,67.4 L1092.4,67.5 L1091.6,67.6 L1090.8,67.0 L1090.0,67.2 L1089.2,67.6 L1088.4,67.7 L1087.6,67.6 L1086.8,66.9 L1086.0,66.8 L1085.2,66.7 L1084.4,67.2 L1083.6,67.3 L1082.8,67.2 L1082.0,66.9 L1081.2,67.2 L1080.4,67.3 L1079.6,67.9 L1078.8,67.9 L1078.0,67.2 L1077.2,67.7 L1076.4,67.7 L1075.6,68.3 L1074.8,67.4 L1074.0,67.3 L1073.2,68.1 L1072.4,68.2 L1071.6,68.2 L1070.8,68.1 L1070.0,67.9 L1069.2,68.1 L1068.4,68.5 L1067.6,68.7 L1066.8,68.2 L1066.0,68.4 L1065.2,68.8 L1064.4,68.3 L1063.6,68.9 L1062.8,68.7 L1062.0,68.6 L1061.2,68.7 L1060.4,69.1 L1059.6,69.2 L1058.8,69.1 L1058.0,70.1 L1057.2,69.8 L1056.4,69.6 L1055.6,70.3 L1054.8,70.1 L1054.0,70.5 L1053.2,70.2 L1052.4,70.6 L1051.6,71.3 L1050.8,70.8 L1050.0,71.1 L1049.2,71.8 L1048.4,72.4 L1047.6,72.5 L1046.8,72.6 L1046.0,72.6 L1045.2,73.4 L1044.4,73.2 L1043.6,74.0 L1042.8,74.5 L1042.0,74.5 L1041.2,75.3 L1040.4,75.2 L1039.6,75.8 L1038.8,76.4 L1038.0,77.0 L1037.2,77.7 L1036.4,77.5 L1035.6,78.2 L1034.8,79.4 L1034.0,79.8 L1033.2,81.0 L1032.4,82.2 L1031.6,82.7 L1030.8,83.7 L1030.0,84.9 L1029.8,85.2 L1029.5,85.6 L1029.2,86.0 L1029.0,86.4 L1028.8,86.8 L1028.5,87.2 L1028.2,87.6 L1028.0,88.0 L1027.8,88.4 L1027.5,88.8 L1027.2,89.2 L1027.0,89.6 L1026.8,90.1 L1026.5,90.5 L1026.2,90.9 L1026.0,91.4 L1025.8,91.8 L1025.5,92.3 L1025.2,92.8 L1025.0,93.3 L1024.8,93.8 L1024.5,94.4 L1024.2,94.9 L1024.0,95.5 L1023.8,96.1 L1023.5,96.8 L1023.2,97.5 L1023.0,98.2 L1022.8,98.9 L1022.5,99.7 L1022.2,100.5 L1022.0,101.5 L1021.8,102.6 L1021.5,103.9 L1021.2,105.3 L1021.0,106.7 L1020.8,108.2 L1020.5,109.8 L1020.2,111.4 L1020.0,113.0 L1019.8,114.6 L1019.5,116.2 L1019.2,117.7 L1019.0,119.2 L1018.8,120.7 L1018.5,122.3 L1018.2,123.8 L1018.0,125.4 L1017.8,127.0 L1017.5,128.6 L1017.2,130.2 L1017.0,131.8 L1016.8,133.3 L1016.5,134.9 L1016.2,136.5 L1016.0,138.0 L1015.8,139.5 L1015.5,141.0 L1015.2,142.5 L1015.0,143.9 L1014.8,145.3 L1014.5,146.8 L1014.2,148.2 L1014.0,149.6 L1013.8,151.0 L1013.5,152.5 L1013.2,153.9 L1013.0,155.3 L1012.8,156.8 L1012.5,158.2 L1012.2,159.7 L1012.0,161.2 L1011.8,162.7 L1011.5,164.3 L1011.2,165.9 L1011.0,167.5 L1010.8,169.1 L1010.5,170.7 L1010.2,172.3 L1010.0,174.0 L1009.8,175.6 L1009.5,177.3 L1009.2,179.0 L1009.0,180.7 L1008.8,182.5 L1008.5,184.4 L1008.2,186.4 L1008.0,188.5 L1007.8,190.7 L1007.5,193.0 L1007.2,195.6 L1007.0,198.4 L1006.8,201.5 L1006.5,204.8 L1006.2,208.3 L1006.0,211.8 L1005.8,215.2 L1005.5,218.7 L1005.2,222.0 L1005.0,225.3 L1004.8,228.7 L1004.5,232.1 L1004.2,235.5 L1004.0,238.9 L1003.8,242.4 L1003.5,245.8 L1003.2,249.3 L1003.0,252.8 L1002.8,256.5 L1002.5,260.2 L1002.2,263.9 L1002.0,267.6 L1001.8,271.3 L1001.5,274.8 L1001.2,278.1 L1001.0,281.2 L1000.8,284.2 L1000.5,287.0 L1000.2,289.7 L1000.0,292.3 L999.8,294.9 L999.5,297.5 L999.2,300.0 L999.0,302.6 L998.8,305.3 L998.5,308.0 L998.2,310.8 L998.0,313.6 L997.8,316.4 L997.5,319.2 L997.2,322.1 L997.0,325.0 L996.8,327.9 L996.5,330.9 L996.2,333.9 L996.0,337.0 L995.8,340.2 L995.5,343.4 L995.2,346.7 L995.0,350.1 L994.8,353.5 L994.5,356.9 L994.2,360.3 L994.0,363.7 L993.8,367.0 L993.5,370.4 L993.2,373.8 L993.0,377.2 L992.8,380.5 L992.5,383.8 L992.2,387.1 L992.0,390.2 L991.8,393.2 L991.5,396.0 L991.2,398.7 L991.0,401.4 L990.8,403.9 L990.5,406.4 L990.2,408.9 L990.0,411.3 L989.8,413.7 L989.5,416.1 L989.2,418.5 L989.0,421.0 L988.8,423.5 L988.5,426.0 L988.2,428.5 L988.0,431.0 L987.8,433.5 L987.5,436.0 L987.2,438.5 L987.0,441.0 L986.8,443.5 L986.5,446.0 L986.2,448.5 L986.0,451.0Z" fill="#000000" stroke="#000000" stroke-width="0.4" stroke-linejoin="round"/>
<path d="M984.0,451.0 L984.2,448.5 L984.5,446.0 L984.8,443.5 L985.0,441.0 L985.2,438.5 L985.5,436.0 L985.8,433.5 L986.0,431.0 L986.2,428.5 L986.5,426.0 L986.8,423.5 L987.0,421.0 L987.2,418.5 L987.5,416.1 L987.8,413.7 L988.0,411.3 L988.2,408.9 L988.5,406.4 L988.8,403.9 L989.0,401.4 L989.2,398.7 L989.5,396.0 L989.8,393.2 L990.0,390.2 L990.2,387.1 L990.5,383.8 L990.8,380.5 L991.0,377.2 L991.2,373.8 L991.5,370.4 L991.8,367.0 L992.0,363.7 L992.2,360.3 L992.5,356.9 L992.8,353.5 L993.0,350.1 L993.2,346.7 L993.5,343.4 L993.8,340.2 L994.0,337.0 L994.2,333.9 L994.5,330.9 L994.8,327.9 L995.0,325.0 L995.2,322.1 L995.5,319.2 L995.8,316.4 L996.0,313.6 L996.2,310.8 L996.5,308.0 L996.8,305.3 L997.0,302.6 L997.2,300.0 L997.5,297.5 L997.8,294.9 L998.0,292.3 L998.2,289.7 L998.5,287.0 L998.8,284.2 L999.0,281.2 L999.2,278.1 L999.5,274.8 L999.8,271.3 L1000.0,267.6 L1000.2,263.9 L1000.5,260.2 L1000.8,256.5 L1001.0,252.8 L1001.2,249.3 L1001.5,245.8 L1001.8,242.4 L1002.0,238.9 L1002.2,235.5 L1002.5,232.1 L1002.8,228.7 L1003.0,225.3 L1003.2,222.0 L1003.5,218.7 L1003.8,215.3 L1004.0,212.0 L1004.2,208.7 L1004.5,205.4 L1004.8,202.1 L1005.0,199.0 L1005.2,195.9 L1005.5,193.0 L1005.8,190.2 L1006.0,187.4 L1006.2,184.7 L1006.5,182.1 L1006.8,179.5 L1007.0,177.0 L1007.2,174.5 L1007.5,172.1 L1007.8,169.8 L1008.0,167.5 L1008.2,165.3 L1008.5,163.2 L1008.8,161.1 L1009.0,159.1 L1009.2,157.2 L1009.5,155.3 L1009.8,153.4 L1010.0,151.5 L1010.2,149.6 L1010.5,147.8 L1010.8,145.9 L1011.0,144.0 L1011.2,142.0 L1011.5,140.0 L1011.8,137.9 L1012.0,135.8 L1012.2,133.6 L1012.5,131.3 L1012.8,129.1 L1013.0,126.8 L1013.2,124.6 L1013.5,122.3 L1013.8,120.2 L1014.0,118.1 L1014.2,116.1 L1014.5,114.1 L1014.8,112.4 L1015.0,110.7 L1015.2,109.1 L1015.5,107.7 L1015.8,106.2 L1016.0,104.8 L1016.2,103.5 L1016.5,102.1 L1016.8,100.9 L1017.0,99.6 L1017.2,98.4 L1017.5,97.3 L1017.8,96.1 L1018.0,95.0 L1018.2,93.9 L1018.5,92.8 L1018.8,91.8 L1019.0,90.8 L1019.2,89.8 L1019.5,88.8 L1019.8,87.8 L1020.0,86.9 L1020.2,86.0 L1020.5,85.1 L1020.8,84.3 L1021.0,83.4 L1021.2,82.5 L1021.5,81.7 L1021.8,80.9 L1022.0,80.0 L1022.2,79.1 L1022.5,78.3 L1022.8,77.4 L1023.0,76.5 L1023.2,75.5 L1023.5,74.6 L1023.8,73.7 L1024.0,72.8 L1024.2,72.0 L1024.5,71.1 L1024.8,70.2 L1025.0,69.4 L1025.2,68.6 L1025.5,67.9 L1025.8,67.2 L1026.0,66.5 L1026.2,65.9 L1026.5,65.3 L1026.8,64.8 L1027.0,64.3 L1027.2,63.9 L1027.5,63.4 L1027.8,63.0 L1028.0,62.6 L1028.2,62.2 L1028.5,61.8 L1028.8,61.4 L1029.0,61.0 L1029.2,60.7 L1029.5,60.3 L1029.8,59.9 L1030.0,59.6 L1030.8,58.6 L1031.6,58.1 L1032.4,56.3 L1033.2,55.5 L1034.0,55.2 L1034.8,54.8 L1035.6,53.8 L1036.4,52.8 L1037.2,52.9 L1038.0,51.5 L1038.8,50.6 L1039.6,50.0 L1040.4,49.4 L1041.2,49.6 L1042.0,48.4 L1042.8,48.7 L1043.6,48.4 L1044.4,48.3 L1045.2,47.8 L1046.0,47.1 L1046.8,47.1 L1047.6,47.1 L1048.4,46.8 L1049.2,46.1 L1050.0,46.5 L1050.8,45.6 L1051.6,45.6 L1052.4,46.2 L1053.2,45.5 L1054.0,45.1 L1054.8,45.6 L1055.6,45.1 L1056.4,44.5 L1057.2,44.5 L1058.0,44.6 L1058.8,44.6 L1059.6,45.2 L1060.4,44.4 L1061.2,45.0 L1062.0,45.0 L1062.8,44.4 L1063.6,45.0 L1064.4,44.7 L1065.2,44.3 L1066.0,44.1 L1066.8,44.2 L1067.6,44.7 L1068.4,44.2 L1069.2,43.8 L1070.0,44.0 L1070.8,44.0 L1071.6,43.7 L1072.4,44.1 L1073.2,43.5 L1074.0,44.3 L1074.8,43.6 L1075.6,43.5 L1076.4,44.0 L1077.2,43.6 L1078.0,44.3 L1078.8,43.8 L1079.6,43.8 L1080.4,44.2 L1081.2,43.5 L1082.0,44.0 L1082.8,43.9 L1083.6,43.7 L1084.4,44.2 L1085.2,43.2 L1086.0,44.1 L1086.8,43.3 L1087.6,44.1 L1088.4,43.3 L1089.2,43.2 L1090.0,43.7 L1090.8,44.1 L1091.6,43.4 L1092.4,43.6 L1093.2,43.7 L1094.0,43.3 L1094.8,43.7 L1095.6,43.1 L1096.4,43.6 L1097.2,43.9 L1098.0,43.4 L1098.8,43.3 L1099.6,43.1 L1100.4,43.8 L1101.2,43.5 L1102.0,44.1 L1102.8,43.9 L1103.6,43.2 L1104.4,44.1 L1105.2,44.1 L1106.0,44.0 L1106.8,44.0 L1107.6,43.8 L1108.4,43.8 L1109.2,43.8 L1110.0,43.7 L1110.8,43.3 L1111.6,43.2 L1112.4,43.9 L1113.2,43.7 L1114.0,43.1 L1114.8,43.8 L1115.6,43.7 L1116.4,43.6 L1117.2,43.9 L1118.0,44.0 L1118.8,43.5 L1119.6,44.0 L1120.4,43.6 L1121.2,43.7 L1122.0,43.5 L1122.8,44.1 L1123.6,43.6 L1124.4,44.1 L1125.2,43.5 L1126.0,43.8 L1126.8,44.1 L1127.6,43.8 L1128.4,43.5 L1129.2,43.2 L1130.0,43.6 L1130.8,43.5 L1131.6,44.0 L1132.4,44.0 L1133.2,44.2 L1134.0,43.6 L1134.8,43.6 L1135.6,43.7 L1136.4,43.9 L1137.2,43.2 L1138.0,43.4 L1138.8,43.3 L1139.6,43.5 L1140.4,43.5 L1141.2,44.2 L1142.0,43.4 L1142.8,44.2 L1143.6,43.5 L1144.4,43.4 L1145.2,44.2 L1146.0,43.2 L1146.8,43.3 L1147.6,43.3 L1148.4,43.2 L1149.2,43.6 L1150.0,43.4 L1150.8,43.3 L1151.6,43.2 L1152.4,43.9 L1153.2,43.2 L1154.0,43.4 L1154.8,43.8 L1155.6,44.1 L1156.4,43.9 L1157.2,44.0 L1158.0,44.0 L1158.8,44.1 L1159.6,44.1 L1160.4,43.4 L1161.2,43.3 L1162.0,43.9 L1162.8,43.8 L1163.6,43.8 L1164.4,44.1 L1165.2,43.4 L1166.0,44.0 L1166.8,43.7 L1167.6,43.7 L1168.4,43.5 L1169.2,43.5 L1170.0,43.9 L1170.8,43.9 L1171.6,44.2 L1172.4,43.6 L1173.2,44.0 L1174.0,43.4 L1174.8,44.0 L1175.6,43.4 L1176.4,44.2 L1177.2,44.3 L1178.0,43.6 L1178.8,44.2 L1179.6,43.5 L1180.4,43.6 L1181.2,43.4 L1182.0,43.8 L1182.8,43.4 L1183.6,44.1 L1184.4,43.9 L1185.2,43.8 L1186.0,44.1 L1186.8,43.6 L1187.6,43.7 L1188.4,43.7 L1189.2,43.3 L1190.0,44.3 L1190.8,43.4 L1191.6,43.5 L1192.4,44.2 L1193.2,44.3 L1194.0,43.8 L1194.8,43.8 L1195.6,43.5 L1196.4,43.4 L1197.2,43.9 L1198.0,43.6 L1198.8,43.5 L1199.6,44.4 L1200.4,43.4 L1201.2,43.8 L1202.0,44.2 L1202.8,44.2 L1203.6,43.5 L1204.4,44.2 L1205.2,44.0 L1206.0,44.1 L1206.8,44.5 L1207.6,44.3 L1208.4,44.1 L1209.2,44.3 L1210.0,44.0 L1210.8,44.1 L1211.6,44.3 L1212.4,44.1 L1213.2,43.9 L1214.0,43.5 L1214.8,44.3 L1215.6,43.8 L1216.4,43.9 L1217.2,43.8 L1218.0,44.1 L1218.8,43.9 L1219.6,44.4 L1220.4,44.1 L1221.2,44.1 L1222.0,44.4 L1222.8,44.0 L1223.6,44.1 L1224.4,44.3 L1225.2,44.3 L1226.0,44.3 L1226.8,44.5 L1227.6,44.1 L1228.4,44.1 L1229.2,43.7 L1230.0,43.8 L1230.8,44.0 L1231.6,44.1 L1232.4,44.5 L1233.2,43.6 L1234.0,43.9 L1234.8,44.4 L1235.6,44.1 L1236.4,44.5 L1237.2,43.7 L1238.0,44.4 L1238.8,44.1 L1239.6,44.2 L1240.4,43.6 L1241.2,44.0 L1242.0,44.5 L1242.8,44.4 L1243.6,44.2 L1244.4,44.1 L1245.2,43.7 L1246.0,44.4 L1246.8,44.1 L1247.6,44.4 L1248.4,44.3 L1249.2,44.1 L1250.0,44.6 L1250.8,43.8 L1251.6,44.7 L1252.4,43.7 L1253.2,44.7 L1254.0,44.3 L1254.8,44.1 L1255.6,44.7 L1256.4,44.2 L1257.2,44.2 L1258.0,43.7 L1258.8,44.5 L1259.6,44.4 L1260.4,43.9 L1261.2,43.8 L1262.0,44.1 L1262.8,44.7 L1263.6,44.6 L1264.4,44.2 L1265.2,43.7 L1266.0,44.6 L1266.8,43.9 L1267.6,44.5 L1268.4,44.2 L1269.2,44.8 L1270.0,43.9 L1270.8,44.6 L1271.6,44.5 L1272.4,43.7 L1273.2,44.3 L1274.0,44.0 L1274.8,44.5 L1275.6,44.8 L1276.4,44.4 L1277.2,44.3 L1278.0,44.4 L1278.8,44.0 L1279.6,44.2 L1280.4,43.9 L1281.2,44.5 L1282.0,43.8 L1282.8,44.3 L1283.6,43.9 L1284.4,44.4 L1285.2,43.8 L1286.0,43.8 L1286.8,44.4 L1287.6,44.5 L1288.4,44.7 L1289.2,44.5 L1290.0,44.8 L1290.8,43.9 L1291.6,44.4 L1292.4,44.4 L1293.2,43.9 L1294.0,43.9 L1294.8,44.0 L1295.6,44.3 L1296.4,44.6 L1297.2,44.5 L1298.0,44.4 L1298.8,43.8 L1299.6,44.5 L1300.4,44.3 L1301.2,43.9 L1302.0,44.4 L1302.8,44.0 L1303.6,44.1 L1304.4,44.2 L1305.2,44.6 L1306.0,43.9 L1306.8,44.2 L1307.6,44.0 L1308.4,44.5 L1309.2,44.7 L1310.0,44.0 L1310.8,44.5 L1311.6,44.3 L1312.4,44.0 L1313.2,44.1 L1314.0,44.3 L1314.8,44.6 L1315.6,44.4 L1316.4,43.8 L1317.2,44.6 L1318.0,44.4 L1318.8,44.2 L1319.6,44.0 L1320.4,44.2 L1321.2,44.5 L1322.0,44.1 L1322.8,43.9 L1323.6,44.7 L1324.4,44.2 L1325.2,43.8 L1326.0,44.7 L1326.8,43.9 L1327.6,44.2 L1328.4,44.4 L1329.2,44.5 L1330.0,44.8 L1330.8,44.0 L1331.6,44.4 L1332.4,44.7 L1333.2,44.3 L1334.0,44.6 L1334.8,44.3 L1335.6,44.6 L1336.4,44.8 L1337.2,44.1 L1338.0,44.6 L1338.8,44.1 L1339.6,44.7 L1340.4,44.6 L1341.2,44.7 L1342.0,44.7 L1342.8,44.4 L1343.6,44.8 L1344.4,43.9 L1345.2,44.4 L1346.0,43.9 L1346.8,44.4 L1347.6,44.5 L1348.4,44.1 L1349.2,44.7 L1350.0,44.2 L1350.8,44.0 L1351.6,44.0 L1352.4,44.4 L1353.2,44.2 L1354.0,43.8 L1354.8,44.1 L1355.6,44.8 L1356.4,44.3 L1357.2,44.5 L1358.0,44.2 L1358.8,43.9 L1359.6,44.4 L1360.4,44.0 L1361.2,43.9 L1362.0,44.5 L1362.8,44.5 L1363.6,43.8 L1364.4,44.8 L1365.2,43.8 L1366.0,44.0 L1366.8,44.1 L1367.6,44.7 L1368.4,44.6 L1369.2,44.6 L1370.0,44.3 L1370.8,44.8 L1371.6,43.9 L1372.4,44.8 L1373.2,43.8 L1374.0,43.9 L1374.8,44.6 L1375.6,44.6 L1376.4,44.5 L1377.2,44.1 L1378.0,44.7 L1378.8,44.3 L1379.6,44.0 L1380.4,43.9 L1381.2,44.9 L1382.0,43.8 L1382.8,44.0 L1383.6,44.2 L1384.4,44.8 L1385.2,44.7 L1386.0,44.7 L1386.8,44.5 L1387.6,43.8 L1388.4,44.6 L1389.2,44.0 L1390.0,44.8 L1390.8,44.9 L1391.6,43.9 L1392.4,44.6 L1393.2,44.1 L1394.0,43.9 L1394.8,44.7 L1395.6,44.3 L1396.4,44.1 L1397.2,44.4 L1398.0,43.9 L1398.8,44.3 L1399.6,44.5 L1400.4,44.7 L1401.2,43.9 L1402.0,44.8 L1402.8,43.9 L1403.6,44.0 L1404.4,44.2 L1405.2,44.0 L1406.0,43.9 L1406.8,44.5 L1407.6,44.2 L1408.4,44.0 L1409.2,44.4 L1410.0,43.9 L1410.8,44.5 L1411.6,44.9 L1412.4,44.3 L1413.2,44.3 L1414.0,44.2 L1414.8,44.2 L1415.6,44.2 L1416.4,44.0 L1417.2,44.1 L1418.0,44.6 L1418.8,44.3 L1419.6,43.9 L1420.4,44.0 L1421.2,44.7 L1422.0,44.2 L1422.8,44.7 L1423.6,44.5 L1424.4,44.5 L1425.2,44.2 L1426.0,44.4 L1426.8,44.3 L1427.6,44.4 L1428.4,44.8 L1429.2,43.9 L1430.0,44.0 L1430.8,44.8 L1431.6,44.8 L1432.4,44.7 L1433.2,44.7 L1434.0,43.9 L1434.8,44.6 L1435.6,43.9 L1436.4,44.7 L1437.2,44.2 L1438.0,44.3 L1438.8,44.4 L1439.6,44.0 L1440.4,44.4 L1441.2,44.7 L1442.0,44.3 L1442.8,44.3 L1443.6,44.2 L1444.4,44.0 L1445.2,44.1 L1446.0,44.7 L1446.8,44.9 L1447.6,44.2 L1448.4,44.1 L1449.2,44.2 L1450.0,44.8 L1450.8,44.1 L1451.6,44.0 L1452.4,44.1 L1453.2,43.9 L1454.0,44.0 L1454.8,44.1 L1455.6,44.5 L1456.4,44.8 L1457.2,44.1 L1458.0,44.1 L1458.8,44.4 L1459.6,43.8 L1460.4,43.9 L1461.2,44.4 L1462.0,44.3 L1462.8,44.2 L1463.6,44.3 L1464.4,43.8 L1465.2,44.1 L1466.0,44.0 L1466.8,44.1 L1467.6,43.9 L1468.4,44.7 L1469.2,43.8 L1470.0,44.3 L1470.8,44.0 L1471.6,44.0 L1472.4,44.6 L1473.2,44.9 L1474.0,44.9 L1474.8,44.2 L1475.6,44.4 L1476.4,44.3 L1477.2,43.9 L1478.0,44.3 L1478.8,44.5 L1479.6,44.2 L1480.4,44.7 L1481.2,44.3 L1482.0,44.1 L1482.8,44.8 L1483.6,44.4 L1484.4,44.1 L1485.2,44.8 L1486.0,44.3 L1486.8,44.5 L1487.6,44.3 L1488.4,44.8 L1489.2,44.6 L1490.0,44.3 L1490.8,44.2 L1491.6,44.7 L1492.4,44.7 L1493.2,44.5 L1494.0,44.8 L1494.8,44.4 L1495.6,44.3 L1496.4,44.2 L1497.2,44.1 L1498.0,44.0 L1498.8,44.8 L1499.6,44.4 L1500.4,43.9 L1501.2,44.0 L1502.0,44.3 L1502.8,44.7 L1503.6,44.8 L1504.4,44.6 L1505.2,44.1 L1506.0,44.3 L1506.8,44.9 L1507.6,44.2 L1508.4,44.5 L1509.2,43.9 L1510.0,44.3 L1510.8,44.4 L1511.6,44.8 L1512.4,44.9 L1513.2,44.6 L1514.0,44.2 L1514.8,44.8 L1515.6,44.8 L1516.4,43.9 L1517.2,44.3 L1518.0,44.4 L1518.8,44.1 L1519.6,44.1 L1520.4,44.7 L1521.2,44.0 L1522.0,44.4 L1522.8,43.8 L1523.6,44.3 L1524.4,44.9 L1525.2,43.8 L1526.0,43.9 L1526.8,44.8 L1527.6,44.8 L1528.4,44.4 L1529.2,44.1 L1530.0,44.1 L1530.8,44.6 L1531.6,44.5 L1532.4,44.3 L1533.2,44.6 L1534.0,43.9 L1534.8,44.2 L1535.6,44.8 L1536.4,44.8 L1537.2,44.4 L1538.0,44.7 L1538.8,44.8 L1539.6,44.4 L1540.4,44.0 L1541.2,43.9 L1542.0,44.6 L1542.8,44.2 L1543.6,44.4 L1544.4,43.9 L1545.2,44.9 L1546.0,44.1 L1546.8,44.5 L1547.6,44.5 L1548.4,44.2 L1549.2,44.0 L1550.0,44.4 L1550.8,44.2 L1551.6,43.9 L1552.4,44.0 L1553.2,43.9 L1554.0,44.8 L1554.8,44.0 L1555.6,44.8 L1556.4,44.5 L1557.2,44.9 L1558.0,44.3 L1558.8,44.1 L1559.6,43.9 L1560.4,44.5 L1561.2,44.6 L1562.0,44.6 L1562.8,44.8 L1563.6,43.9 L1564.4,44.5 L1565.2,44.6 L1566.0,44.9 L1566.8,44.1 L1567.6,44.8 L1568.4,43.8 L1569.2,44.5 L1570.0,44.2 L1570.8,44.4 L1571.6,44.0 L1572.4,44.2 L1573.2,44.2 L1574.0,44.3 L1574.8,44.3 L1575.6,44.1 L1576.4,44.0 L1577.2,44.3 L1578.0,44.9 L1578.8,44.8 L1579.6,44.0 L1580.4,44.5 L1581.2,44.0 L1582.0,44.2 L1582.8,44.9 L1583.6,44.2 L1584.4,43.9 L1585.2,44.4 L1586.0,44.5 L1586.8,44.4 L1587.6,44.9 L1588.4,44.4 L1589.2,44.2 L1590.0,44.1 L1590.8,44.5 L1591.6,44.6 L1592.4,44.4 L1593.2,44.3 L1594.0,44.1 L1594.8,44.8 L1595.6,44.9 L1596.4,44.5 L1597.2,44.6 L1598.0,44.2 L1598.8,44.0 L1599.6,43.9 L1600.4,44.5 L1601.2,44.8 L1602.0,44.6 L1602.8,44.6 L1603.6,44.8 L1604.4,44.3 L1605.2,44.3 L1606.0,44.1 L1606.8,44.7 L1607.6,44.6 L1608.4,44.4 L1609.2,44.7 L1610.0,44.8 L1610.8,43.9 L1611.6,44.1 L1612.4,44.3 L1613.2,44.6 L1614.0,44.1 L1614.8,44.3 L1615.6,44.6 L1616.4,44.2 L1617.2,44.6 L1618.0,43.9 L1618.8,44.3 L1619.6,44.5 L1620.4,44.8 L1621.2,44.4 L1622.0,44.6 L1622.8,44.6 L1623.6,44.5 L1624.4,44.3 L1625.2,44.2 L1626.0,44.0 L1626.8,44.8 L1627.6,44.7 L1628.4,44.5 L1629.2,44.7 L1630.0,44.2 L1630.8,44.0 L1631.6,44.4 L1632.4,44.3 L1633.2,44.5 L1634.0,44.8 L1634.8,44.3 L1635.6,44.2 L1636.4,44.6 L1637.2,44.8 L1638.0,44.5 L1638.8,44.5 L1639.6,44.8 L1640.4,44.8 L1641.2,43.9 L1642.0,44.9 L1642.8,43.9 L1643.6,44.4 L1644.4,44.4 L1645.2,44.9 L1646.0,44.1 L1646.8,43.9 L1647.6,44.9 L1648.4,44.3 L1649.2,44.3 L1650.0,44.3 L1650.8,44.1 L1651.6,43.9 L1652.4,44.4 L1653.2,44.1 L1654.0,44.4 L1654.8,44.9 L1655.6,44.9 L1656.4,44.2 L1657.2,44.2 L1658.0,44.0 L1658.8,44.5 L1659.6,44.0 L1660.4,44.0 L1661.2,44.8 L1662.0,44.4 L1662.8,44.8 L1663.6,44.1 L1664.4,44.0 L1665.2,44.5 L1666.0,44.6 L1666.8,44.0 L1667.6,44.4 L1668.4,44.5 L1669.2,44.4 L1670.0,44.2 L1670.8,44.3 L1671.6,44.0 L1672.4,43.9 L1673.2,43.9 L1674.0,44.8 L1674.8,44.1 L1675.6,44.6 L1676.4,44.0 L1677.2,44.8 L1678.0,43.9 L1678.8,44.7 L1679.6,44.4 L1680.4,44.8 L1681.2,44.8 L1682.0,43.9 L1682.8,43.9 L1683.6,44.1 L1684.4,43.9 L1685.2,44.8 L1686.0,44.0 L1686.8,44.6 L1687.6,44.9 L1688.4,44.6 L1689.2,44.9 L1690.0,44.6 L1690.8,44.3 L1691.6,44.9 L1692.4,44.1 L1693.2,44.4 L1694.0,44.3 L1694.8,44.4 L1695.6,44.2 L1696.4,44.9 L1697.2,44.9 L1698.0,44.6 L1698.8,44.4 L1699.6,44.9 L1700.4,44.9 L1701.2,43.9 L1702.0,44.8 L1702.8,44.0 L1703.6,43.9 L1704.4,44.1 L1705.2,44.2 L1706.0,44.4 L1706.8,44.9 L1707.6,44.0 L1708.4,44.6 L1709.2,44.4 L1710.0,44.0 L1710.8,44.9 L1711.6,44.8 L1712.4,44.2 L1713.2,44.8 L1714.0,44.3 L1714.8,44.6 L1715.6,44.9 L1716.4,44.5 L1717.2,44.2 L1718.0,43.9 L1718.8,44.4 L1719.6,44.5 L1720.4,44.1 L1721.2,44.5 L1722.0,43.9 L1722.8,44.1 L1723.6,44.4 L1724.4,44.4 L1725.2,44.6 L1726.0,44.1 L1726.8,44.2 L1727.6,44.7 L1728.4,44.2 L1729.2,44.0 L1730.0,44.5 L1730.8,44.2 L1731.6,44.5 L1732.4,44.9 L1733.2,44.9 L1734.0,44.7 L1734.8,44.9 L1735.6,44.7 L1736.4,44.2 L1737.2,44.9 L1738.0,44.0 L1738.8,44.1 L1739.6,44.4 L1740.4,44.0 L1741.2,44.5 L1742.0,44.4 L1742.8,44.1 L1743.6,44.7 L1744.4,43.9 L1745.2,44.4 L1746.0,44.2 L1746.8,44.9 L1747.6,44.0 L1747.7,54.7 L1746.9,54.1 L1746.1,54.5 L1745.3,54.5 L1744.5,54.6 L1743.7,54.5 L1742.9,54.7 L1742.1,54.1 L1741.3,54.1 L1740.5,54.2 L1739.7,54.8 L1738.9,54.3 L1738.1,54.5 L1737.3,54.4 L1736.5,54.6 L1735.7,54.4 L1734.9,53.9 L1734.1,54.4 L1733.3,53.8 L1732.5,54.8 L1731.7,53.9 L1730.9,53.9 L1730.1,54.2 L1729.3,54.1 L1728.5,54.6 L1727.7,54.0 L1726.9,54.1 L1726.1,54.2 L1725.3,53.9 L1724.5,54.2 L1723.7,54.1 L1722.9,54.3 L1722.1,53.9 L1721.3,54.4 L1720.5,54.7 L1719.7,54.3 L1718.9,54.8 L1718.1,54.1 L1717.3,54.3 L1716.5,54.5 L1715.7,54.8 L1714.9,54.8 L1714.1,53.9 L1713.3,54.8 L1712.5,54.3 L1711.7,54.4 L1710.9,54.1 L1710.1,54.2 L1709.3,53.7 L1708.5,54.0 L1707.7,54.5 L1706.9,54.1 L1706.1,54.0 L1705.3,54.1 L1704.5,54.7 L1703.7,54.6 L1702.9,54.7 L1702.1,53.8 L1701.3,54.2 L1700.5,54.3 L1699.7,54.7 L1698.9,54.7 L1698.1,54.5 L1697.3,54.4 L1696.5,53.8 L1695.7,54.7 L1694.9,54.8 L1694.1,54.7 L1693.3,54.3 L1692.5,54.0 L1691.7,54.6 L1690.9,54.4 L1690.1,54.3 L1689.3,54.6 L1688.5,54.3 L1687.7,53.8 L1686.9,54.4 L1686.1,54.6 L1685.3,54.7 L1684.5,54.7 L1683.7,54.3 L1682.9,54.2 L1682.1,54.8 L1681.3,54.4 L1680.5,54.7 L1679.7,54.8 L1678.9,54.5 L1678.1,54.3 L1677.3,54.2 L1676.5,54.5 L1675.7,54.7 L1674.9,54.7 L1674.1,54.1 L1673.3,53.8 L1672.5,54.7 L1671.7,54.0 L1670.9,54.0 L1670.1,54.2 L1669.3,53.9 L1668.5,54.7 L1667.7,54.3 L1666.9,54.2 L1666.1,54.2 L1665.3,54.7 L1664.5,53.9 L1663.7,53.9 L1662.9,53.8 L1662.1,54.0 L1661.3,54.8 L1660.5,54.5 L1659.7,54.4 L1658.9,54.0 L1658.1,53.9 L1657.3,53.9 L1656.5,54.7 L1655.7,53.9 L1654.9,54.4 L1654.1,54.5 L1653.3,53.8 L1652.5,53.8 L1651.7,54.5 L1650.9,54.8 L1650.1,54.2 L1649.3,54.5 L1648.5,54.6 L1647.7,54.0 L1646.9,54.5 L1646.1,54.5 L1645.3,53.9 L1644.5,54.0 L1643.7,54.6 L1642.9,53.9 L1642.1,54.1 L1641.3,54.2 L1640.5,54.7 L1639.7,54.0 L1638.9,53.8 L1638.1,53.9 L1637.3,54.7 L1636.5,54.2 L1635.7,54.3 L1634.9,54.7 L1634.1,54.6 L1633.3,54.7 L1632.5,54.4 L1631.7,54.5 L1630.9,53.9 L1630.1,53.7 L1629.3,54.5 L1628.5,53.9 L1627.7,54.2 L1626.9,53.8 L1626.1,54.4 L1625.3,54.7 L1624.5,54.7 L1623.7,54.5 L1622.9,53.9 L1622.1,54.7 L1621.3,53.8 L1620.5,54.5 L1619.7,54.0 L1618.9,54.1 L1618.1,54.6 L1617.3,54.1 L1616.5,54.4 L1615.7,53.9 L1614.9,53.7 L1614.1,54.7 L1613.3,54.4 L1612.5,53.8 L1611.7,53.7 L1610.9,54.6 L1610.1,53.9 L1609.3,53.9 L1608.5,54.6 L1607.7,53.8 L1606.9,54.4 L1606.1,54.0 L1605.3,54.4 L1604.5,54.0 L1603.7,54.0 L1602.9,53.8 L1602.1,54.3 L1601.3,54.8 L1600.5,54.4 L1599.7,54.3 L1598.9,54.5 L1598.1,54.7 L1597.3,53.8 L1596.5,53.8 L1595.7,53.8 L1594.9,54.6 L1594.1,54.7 L1593.3,54.0 L1592.5,54.5 L1591.7,54.7 L1590.9,54.0 L1590.1,54.1 L1589.3,54.3 L1588.5,53.7 L1587.7,54.1 L1586.9,54.1 L1586.1,54.2 L1585.3,54.0 L1584.5,54.1 L1583.7,54.2 L1582.9,54.0 L1582.1,54.6 L1581.3,54.4 L1580.5,54.7 L1579.7,54.3 L1578.9,54.1 L1578.1,54.5 L1577.3,53.7 L1576.5,54.4 L1575.7,53.7 L1574.9,53.8 L1574.1,54.6 L1573.3,53.8 L1572.5,54.5 L1571.7,54.3 L1570.9,54.3 L1570.1,54.3 L1569.3,54.3 L1568.5,54.2 L1567.7,54.0 L1566.9,53.7 L1566.1,54.5 L1565.3,54.2 L1564.5,54.7 L1563.7,54.6 L1562.9,54.6 L1562.1,53.9 L1561.3,54.2 L1560.5,53.9 L1559.7,54.8 L1558.9,54.7 L1558.1,54.4 L1557.3,54.1 L1556.5,54.7 L1555.7,54.6 L1554.9,54.2 L1554.1,54.0 L1553.3,54.3 L1552.5,54.6 L1551.7,54.7 L1550.9,54.1 L1550.1,54.7 L1549.3,54.4 L1548.5,54.5 L1547.7,54.6 L1546.9,54.1 L1546.1,54.1 L1545.3,54.4 L1544.5,53.8 L1543.7,53.9 L1542.9,54.6 L1542.1,54.1 L1541.3,54.7 L1540.5,54.7 L1539.7,53.8 L1538.9,54.3 L1538.1,54.1 L1537.3,53.9 L1536.5,54.7 L1535.7,54.3 L1534.9,54.0 L1534.1,54.1 L1533.3,54.7 L1532.5,54.7 L1531.7,54.4 L1530.9,54.6 L1530.1,54.2 L1529.3,54.1 L1528.5,54.2 L1527.7,54.2 L1526.9,54.2 L1526.1,54.4 L1525.3,54.4 L1524.5,54.1 L1523.7,54.8 L1522.9,54.5 L1522.1,54.5 L1521.3,54.5 L1520.5,53.9 L1519.7,54.1 L1518.9,54.5 L1518.1,54.3 L1517.3,54.0 L1516.5,54.2 L1515.7,54.0 L1514.9,54.2 L1514.1,53.9 L1513.3,53.9 L1512.5,53.8 L1511.7,54.7 L1510.9,53.8 L1510.1,54.7 L1509.3,54.4 L1508.5,53.8 L1507.7,54.0 L1506.9,54.3 L1506.1,53.9 L1505.3,53.9 L1504.5,54.2 L1503.7,54.7 L1502.9,54.7 L1502.1,53.9 L1501.3,54.0 L1500.5,54.5 L1499.7,54.6 L1498.9,54.0 L1498.1,54.7 L1497.3,54.2 L1496.5,54.2 L1495.7,54.6 L1494.9,54.3 L1494.1,54.8 L1493.3,54.3 L1492.5,54.2 L1491.7,54.3 L1490.9,54.0 L1490.1,54.3 L1489.3,54.4 L1488.5,54.5 L1487.7,54.5 L1486.9,54.1 L1486.1,54.3 L1485.3,54.2 L1484.5,54.6 L1483.7,53.8 L1482.9,54.5 L1482.1,53.7 L1481.3,53.8 L1480.5,53.8 L1479.7,54.1 L1478.9,54.6 L1478.1,54.1 L1477.3,54.0 L1476.5,54.5 L1475.7,54.2 L1474.9,54.5 L1474.1,54.7 L1473.3,54.8 L1472.5,54.4 L1471.7,54.2 L1470.9,54.0 L1470.1,54.2 L1469.3,54.4 L1468.5,54.0 L1467.7,54.5 L1466.9,54.3 L1466.1,54.5 L1465.3,53.8 L1464.5,54.7 L1463.7,54.0 L1462.9,54.7 L1462.1,54.2 L1461.3,54.8 L1460.5,54.7 L1459.7,54.2 L1458.9,54.3 L1458.1,54.3 L1457.3,54.1 L1456.5,54.1 L1455.7,53.8 L1454.9,54.6 L1454.1,54.5 L1453.3,53.9 L1452.5,54.6 L1451.7,54.6 L1450.9,54.2 L1450.1,54.8 L1449.3,53.9 L1448.5,53.8 L1447.7,54.1 L1446.9,54.0 L1446.1,54.0 L1445.3,54.5 L1444.5,54.7 L1443.7,53.8 L1442.9,54.8 L1442.1,53.8 L1441.3,53.8 L1440.5,54.4 L1439.7,54.5 L1438.9,54.1 L1438.1,53.8 L1437.3,54.4 L1436.5,54.3 L1435.7,54.0 L1434.9,54.4 L1434.1,54.7 L1433.3,54.3 L1432.5,54.7 L1431.7,54.8 L1430.9,53.9 L1430.1,53.9 L1429.3,54.6 L1428.5,53.8 L1427.7,54.6 L1426.9,54.6 L1426.1,54.1 L1425.3,54.4 L1424.5,53.9 L1423.7,54.2 L1422.9,54.5 L1422.1,54.2 L1421.3,53.8 L1420.5,54.7 L1419.7,53.9 L1418.9,54.7 L1418.1,54.7 L1417.3,54.5 L1416.5,53.7 L1415.7,54.8 L1414.9,53.9 L1414.1,54.1 L1413.3,53.7 L1412.5,54.5 L1411.7,54.6 L1410.9,54.6 L1410.1,53.9 L1409.3,54.4 L1408.5,54.1 L1407.7,54.4 L1406.9,54.5 L1406.1,53.8 L1405.3,54.8 L1404.5,54.0 L1403.7,53.7 L1402.9,54.6 L1402.1,53.9 L1401.3,54.1 L1400.5,54.0 L1399.7,54.3 L1398.9,53.7 L1398.1,53.9 L1397.3,54.8 L1396.5,53.9 L1395.7,54.5 L1394.9,54.6 L1394.1,54.4 L1393.3,54.0 L1392.5,54.7 L1391.7,54.2 L1390.9,54.4 L1390.1,54.2 L1389.3,53.7 L1388.5,54.1 L1387.7,54.2 L1386.9,54.0 L1386.1,54.5 L1385.3,54.4 L1384.5,54.4 L1383.7,53.9 L1382.9,54.2 L1382.1,54.7 L1381.3,54.1 L1380.5,54.1 L1379.7,54.4 L1378.9,54.5 L1378.1,54.1 L1377.3,53.9 L1376.5,54.3 L1375.7,54.3 L1374.9,54.6 L1374.1,53.8 L1373.3,54.1 L1372.5,54.2 L1371.7,53.8 L1370.9,53.9 L1370.1,54.2 L1369.3,53.9 L1368.5,54.7 L1367.7,53.9 L1366.9,54.3 L1366.1,54.6 L1365.3,54.3 L1364.5,54.6 L1363.7,54.2 L1362.9,54.3 L1362.1,54.7 L1361.3,53.8 L1360.5,54.5 L1359.7,54.7 L1358.9,54.7 L1358.1,54.1 L1357.3,54.7 L1356.5,54.3 L1355.7,54.7 L1354.9,54.4 L1354.1,54.0 L1353.3,54.2 L1352.5,54.4 L1351.7,54.2 L1350.9,54.3 L1350.1,54.7 L1349.3,53.9 L1348.5,54.5 L1347.7,54.1 L1346.9,54.4 L1346.1,54.5 L1345.3,54.4 L1344.5,54.6 L1343.7,54.3 L1342.9,54.3 L1342.1,53.7 L1341.3,53.7 L1340.5,54.2 L1339.7,53.9 L1338.9,54.4 L1338.1,54.2 L1337.3,54.3 L1336.5,54.5 L1335.7,54.7 L1334.9,54.0 L1334.1,54.4 L1333.3,54.7 L1332.5,53.7 L1331.7,54.3 L1330.9,54.2 L1330.1,54.0 L1329.3,54.5 L1328.5,54.0 L1327.7,54.3 L1326.9,54.2 L1326.1,53.8 L1325.3,54.1 L1324.5,54.6 L1323.7,54.2 L1322.9,54.0 L1322.1,54.3 L1321.3,53.8 L1320.5,54.7 L1319.7,54.4 L1318.9,54.0 L1318.1,54.7 L1317.3,54.4 L1316.5,54.7 L1315.7,54.6 L1314.9,54.1 L1314.1,53.8 L1313.3,54.5 L1312.5,54.4 L1311.7,54.6 L1310.9,53.9 L1310.1,53.8 L1309.3,54.7 L1308.5,54.3 L1307.7,54.1 L1306.9,54.4 L1306.1,53.8 L1305.3,53.8 L1304.5,54.2 L1303.7,54.1 L1302.9,54.5 L1302.1,54.0 L1301.3,54.0 L1300.5,54.1 L1299.7,54.0 L1298.9,54.2 L1298.1,53.8 L1297.3,54.6 L1296.5,53.9 L1295.7,54.5 L1294.9,54.6 L1294.1,54.2 L1293.3,54.6 L1292.5,54.2 L1291.7,54.7 L1290.9,54.4 L1290.1,54.6 L1289.3,53.8 L1288.5,54.5 L1287.7,54.5 L1286.9,54.0 L1286.1,54.6 L1285.3,54.2 L1284.5,54.4 L1283.7,54.1 L1282.9,54.0 L1282.1,54.6 L1281.3,54.1 L1280.5,54.2 L1279.7,54.4 L1278.9,54.5 L1278.1,54.6 L1277.3,54.5 L1276.5,54.0 L1275.7,53.9 L1274.9,54.5 L1274.1,54.0 L1273.3,54.4 L1272.5,54.0 L1271.7,54.2 L1270.9,53.7 L1270.1,53.8 L1269.3,53.8 L1268.5,54.4 L1267.7,53.8 L1266.9,53.8 L1266.1,53.9 L1265.3,54.4 L1264.5,54.0 L1263.7,54.1 L1262.9,53.7 L1262.1,53.8 L1261.3,53.8 L1260.5,54.0 L1259.7,54.6 L1258.9,53.7 L1258.1,54.0 L1257.3,53.9 L1256.5,53.8 L1255.7,53.9 L1254.9,53.9 L1254.1,54.4 L1253.3,54.5 L1252.5,53.7 L1251.7,53.9 L1250.9,54.2 L1250.1,53.8 L1249.3,54.3 L1248.5,53.6 L1247.7,54.3 L1246.9,54.0 L1246.1,53.9 L1245.3,53.6 L1244.5,54.4 L1243.7,54.5 L1242.9,54.0 L1242.1,54.0 L1241.3,53.6 L1240.5,54.2 L1239.7,53.7 L1238.9,53.7 L1238.1,53.9 L1237.3,54.4 L1236.5,53.9 L1235.7,54.5 L1234.9,53.7 L1234.1,53.9 L1233.3,53.5 L1232.5,54.1 L1231.7,54.3 L1230.9,54.3 L1230.1,53.8 L1229.3,54.3 L1228.5,54.0 L1227.7,54.0 L1226.9,53.7 L1226.1,54.4 L1225.3,53.5 L1224.5,54.4 L1223.7,53.6 L1222.9,54.2 L1222.1,53.4 L1221.3,54.3 L1220.5,54.3 L1219.7,53.4 L1218.9,53.8 L1218.1,53.5 L1217.3,54.1 L1216.5,54.2 L1215.7,53.5 L1214.9,53.4 L1214.1,54.2 L1213.3,53.6 L1212.5,53.7 L1211.7,53.6 L1210.9,54.3 L1210.1,53.7 L1209.3,54.2 L1208.5,53.7 L1207.7,53.6 L1206.9,53.7 L1206.1,53.6 L1205.3,54.1 L1204.5,54.3 L1203.7,53.6 L1202.9,54.0 L1202.1,54.3 L1201.3,53.8 L1200.5,53.6 L1199.7,54.0 L1198.9,54.0 L1198.1,53.3 L1197.3,54.0 L1196.5,53.4 L1195.7,54.1 L1194.9,54.0 L1194.1,54.2 L1193.3,53.9 L1192.5,54.2 L1191.7,53.6 L1190.9,53.7 L1190.1,54.0 L1189.3,53.4 L1188.5,54.0 L1187.7,53.8 L1186.9,53.3 L1186.1,53.6 L1185.3,54.2 L1184.5,54.0 L1183.7,54.1 L1182.9,53.3 L1182.1,53.6 L1181.3,53.7 L1180.5,53.2 L1179.7,54.0 L1178.9,54.1 L1178.1,53.6 L1177.3,54.0 L1176.5,53.5 L1175.7,53.6 L1174.9,53.3 L1174.1,54.0 L1173.3,53.5 L1172.5,53.7 L1171.7,54.1 L1170.9,53.2 L1170.1,53.7 L1169.3,53.4 L1168.5,53.9 L1167.7,53.6 L1166.9,53.3 L1166.1,53.9 L1165.3,53.9 L1164.5,54.0 L1163.7,53.4 L1162.9,53.5 L1162.1,53.5 L1161.3,53.1 L1160.5,53.6 L1159.7,53.4 L1158.9,54.0 L1158.1,53.9 L1157.3,54.0 L1156.5,53.7 L1155.7,53.8 L1154.9,53.6 L1154.1,53.5 L1153.3,53.4 L1152.5,54.0 L1151.7,53.7 L1150.9,53.5 L1150.1,53.0 L1149.3,53.3 L1148.5,53.3 L1147.7,53.3 L1146.9,53.7 L1146.1,53.7 L1145.3,53.3 L1144.5,53.7 L1143.7,52.9 L1142.9,53.6 L1142.1,53.6 L1141.3,53.1 L1140.5,53.9 L1139.7,53.3 L1138.9,53.4 L1138.1,53.7 L1137.3,52.9 L1136.5,53.3 L1135.7,52.9 L1134.9,53.8 L1134.1,53.0 L1133.3,53.6 L1132.5,53.6 L1131.7,53.5 L1130.9,53.3 L1130.1,53.1 L1129.3,52.8 L1128.5,53.6 L1127.7,53.0 L1126.9,53.6 L1126.1,52.9 L1125.3,52.8 L1124.5,53.8 L1123.7,52.9 L1122.9,53.2 L1122.1,53.8 L1121.3,53.2 L1120.5,53.2 L1119.7,53.7 L1118.9,52.8 L1118.1,53.3 L1117.3,53.8 L1116.5,53.6 L1115.7,53.7 L1114.9,53.8 L1114.1,53.8 L1113.3,53.5 L1112.5,53.2 L1111.7,53.5 L1110.9,53.2 L1110.1,53.3 L1109.3,52.8 L1108.5,53.5 L1107.7,53.2 L1106.9,53.6 L1106.1,53.4 L1105.3,52.9 L1104.5,53.5 L1103.7,53.0 L1102.9,52.9 L1102.1,52.8 L1101.3,53.7 L1100.5,53.4 L1099.7,53.3 L1098.9,53.8 L1098.1,52.8 L1097.3,52.9 L1096.5,53.3 L1095.7,53.7 L1094.9,52.8 L1094.1,53.0 L1093.3,53.4 L1092.5,53.1 L1091.7,53.1 L1090.9,53.0 L1090.1,53.6 L1089.3,52.9 L1088.5,53.2 L1087.7,53.5 L1086.9,53.9 L1086.1,53.0 L1085.3,53.0 L1084.5,53.6 L1083.7,53.1 L1082.9,53.4 L1082.1,54.0 L1081.3,53.0 L1080.5,53.4 L1079.7,53.4 L1078.9,53.7 L1078.1,53.3 L1077.3,53.4 L1076.5,53.3 L1075.7,53.3 L1074.9,53.8 L1074.1,54.1 L1073.3,53.9 L1072.5,54.1 L1071.7,53.8 L1070.9,54.3 L1070.1,54.0 L1069.3,53.9 L1068.5,54.4 L1067.7,53.9 L1066.9,53.8 L1066.1,54.2 L1065.3,54.6 L1064.5,54.6 L1063.7,54.1 L1062.9,55.1 L1062.1,54.3 L1061.3,55.1 L1060.5,54.7 L1059.7,55.5 L1058.9,55.3 L1058.1,55.5 L1057.3,55.3 L1056.5,56.5 L1055.7,56.2 L1054.9,56.1 L1054.1,56.7 L1053.3,56.8 L1052.5,57.3 L1051.7,57.8 L1050.9,57.8 L1050.1,58.3 L1049.3,58.2 L1048.5,58.7 L1047.7,58.7 L1046.9,59.5 L1046.1,60.1 L1045.3,60.1 L1044.5,60.7 L1043.7,61.3 L1042.9,61.8 L1042.1,62.2 L1041.3,62.7 L1040.5,62.9 L1039.7,63.6 L1038.9,65.1 L1038.1,65.4 L1037.3,66.4 L1036.5,67.3 L1035.7,67.9 L1034.9,68.1 L1034.1,69.3 L1033.3,70.3 L1032.5,70.2 L1031.7,71.6 L1030.9,72.8 L1030.1,73.2 L1029.8,73.6 L1029.6,73.8 L1029.3,74.1 L1029.1,74.5 L1028.8,74.8 L1028.6,75.1 L1028.3,75.5 L1028.1,75.8 L1027.8,76.2 L1027.6,76.5 L1027.3,76.9 L1027.1,77.3 L1026.8,77.7 L1026.6,78.1 L1026.3,78.5 L1026.1,78.9 L1025.8,79.4 L1025.6,79.8 L1025.3,80.3 L1025.1,80.8 L1024.8,81.4 L1024.6,82.0 L1024.3,82.6 L1024.1,83.3 L1023.9,84.0 L1023.6,84.8 L1023.4,85.6 L1023.1,86.4 L1022.9,87.2 L1022.6,88.1 L1022.4,88.9 L1022.1,89.8 L1021.9,90.7 L1021.6,91.6 L1021.4,92.6 L1021.1,93.5 L1020.9,94.5 L1020.6,95.5 L1020.4,96.5 L1020.1,97.6 L1019.9,98.7 L1019.6,99.8 L1019.4,101.0 L1019.1,102.2 L1018.9,103.4 L1018.6,104.7 L1018.4,106.0 L1018.1,107.3 L1017.9,108.7 L1017.6,110.1 L1017.4,111.6 L1017.1,113.2 L1016.9,114.9 L1016.6,116.7 L1016.4,118.6 L1016.1,120.5 L1015.9,122.5 L1015.6,124.5 L1015.4,126.6 L1015.1,128.7 L1014.9,130.8 L1014.6,132.8 L1014.4,134.9 L1014.1,136.9 L1013.9,138.9 L1013.6,140.8 L1013.4,142.6 L1013.1,144.5 L1012.9,146.3 L1012.6,148.1 L1012.4,149.9 L1012.1,151.7 L1011.9,153.5 L1011.6,155.3 L1011.4,157.2 L1011.1,159.0 L1010.9,160.9 L1010.6,162.8 L1010.4,164.7 L1010.1,166.7 L1009.9,168.7 L1009.6,170.7 L1009.4,172.7 L1009.1,174.8 L1008.9,176.8 L1008.6,178.9 L1008.4,181.1 L1008.1,183.3 L1007.9,185.6 L1007.6,188.0 L1007.4,190.4 L1007.1,193.0 L1006.9,195.8 L1006.6,198.7 L1006.4,201.9 L1006.1,205.1 L1005.9,208.5 L1005.6,211.9 L1005.4,215.3 L1005.1,218.7 L1004.9,222.0 L1004.6,225.3 L1004.4,228.7 L1004.1,232.1 L1003.9,235.5 L1003.6,238.9 L1003.4,242.4 L1003.1,245.8 L1002.9,249.3 L1002.6,252.8 L1002.4,256.5 L1002.1,260.2 L1001.9,263.9 L1001.6,267.6 L1001.4,271.3 L1001.1,274.8 L1000.9,278.1 L1000.6,281.2 L1000.4,284.2 L1000.1,287.0 L999.9,289.7 L999.6,292.3 L999.4,294.9 L999.1,297.5 L998.9,300.0 L998.6,302.6 L998.4,305.3 L998.1,308.0 L997.9,310.8 L997.6,313.6 L997.4,316.4 L997.1,319.2 L996.9,322.1 L996.6,325.0 L996.4,327.9 L996.1,330.9 L995.9,333.9 L995.6,337.0 L995.4,340.2 L995.1,343.4 L994.9,346.7 L994.6,350.1 L994.4,353.5 L994.1,356.9 L993.9,360.3 L993.6,363.7 L993.4,367.0 L993.1,370.4 L992.9,373.8 L992.6,377.2 L992.4,380.5 L992.1,383.8 L991.9,387.1 L991.6,390.2 L991.4,393.2 L991.1,396.0 L990.9,398.7 L990.6,401.4 L990.4,403.9 L990.1,406.4 L989.9,408.9 L989.6,411.3 L989.4,413.7 L989.1,416.1 L988.9,418.5 L988.6,421.0 L988.4,423.5 L988.1,426.0 L987.9,428.5 L987.6,431.0 L987.4,433.5 L987.1,436.0 L986.9,438.5 L986.6,441.0 L986.4,443.5 L986.1,446.0 L985.9,448.5 L985.6,451.0Z" fill="#0000ff" stroke="#0000ff" stroke-width="0.4" stroke-linejoin="round"/>
<path d="M983.2,451.0 L983.5,448.5 L983.7,446.0 L984.0,443.5 L984.2,441.0 L984.5,438.5 L984.7,436.0 L985.0,433.5 L985.2,431.0 L985.5,428.5 L985.7,426.0 L986.0,423.5 L986.2,421.0 L986.5,418.5 L986.7,416.1 L987.0,413.7 L987.2,411.3 L987.5,408.9 L987.7,406.4 L988.0,403.9 L988.2,401.4 L988.5,398.7 L988.7,396.0 L989.0,393.2 L989.2,390.2 L989.5,387.1 L989.7,383.8 L990.0,380.5 L990.2,377.2 L990.5,373.8 L990.7,370.4 L991.0,367.0 L991.2,363.7 L991.5,360.3 L991.7,356.9 L992.0,353.5 L992.2,350.1 L992.5,346.7 L992.7,343.4 L993.0,340.2 L993.2,337.0 L993.5,333.9 L993.7,330.9 L994.0,327.9 L994.2,325.0 L994.5,322.1 L994.7,319.2 L995.0,316.4 L995.2,313.6 L995.5,310.8 L995.7,308.0 L996.0,305.3 L996.2,302.6 L996.5,300.0 L996.7,297.5 L997.0,294.9 L997.2,292.3 L997.5,289.7 L997.7,287.0 L998.0,284.2 L998.2,281.2 L998.5,278.1 L998.7,274.8 L999.0,271.3 L999.2,267.6 L999.5,263.9 L999.7,260.2 L1000.0,256.5 L1000.2,252.8 L1000.5,249.3 L1000.7,245.8 L1001.0,242.4 L1001.2,238.9 L1001.5,235.5 L1001.7,232.1 L1002.0,228.7 L1002.2,225.3 L1002.5,222.0 L1002.7,218.7 L1003.0,215.3 L1003.2,211.9 L1003.5,208.5 L1003.7,205.1 L1004.0,201.9 L1004.2,198.7 L1004.5,195.8 L1004.7,193.0 L1005.0,190.5 L1005.2,188.2 L1005.5,186.0 L1005.7,183.9 L1006.0,182.0 L1006.2,180.0 L1006.5,178.0 L1006.7,176.0 L1007.0,173.9 L1007.2,171.6 L1007.5,169.1 L1007.7,166.4 L1008.0,163.3 L1008.2,160.0 L1008.5,156.4 L1008.7,152.6 L1009.0,148.6 L1009.2,144.5 L1009.5,140.3 L1009.7,136.1 L1010.0,132.0 L1010.2,127.9 L1010.5,123.9 L1010.7,120.1 L1011.0,116.5 L1011.2,113.2 L1011.5,110.1 L1011.7,107.2 L1012.0,104.4 L1012.2,101.6 L1012.5,99.0 L1012.7,96.4 L1013.0,93.9 L1013.2,91.6 L1013.5,89.4 L1013.7,87.3 L1014.0,85.4 L1014.2,83.6 L1014.5,81.9 L1014.7,80.4 L1015.0,78.9 L1015.2,77.5 L1015.5,76.1 L1015.7,74.8 L1016.0,73.5 L1016.2,72.2 L1016.5,70.8 L1016.7,69.4 L1017.0,68.0 L1017.2,66.6 L1017.5,65.2 L1017.7,63.7 L1018.0,62.3 L1018.2,60.9 L1018.5,59.5 L1018.7,58.1 L1019.0,56.8 L1019.2,55.6 L1019.5,54.4 L1019.7,53.3 L1020.0,52.3 L1020.2,51.3 L1020.5,50.3 L1020.7,49.3 L1021.0,48.3 L1021.2,47.4 L1021.5,46.5 L1021.7,45.6 L1022.0,44.7 L1022.2,43.8 L1022.5,43.0 L1022.7,42.2 L1023.0,41.4 L1023.2,40.6 L1023.5,39.9 L1023.7,39.2 L1024.0,38.5 L1024.2,37.9 L1024.5,37.3 L1024.7,36.7 L1025.0,36.2 L1025.2,35.7 L1025.5,35.2 L1025.7,34.8 L1026.0,34.4 L1026.2,34.0 L1026.5,33.6 L1026.7,33.2 L1027.0,32.8 L1027.2,32.4 L1027.5,32.1 L1027.7,31.8 L1028.0,31.4 L1028.2,30.8 L1028.5,31.0 L1028.7,30.7 L1029.0,29.7 L1029.2,30.6 L1029.5,29.5 L1029.7,30.1 L1030.0,29.8 L1030.2,29.6 L1031.0,28.9 L1031.8,27.8 L1032.6,27.3 L1033.4,26.7 L1034.2,26.9 L1035.0,25.5 L1035.8,25.3 L1036.6,25.9 L1037.4,25.6 L1038.2,25.2 L1039.0,25.3 L1039.8,24.6 L1040.6,24.8 L1041.4,24.2 L1042.2,24.6 L1043.0,23.5 L1043.8,23.8 L1044.6,23.9 L1045.4,24.1 L1046.2,23.6 L1047.0,23.8 L1047.8,24.1 L1048.6,23.5 L1049.4,23.2 L1050.2,23.0 L1051.0,23.9 L1051.8,23.4 L1052.6,23.3 L1053.4,23.4 L1054.2,23.0 L1055.0,23.1 L1055.8,23.0 L1056.6,23.1 L1057.4,23.7 L1058.2,23.0 L1059.0,22.9 L1059.8,23.7 L1060.6,23.4 L1061.4,22.8 L1062.2,23.5 L1063.0,23.5 L1063.8,23.5 L1064.6,23.6 L1065.4,23.2 L1066.2,23.0 L1067.0,23.6 L1067.8,23.4 L1068.6,23.5 L1069.4,23.0 L1070.2,23.2 L1071.0,23.5 L1071.8,23.2 L1072.6,23.4 L1073.4,23.3 L1074.2,23.6 L1075.0,23.1 L1075.8,23.3 L1076.6,23.7 L1077.4,23.1 L1078.2,22.9 L1079.0,23.5 L1079.8,22.9 L1080.6,23.7 L1081.4,23.1 L1082.2,23.8 L1083.0,23.3 L1083.8,22.9 L1084.6,23.3 L1085.4,23.5 L1086.2,23.3 L1087.0,23.5 L1087.8,23.2 L1088.6,23.8 L1089.4,23.0 L1090.2,23.6 L1091.0,22.8 L1091.8,23.3 L1092.6,22.8 L1093.4,22.9 L1094.2,23.4 L1095.0,23.8 L1095.8,23.1 L1096.6,23.2 L1097.4,23.3 L1098.2,23.4 L1099.0,23.2 L1099.8,23.2 L1100.6,23.7 L1101.4,23.4 L1102.2,23.2 L1103.0,23.7 L1103.8,23.9 L1104.6,23.3 L1105.4,22.8 L1106.2,23.1 L1107.0,23.8 L1107.8,23.0 L1108.6,23.0 L1109.4,23.7 L1110.2,22.9 L1111.0,23.7 L1111.8,23.0 L1112.6,23.2 L1113.4,23.5 L1114.2,22.9 L1115.0,23.7 L1115.8,23.3 L1116.6,23.6 L1117.4,23.6 L1118.2,22.9 L1119.0,23.7 L1119.8,23.7 L1120.6,23.1 L1121.4,23.5 L1122.2,23.0 L1123.0,23.4 L1123.8,23.6 L1124.6,23.2 L1125.4,23.4 L1126.2,23.0 L1127.0,23.8 L1127.8,23.5 L1128.6,23.7 L1129.4,22.9 L1130.2,23.6 L1131.0,22.9 L1131.8,23.4 L1132.6,23.1 L1133.4,23.8 L1134.2,23.0 L1135.0,23.4 L1135.8,23.4 L1136.6,23.3 L1137.4,22.9 L1138.2,23.6 L1139.0,23.9 L1139.8,23.2 L1140.6,23.8 L1141.4,23.2 L1142.2,23.2 L1143.0,23.4 L1143.8,23.9 L1144.6,23.7 L1145.4,23.6 L1146.2,22.9 L1147.0,23.4 L1147.8,22.9 L1148.6,22.9 L1149.4,23.3 L1150.2,23.1 L1151.0,23.0 L1151.8,23.4 L1152.6,23.7 L1153.4,23.9 L1154.2,23.9 L1155.0,23.3 L1155.8,23.1 L1156.6,23.9 L1157.4,23.3 L1158.2,23.3 L1159.0,23.8 L1159.8,23.5 L1160.6,23.9 L1161.4,23.7 L1162.2,23.9 L1163.0,23.1 L1163.8,23.9 L1164.6,23.5 L1165.4,23.7 L1166.2,23.2 L1167.0,23.2 L1167.8,23.2 L1168.6,23.1 L1169.4,24.0 L1170.2,23.0 L1171.0,23.2 L1171.8,23.6 L1172.6,23.1 L1173.4,23.2 L1174.2,23.2 L1175.0,23.2 L1175.8,22.9 L1176.6,23.7 L1177.4,23.7 L1178.2,23.3 L1179.0,23.9 L1179.8,23.6 L1180.6,23.2 L1181.4,24.0 L1182.2,23.2 L1183.0,23.8 L1183.8,23.8 L1184.6,23.0 L1185.4,23.9 L1186.2,23.4 L1187.0,23.5 L1187.8,24.0 L1188.6,23.5 L1189.4,23.2 L1190.2,23.0 L1191.0,23.9 L1191.8,23.5 L1192.6,23.7 L1193.4,23.7 L1194.2,24.0 L1195.0,24.0 L1195.8,24.0 L1196.6,23.5 L1197.4,24.0 L1198.2,23.3 L1199.0,23.1 L1199.8,23.7 L1200.6,23.0 L1201.4,24.1 L1202.2,23.3 L1203.0,23.5 L1203.8,23.3 L1204.6,23.4 L1205.4,23.6 L1206.2,23.9 L1207.0,23.0 L1207.8,23.4 L1208.6,23.3 L1209.4,24.1 L1210.2,23.5 L1211.0,23.5 L1211.8,24.0 L1212.6,23.4 L1213.4,23.4 L1214.2,23.5 L1215.0,23.3 L1215.8,23.8 L1216.6,23.3 L1217.4,23.6 L1218.2,23.7 L1219.0,23.9 L1219.8,23.8 L1220.6,23.6 L1221.4,24.1 L1222.2,24.1 L1223.0,24.1 L1223.8,23.8 L1224.6,23.5 L1225.4,23.4 L1226.2,24.0 L1227.0,23.6 L1227.8,23.9 L1228.6,23.5 L1229.4,23.5 L1230.2,23.1 L1231.0,23.9 L1231.8,23.4 L1232.6,23.6 L1233.4,23.9 L1234.2,24.0 L1235.0,24.1 L1235.8,23.8 L1236.6,23.3 L1237.4,24.1 L1238.2,23.1 L1239.0,23.5 L1239.8,24.1 L1240.6,24.0 L1241.4,23.7 L1242.2,24.0 L1243.0,23.3 L1243.8,23.1 L1244.6,23.4 L1245.4,24.1 L1246.2,23.1 L1247.0,23.4 L1247.8,23.6 L1248.6,23.3 L1249.4,24.0 L1250.2,23.2 L1251.0,23.2 L1251.8,24.2 L1252.6,23.1 L1253.4,23.3 L1254.2,23.5 L1255.0,24.1 L1255.8,23.5 L1256.6,23.7 L1257.4,24.0 L1258.2,23.8 L1259.0,24.0 L1259.8,23.1 L1260.6,23.7 L1261.4,23.1 L1262.2,24.0 L1263.0,23.1 L1263.8,23.2 L1264.6,23.6 L1265.4,23.8 L1266.2,23.1 L1267.0,23.8 L1267.8,23.2 L1268.6,23.5 L1269.4,23.2 L1270.2,23.9 L1271.0,24.0 L1271.8,24.0 L1272.6,23.5 L1273.4,23.4 L1274.2,24.2 L1275.0,24.0 L1275.8,24.2 L1276.6,23.6 L1277.4,24.1 L1278.2,23.9 L1279.0,24.0 L1279.8,23.7 L1280.6,24.0 L1281.4,23.7 L1282.2,23.4 L1283.0,23.7 L1283.8,23.2 L1284.6,23.9 L1285.4,23.5 L1286.2,23.3 L1287.0,24.0 L1287.8,23.7 L1288.6,23.5 L1289.4,24.2 L1290.2,24.2 L1291.0,23.6 L1291.8,23.7 L1292.6,23.1 L1293.4,23.5 L1294.2,24.2 L1295.0,23.7 L1295.8,24.2 L1296.6,23.2 L1297.4,23.2 L1298.2,23.2 L1299.0,23.2 L1299.8,24.0 L1300.6,24.2 L1301.4,24.0 L1302.2,23.8 L1303.0,23.6 L1303.8,23.6 L1304.6,23.3 L1305.4,23.6 L1306.2,23.3 L1307.0,24.0 L1307.8,23.7 L1308.6,23.6 L1309.4,24.1 L1310.2,23.5 L1311.0,24.1 L1311.8,23.9 L1312.6,23.8 L1313.4,23.8 L1314.2,23.9 L1315.0,24.1 L1315.8,24.3 L1316.6,23.8 L1317.4,24.2 L1318.2,23.4 L1319.0,24.2 L1319.8,24.1 L1320.6,23.9 L1321.4,23.3 L1322.2,24.1 L1323.0,23.6 L1323.8,23.5 L1324.6,24.2 L1325.4,23.3 L1326.2,23.9 L1327.0,23.4 L1327.8,24.1 L1328.6,23.4 L1329.4,23.3 L1330.2,23.7 L1331.0,23.7 L1331.8,24.0 L1332.6,23.5 L1333.4,23.5 L1334.2,23.5 L1335.0,23.8 L1335.8,23.3 L1336.6,23.8 L1337.4,24.1 L1338.2,23.9 L1339.0,23.4 L1339.8,23.7 L1340.6,23.3 L1341.4,23.7 L1342.2,24.0 L1343.0,23.2 L1343.8,23.9 L1344.6,24.2 L1345.4,23.5 L1346.2,23.5 L1347.0,23.9 L1347.8,23.3 L1348.6,23.5 L1349.4,23.8 L1350.2,23.7 L1351.0,23.4 L1351.8,23.4 L1352.6,23.7 L1353.4,24.1 L1354.2,23.4 L1355.0,23.9 L1355.8,23.8 L1356.6,23.5 L1357.4,23.6 L1358.2,24.1 L1359.0,23.3 L1359.8,23.8 L1360.6,23.7 L1361.4,23.3 L1362.2,23.6 L1363.0,23.4 L1363.8,23.6 L1364.6,23.2 L1365.4,23.8 L1366.2,24.1 L1367.0,24.1 L1367.8,24.2 L1368.6,23.5 L1369.4,24.1 L1370.2,23.6 L1371.0,24.0 L1371.8,23.7 L1372.6,24.0 L1373.4,23.6 L1374.2,24.2 L1375.0,23.7 L1375.8,24.1 L1376.6,23.4 L1377.4,24.0 L1378.2,23.4 L1379.0,23.6 L1379.8,23.6 L1380.6,23.9 L1381.4,23.8 L1382.2,23.5 L1383.0,24.2 L1383.8,23.2 L1384.6,23.7 L1385.4,23.3 L1386.2,23.3 L1387.0,23.4 L1387.8,24.2 L1388.6,23.2 L1389.4,24.0 L1390.2,23.8 L1391.0,24.1 L1391.8,24.1 L1392.6,23.3 L1393.4,24.2 L1394.2,23.3 L1395.0,23.3 L1395.8,23.4 L1396.6,24.0 L1397.4,23.8 L1398.2,23.9 L1399.0,23.4 L1399.8,23.7 L1400.6,23.5 L1401.4,24.2 L1402.2,23.8 L1403.0,24.0 L1403.8,23.7 L1404.6,23.3 L1405.4,23.3 L1406.2,23.4 L1407.0,24.0 L1407.8,23.4 L1408.6,23.7 L1409.4,23.6 L1410.2,23.3 L1411.0,23.6 L1411.8,23.7 L1412.6,24.2 L1413.4,24.0 L1414.2,23.7 L1415.0,23.5 L1415.8,23.5 L1416.6,23.6 L1417.4,23.8 L1418.2,24.3 L1419.0,23.3 L1419.8,23.4 L1420.6,23.6 L1421.4,23.8 L1422.2,23.3 L1423.0,23.2 L1423.8,23.8 L1424.6,23.2 L1425.4,24.1 L1426.2,23.9 L1427.0,23.7 L1427.8,24.3 L1428.6,23.7 L1429.4,24.2 L1430.2,23.4 L1431.0,23.3 L1431.8,23.7 L1432.6,23.8 L1433.4,23.9 L1434.2,23.3 L1435.0,24.0 L1435.8,23.5 L1436.6,24.2 L1437.4,24.1 L1438.2,24.0 L1439.0,23.2 L1439.8,23.3 L1440.6,23.2 L1441.4,23.7 L1442.2,23.2 L1443.0,23.4 L1443.8,23.3 L1444.6,24.3 L1445.4,23.7 L1446.2,23.5 L1447.0,23.4 L1447.8,23.5 L1448.6,23.3 L1449.4,24.1 L1450.2,24.2 L1451.0,24.1 L1451.8,23.3 L1452.6,23.9 L1453.4,24.1 L1454.2,23.6 L1455.0,24.1 L1455.8,23.2 L1456.6,23.8 L1457.4,24.0 L1458.2,23.7 L1459.0,23.3 L1459.8,24.3 L1460.6,24.1 L1461.4,23.5 L1462.2,24.0 L1463.0,23.4 L1463.8,23.9 L1464.6,24.0 L1465.4,23.9 L1466.2,23.7 L1467.0,24.1 L1467.8,23.7 L1468.6,23.3 L1469.4,23.4 L1470.2,23.4 L1471.0,24.1 L1471.8,23.3 L1472.6,24.3 L1473.4,23.8 L1474.2,23.3 L1475.0,24.2 L1475.8,24.3 L1476.6,23.5 L1477.4,23.8 L1478.2,23.5 L1479.0,23.4 L1479.8,23.3 L1480.6,24.2 L1481.4,23.4 L1482.2,23.4 L1483.0,23.4 L1483.8,23.5 L1484.6,24.2 L1485.4,23.4 L1486.2,23.4 L1487.0,23.3 L1487.8,24.0 L1488.6,23.3 L1489.4,24.1 L1490.2,24.2 L1491.0,23.5 L1491.8,23.7 L1492.6,24.1 L1493.4,23.7 L1494.2,23.6 L1495.0,24.2 L1495.8,24.3 L1496.6,23.5 L1497.4,24.1 L1498.2,23.2 L1499.0,24.1 L1499.8,23.6 L1500.6,24.3 L1501.4,23.2 L1502.2,23.4 L1503.0,23.7 L1503.8,23.8 L1504.6,24.1 L1505.4,23.4 L1506.2,23.3 L1507.0,23.5 L1507.8,23.3 L1508.6,24.2 L1509.4,23.8 L1510.2,23.4 L1511.0,23.6 L1511.8,23.5 L1512.6,23.7 L1513.4,23.6 L1514.2,23.9 L1515.0,23.4 L1515.8,24.0 L1516.6,24.2 L1517.4,24.0 L1518.2,23.3 L1519.0,23.7 L1519.8,24.1 L1520.6,23.3 L1521.4,24.2 L1522.2,23.3 L1523.0,23.3 L1523.8,23.2 L1524.6,24.2 L1525.4,23.2 L1526.2,23.7 L1527.0,23.9 L1527.8,23.7 L1528.6,24.3 L1529.4,23.9 L1530.2,23.2 L1531.0,23.6 L1531.8,23.4 L1532.6,24.2 L1533.4,23.5 L1534.2,23.9 L1535.0,23.7 L1535.8,23.7 L1536.6,23.8 L1537.4,23.5 L1538.2,23.9 L1539.0,23.9 L1539.8,24.1 L1540.6,24.1 L1541.4,23.3 L1542.2,24.1 L1543.0,23.6 L1543.8,24.3 L1544.6,23.8 L1545.4,23.4 L1546.2,23.8 L1547.0,23.8 L1547.8,23.8 L1548.6,23.6 L1549.4,23.9 L1550.2,23.8 L1551.0,24.1 L1551.8,23.6 L1552.6,23.7 L1553.4,23.2 L1554.2,24.0 L1555.0,23.3 L1555.8,24.2 L1556.6,23.8 L1557.4,23.8 L1558.2,23.6 L1559.0,23.8 L1559.8,23.3 L1560.6,23.4 L1561.4,23.8 L1562.2,23.5 L1563.0,23.8 L1563.8,23.8 L1564.6,24.3 L1565.4,23.9 L1566.2,23.2 L1567.0,23.9 L1567.8,23.6 L1568.6,23.4 L1569.4,23.6 L1570.2,24.2 L1571.0,24.1 L1571.8,23.7 L1572.6,24.2 L1573.4,23.8 L1574.2,23.4 L1575.0,24.0 L1575.8,24.2 L1576.6,24.0 L1577.4,23.5 L1578.2,23.7 L1579.0,23.4 L1579.8,23.5 L1580.6,23.3 L1581.4,24.3 L1582.2,24.0 L1583.0,23.8 L1583.8,24.0 L1584.6,24.0 L1585.4,23.7 L1586.2,23.5 L1587.0,23.8 L1587.8,23.8 L1588.6,23.6 L1589.4,23.5 L1590.2,23.9 L1591.0,23.9 L1591.8,23.5 L1592.6,23.4 L1593.4,24.1 L1594.2,24.3 L1595.0,24.0 L1595.8,24.1 L1596.6,24.0 L1597.4,23.7 L1598.2,23.9 L1599.0,23.7 L1599.8,24.3 L1600.6,23.3 L1601.4,24.3 L1602.2,23.4 L1603.0,23.6 L1603.8,23.9 L1604.6,24.3 L1605.4,24.2 L1606.2,24.1 L1607.0,23.9 L1607.8,24.1 L1608.6,23.6 L1609.4,23.3 L1610.2,23.9 L1611.0,23.5 L1611.8,23.7 L1612.6,24.1 L1613.4,24.3 L1614.2,23.4 L1615.0,24.2 L1615.8,23.5 L1616.6,23.8 L1617.4,24.1 L1618.2,24.0 L1619.0,23.6 L1619.8,24.2 L1620.6,23.4 L1621.4,24.1 L1622.2,24.3 L1623.0,24.2 L1623.8,23.4 L1624.6,23.7 L1625.4,23.3 L1626.2,23.6 L1627.0,23.7 L1627.8,23.4 L1628.6,23.7 L1629.4,24.1 L1630.2,24.0 L1631.0,23.6 L1631.8,23.4 L1632.6,23.4 L1633.4,24.1 L1634.2,23.5 L1635.0,23.8 L1635.8,23.4 L1636.6,24.0 L1637.4,23.3 L1638.2,23.7 L1639.0,23.7 L1639.8,23.8 L1640.6,23.5 L1641.4,24.0 L1642.2,24.3 L1643.0,23.5 L1643.8,23.3 L1644.6,23.5 L1645.4,23.6 L1646.2,24.2 L1647.0,23.3 L1647.8,23.3 L1648.6,23.8 L1649.4,23.7 L1650.2,23.5 L1651.0,24.0 L1651.8,23.7 L1652.6,24.3 L1653.4,23.5 L1654.2,23.8 L1655.0,23.4 L1655.8,23.3 L1656.6,24.3 L1657.4,24.2 L1658.2,24.1 L1659.0,23.8 L1659.8,24.0 L1660.6,23.5 L1661.4,23.4 L1662.2,23.5 L1663.0,23.5 L1663.8,23.7 L1664.6,23.8 L1665.4,23.5 L1666.2,23.6 L1667.0,24.1 L1667.8,24.1 L1668.6,23.5 L1669.4,23.9 L1670.2,23.4 L1671.0,23.9 L1671.8,23.9 L1672.6,23.4 L1673.4,24.2 L1674.2,23.9 L1675.0,24.3 L1675.8,23.5 L1676.6,23.4 L1677.4,24.1 L1678.2,24.1 L1679.0,23.5 L1679.8,23.7 L1680.6,23.4 L1681.4,23.7 L1682.2,24.3 L1683.0,23.5 L1683.8,23.6 L1684.6,24.2 L1685.4,24.3 L1686.2,23.8 L1687.0,23.8 L1687.8,23.8 L1688.6,24.0 L1689.4,24.2 L1690.2,24.2 L1691.0,23.9 L1691.8,23.7 L1692.6,24.2 L1693.4,24.0 L1694.2,24.3 L1695.0,23.4 L1695.8,24.0 L1696.6,24.1 L1697.4,23.6 L1698.2,23.3 L1699.0,23.6 L1699.8,24.3 L1700.6,24.1 L1701.4,23.6 L1702.2,24.2 L1703.0,23.3 L1703.8,24.1 L1704.6,23.8 L1705.4,24.3 L1706.2,23.6 L1707.0,23.6 L1707.8,23.6 L1708.6,23.7 L1709.4,23.8 L1710.2,23.5 L1711.0,23.7 L1711.8,23.3 L1712.6,23.9 L1713.4,24.2 L1714.2,23.6 L1715.0,23.7 L1715.8,24.3 L1716.6,24.2 L1717.4,24.0 L1718.2,23.9 L1719.0,24.3 L1719.8,23.8 L1720.6,23.9 L1721.4,24.2 L1722.2,23.6 L1723.0,23.7 L1723.8,24.0 L1724.6,24.0 L1725.4,24.0 L1726.2,23.7 L1727.0,23.6 L1727.8,24.1 L1728.6,24.0 L1729.4,23.8 L1730.2,23.5 L1731.0,23.3 L1731.8,23.8 L1732.6,24.2 L1733.4,24.2 L1734.2,24.1 L1735.0,23.7 L1735.8,24.2 L1736.6,24.2 L1737.4,23.6 L1738.2,23.8 L1739.0,23.6 L1739.8,23.5 L1740.6,23.8 L1741.4,23.5 L1742.2,24.3 L1743.0,24.3 L1743.8,23.5 L1744.6,23.4 L1745.4,23.5 L1746.2,24.3 L1747.0,23.6 L1747.8,24.2 L1747.6,33.5 L1746.8,33.8 L1746.0,33.7 L1745.2,33.7 L1744.4,34.2 L1743.6,33.9 L1742.8,33.9 L1742.0,34.4 L1741.2,33.9 L1740.4,33.5 L1739.6,33.6 L1738.8,34.1 L1738.0,34.2 L1737.2,34.2 L1736.4,34.1 L1735.6,34.3 L1734.8,33.6 L1734.0,33.6 L1733.2,33.9 L1732.4,34.1 L1731.6,34.1 L1730.8,33.7 L1730.0,33.9 L1729.2,34.4 L1728.4,33.7 L1727.6,34.2 L1726.8,34.1 L1726.0,33.6 L1725.2,33.8 L1724.4,33.8 L1723.6,33.4 L1722.8,33.9 L1722.0,33.4 L1721.2,34.1 L1720.4,34.2 L1719.6,33.9 L1718.8,34.4 L1718.0,34.3 L1717.2,34.1 L1716.4,33.5 L1715.6,33.9 L1714.8,34.4 L1714.0,34.2 L1713.2,33.6 L1712.4,33.7 L1711.6,33.9 L1710.8,33.8 L1710.0,33.9 L1709.2,33.4 L1708.4,33.7 L1707.6,34.4 L1706.8,33.6 L1706.0,33.5 L1705.2,34.3 L1704.4,34.1 L1703.6,33.9 L1702.8,33.7 L1702.0,33.6 L1701.2,34.0 L1700.4,34.3 L1699.6,33.4 L1698.8,33.4 L1698.0,33.5 L1697.2,34.1 L1696.4,34.0 L1695.6,33.8 L1694.8,34.3 L1694.0,34.4 L1693.2,34.2 L1692.4,33.6 L1691.6,34.3 L1690.8,33.9 L1690.0,34.0 L1689.2,33.5 L1688.4,34.3 L1687.6,33.4 L1686.8,33.5 L1686.0,33.9 L1685.2,34.0 L1684.4,33.9 L1683.6,34.0 L1682.8,33.7 L1682.0,34.3 L1681.2,33.6 L1680.4,33.7 L1679.6,34.0 L1678.8,33.4 L1678.0,34.3 L1677.2,33.9 L1676.4,33.4 L1675.6,34.0 L1674.8,33.6 L1674.0,33.8 L1673.2,34.1 L1672.4,33.9 L1671.6,33.9 L1670.8,34.2 L1670.0,33.8 L1669.2,34.4 L1668.4,34.1 L1667.6,33.4 L1666.8,33.6 L1666.0,33.4 L1665.2,33.8 L1664.4,33.9 L1663.6,34.3 L1662.8,33.8 L1662.0,33.7 L1661.2,33.6 L1660.4,33.7 L1659.6,34.2 L1658.8,33.7 L1658.0,34.2 L1657.2,34.1 L1656.4,33.6 L1655.6,33.6 L1654.8,34.0 L1654.0,33.7 L1653.2,33.9 L1652.4,34.2 L1651.6,34.0 L1650.8,33.5 L1650.0,33.7 L1649.2,34.0 L1648.4,33.4 L1647.6,34.2 L1646.8,34.4 L1646.0,34.2 L1645.2,33.7 L1644.4,33.5 L1643.6,34.1 L1642.8,33.8 L1642.0,34.3 L1641.2,33.8 L1640.4,34.1 L1639.6,33.9 L1638.8,33.7 L1638.0,34.4 L1637.2,33.8 L1636.4,33.8 L1635.6,33.8 L1634.8,34.2 L1634.0,33.9 L1633.2,33.4 L1632.4,33.6 L1631.6,33.6 L1630.8,33.4 L1630.0,34.1 L1629.2,34.4 L1628.4,33.6 L1627.6,34.0 L1626.8,33.9 L1626.0,34.0 L1625.2,33.4 L1624.4,33.6 L1623.6,33.9 L1622.8,34.2 L1622.0,33.5 L1621.2,33.3 L1620.4,34.3 L1619.6,34.3 L1618.8,33.5 L1618.0,33.4 L1617.2,34.0 L1616.4,34.3 L1615.6,33.8 L1614.8,34.4 L1614.0,34.1 L1613.2,34.3 L1612.4,33.6 L1611.6,33.7 L1610.8,33.4 L1610.0,33.5 L1609.2,34.2 L1608.4,33.4 L1607.6,34.0 L1606.8,34.4 L1606.0,33.8 L1605.2,33.7 L1604.4,34.4 L1603.6,33.5 L1602.8,34.4 L1602.0,33.5 L1601.2,34.4 L1600.4,33.9 L1599.6,33.7 L1598.8,33.8 L1598.0,34.1 L1597.2,33.9 L1596.4,33.3 L1595.6,33.8 L1594.8,33.9 L1594.0,34.2 L1593.2,33.8 L1592.4,33.4 L1591.6,34.4 L1590.8,33.8 L1590.0,34.2 L1589.2,33.6 L1588.4,33.7 L1587.6,33.7 L1586.8,34.2 L1586.0,34.2 L1585.2,34.3 L1584.4,33.5 L1583.6,33.5 L1582.8,33.3 L1582.0,33.7 L1581.2,34.3 L1580.4,33.8 L1579.6,33.8 L1578.8,33.5 L1578.0,34.3 L1577.2,34.0 L1576.4,34.0 L1575.6,33.7 L1574.8,34.0 L1574.0,33.7 L1573.2,33.5 L1572.4,34.2 L1571.6,33.5 L1570.8,33.9 L1570.0,34.1 L1569.2,33.5 L1568.4,33.5 L1567.6,33.3 L1566.8,34.1 L1566.0,33.4 L1565.2,34.1 L1564.4,33.5 L1563.6,34.1 L1562.8,33.3 L1562.0,33.8 L1561.2,33.9 L1560.4,33.7 L1559.6,34.2 L1558.8,33.9 L1558.0,33.7 L1557.2,33.8 L1556.4,34.3 L1555.6,34.0 L1554.8,34.2 L1554.0,34.4 L1553.2,34.3 L1552.4,34.0 L1551.6,34.2 L1550.8,33.5 L1550.0,34.1 L1549.2,33.3 L1548.4,34.1 L1547.6,33.6 L1546.8,33.5 L1546.0,33.4 L1545.2,33.8 L1544.4,33.6 L1543.6,34.2 L1542.8,34.2 L1542.0,33.7 L1541.2,34.1 L1540.4,33.5 L1539.6,33.5 L1538.8,34.3 L1538.0,33.9 L1537.2,33.6 L1536.4,33.4 L1535.6,34.1 L1534.8,33.9 L1534.0,34.2 L1533.2,34.2 L1532.4,33.5 L1531.6,34.4 L1530.8,34.2 L1530.0,34.4 L1529.2,33.4 L1528.4,33.4 L1527.6,34.3 L1526.8,34.3 L1526.0,33.7 L1525.2,34.1 L1524.4,34.3 L1523.6,33.7 L1522.8,33.4 L1522.0,33.6 L1521.2,33.5 L1520.4,34.2 L1519.6,34.4 L1518.8,34.3 L1518.0,33.5 L1517.2,33.7 L1516.4,34.2 L1515.6,33.6 L1514.8,33.8 L1514.0,33.5 L1513.2,33.9 L1512.4,33.9 L1511.6,33.7 L1510.8,34.2 L1510.0,34.3 L1509.2,33.8 L1508.4,34.3 L1507.6,33.4 L1506.8,33.8 L1506.0,33.7 L1505.2,34.4 L1504.4,33.8 L1503.6,34.1 L1502.8,34.3 L1502.0,34.3 L1501.2,34.2 L1500.4,33.6 L1499.6,33.4 L1498.8,34.1 L1498.0,34.2 L1497.2,33.3 L1496.4,33.8 L1495.6,33.8 L1494.8,33.9 L1494.0,34.3 L1493.2,33.4 L1492.4,33.7 L1491.6,33.4 L1490.8,33.6 L1490.0,34.2 L1489.2,34.3 L1488.4,34.4 L1487.6,33.7 L1486.8,34.3 L1486.0,34.1 L1485.2,33.4 L1484.4,34.1 L1483.6,34.0 L1482.8,33.3 L1482.0,33.5 L1481.2,33.6 L1480.4,33.9 L1479.6,33.8 L1478.8,33.3 L1478.0,33.5 L1477.2,34.3 L1476.4,33.9 L1475.6,34.3 L1474.8,33.6 L1474.0,33.7 L1473.2,33.4 L1472.4,33.5 L1471.6,33.7 L1470.8,33.3 L1470.0,33.8 L1469.2,33.7 L1468.4,33.4 L1467.6,33.8 L1466.8,33.5 L1466.0,33.7 L1465.2,33.5 L1464.4,34.4 L1463.6,33.8 L1462.8,34.0 L1462.0,33.4 L1461.2,33.5 L1460.4,33.5 L1459.6,33.5 L1458.8,34.3 L1458.0,34.1 L1457.2,34.0 L1456.4,33.5 L1455.6,33.8 L1454.8,33.7 L1454.0,34.4 L1453.2,33.7 L1452.4,33.4 L1451.6,33.5 L1450.8,33.7 L1450.0,33.8 L1449.2,33.6 L1448.4,33.6 L1447.6,34.1 L1446.8,33.9 L1446.0,33.3 L1445.2,33.8 L1444.4,33.3 L1443.6,33.9 L1442.8,33.4 L1442.0,33.8 L1441.2,33.3 L1440.4,34.1 L1439.6,33.7 L1438.8,33.4 L1438.0,34.2 L1437.2,33.8 L1436.4,33.5 L1435.6,34.1 L1434.8,33.9 L1434.0,33.5 L1433.2,33.8 L1432.4,33.4 L1431.6,33.4 L1430.8,33.4 L1430.0,34.1 L1429.2,34.1 L1428.4,34.2 L1427.6,34.2 L1426.8,34.0 L1426.0,33.6 L1425.2,34.0 L1424.4,34.4 L1423.6,33.3 L1422.8,33.5 L1422.0,33.5 L1421.2,34.1 L1420.4,34.3 L1419.6,34.3 L1418.8,33.7 L1418.0,34.2 L1417.2,33.5 L1416.4,33.6 L1415.6,33.9 L1414.8,33.5 L1414.0,33.9 L1413.2,34.1 L1412.4,34.0 L1411.6,34.0 L1410.8,33.7 L1410.0,34.2 L1409.2,34.3 L1408.4,34.1 L1407.6,34.3 L1406.8,34.2 L1406.0,34.2 L1405.2,34.0 L1404.4,34.0 L1403.6,33.6 L1402.8,33.5 L1402.0,33.9 L1401.2,34.1 L1400.4,34.4 L1399.6,34.0 L1398.8,33.9 L1398.0,33.6 L1397.2,34.2 L1396.4,33.3 L1395.6,34.1 L1394.8,34.1 L1394.0,34.0 L1393.2,34.2 L1392.4,33.7 L1391.6,33.8 L1390.8,34.0 L1390.0,33.9 L1389.2,33.6 L1388.4,33.7 L1387.6,34.0 L1386.8,33.4 L1386.0,33.6 L1385.2,33.6 L1384.4,34.0 L1383.6,34.3 L1382.8,33.4 L1382.0,33.5 L1381.2,34.3 L1380.4,34.0 L1379.6,34.2 L1378.8,33.7 L1378.0,34.0 L1377.2,33.4 L1376.4,33.4 L1375.6,34.1 L1374.8,34.3 L1374.0,33.5 L1373.2,34.1 L1372.4,33.6 L1371.6,34.1 L1370.8,34.0 L1370.0,33.8 L1369.2,34.2 L1368.4,33.3 L1367.6,33.4 L1366.8,34.0 L1366.0,33.9 L1365.2,34.2 L1364.4,34.2 L1363.6,34.1 L1362.8,34.2 L1362.0,34.2 L1361.2,33.9 L1360.4,33.5 L1359.6,33.4 L1358.8,33.9 L1358.0,33.4 L1357.2,33.4 L1356.4,33.3 L1355.6,34.1 L1354.8,33.4 L1354.0,33.6 L1353.2,33.6 L1352.4,33.9 L1351.6,33.7 L1350.8,33.8 L1350.0,33.8 L1349.2,34.3 L1348.4,34.3 L1347.6,33.4 L1346.8,34.1 L1346.0,33.4 L1345.2,34.4 L1344.4,34.2 L1343.6,33.9 L1342.8,33.9 L1342.0,33.5 L1341.2,34.3 L1340.4,33.8 L1339.6,34.3 L1338.8,33.3 L1338.0,34.3 L1337.2,33.3 L1336.4,33.7 L1335.6,34.3 L1334.8,34.2 L1334.0,33.4 L1333.2,33.4 L1332.4,33.9 L1331.6,34.1 L1330.8,33.4 L1330.0,33.9 L1329.2,33.8 L1328.4,33.8 L1327.6,34.2 L1326.8,34.0 L1326.0,33.7 L1325.2,33.9 L1324.4,34.2 L1323.6,33.8 L1322.8,33.6 L1322.0,34.1 L1321.2,33.4 L1320.4,33.7 L1319.6,33.6 L1318.8,33.9 L1318.0,34.2 L1317.2,33.5 L1316.4,34.2 L1315.6,33.5 L1314.8,33.4 L1314.0,33.8 L1313.2,33.5 L1312.4,33.5 L1311.6,33.6 L1310.8,33.7 L1310.0,33.9 L1309.2,33.7 L1308.4,33.6 L1307.6,33.7 L1306.8,33.5 L1306.0,33.9 L1305.2,34.3 L1304.4,33.9 L1303.6,33.7 L1302.8,33.6 L1302.0,34.2 L1301.2,34.0 L1300.4,33.6 L1299.6,33.8 L1298.8,33.9 L1298.0,33.6 L1297.2,33.4 L1296.4,33.8 L1295.6,33.6 L1294.8,34.3 L1294.0,34.2 L1293.2,34.0 L1292.4,33.8 L1291.6,33.7 L1290.8,34.1 L1290.0,33.6 L1289.2,33.6 L1288.4,34.0 L1287.6,33.3 L1286.8,34.2 L1286.0,34.0 L1285.2,33.9 L1284.4,33.6 L1283.6,33.3 L1282.8,33.8 L1282.0,34.2 L1281.2,34.1 L1280.4,33.5 L1279.6,33.9 L1278.8,34.0 L1278.0,34.2 L1277.2,34.2 L1276.4,34.0 L1275.6,34.3 L1274.8,33.5 L1274.0,34.0 L1273.2,33.4 L1272.4,34.1 L1271.6,33.6 L1270.8,33.8 L1270.0,34.3 L1269.2,33.7 L1268.4,34.2 L1267.6,34.3 L1266.8,33.4 L1266.0,34.1 L1265.2,34.0 L1264.4,34.2 L1263.6,33.6 L1262.8,33.4 L1262.0,33.3 L1261.2,33.8 L1260.4,33.8 L1259.6,33.9 L1258.8,33.6 L1258.0,33.4 L1257.2,34.3 L1256.4,33.6 L1255.6,33.5 L1254.8,33.4 L1254.0,33.3 L1253.2,33.5 L1252.4,33.9 L1251.6,34.3 L1250.8,33.9 L1250.0,34.3 L1249.2,33.9 L1248.4,34.3 L1247.6,33.6 L1246.8,33.9 L1246.0,34.3 L1245.2,34.2 L1244.4,33.3 L1243.6,34.1 L1242.8,34.1 L1242.0,33.9 L1241.2,34.1 L1240.4,33.4 L1239.6,33.7 L1238.8,33.3 L1238.0,34.4 L1237.2,34.3 L1236.4,34.4 L1235.6,33.4 L1234.8,34.2 L1234.0,33.6 L1233.2,34.0 L1232.4,33.9 L1231.6,33.6 L1230.8,33.9 L1230.0,34.0 L1229.2,33.9 L1228.4,33.8 L1227.6,33.4 L1226.8,33.7 L1226.0,33.9 L1225.2,34.0 L1224.4,33.6 L1223.6,33.5 L1222.8,33.9 L1222.0,33.5 L1221.2,34.4 L1220.4,33.9 L1219.6,34.0 L1218.8,34.0 L1218.0,33.7 L1217.2,33.3 L1216.4,34.1 L1215.6,33.5 L1214.8,33.8 L1214.0,33.4 L1213.2,34.2 L1212.4,34.0 L1211.6,34.2 L1210.8,33.7 L1210.0,33.6 L1209.2,34.2 L1208.4,33.4 L1207.6,34.4 L1206.8,34.3 L1206.0,33.7 L1205.2,33.5 L1204.4,33.5 L1203.6,33.8 L1202.8,33.7 L1202.0,33.4 L1201.2,33.8 L1200.4,34.1 L1199.6,34.0 L1198.8,34.2 L1198.0,34.2 L1197.2,33.9 L1196.4,34.2 L1195.6,34.1 L1194.8,33.4 L1194.0,34.3 L1193.2,33.9 L1192.4,33.5 L1191.6,33.5 L1190.8,33.7 L1190.0,33.7 L1189.2,34.2 L1188.4,33.4 L1187.6,33.9 L1186.8,33.8 L1186.0,33.8 L1185.2,33.8 L1184.4,33.9 L1183.6,34.3 L1182.8,33.5 L1182.0,34.3 L1181.2,34.1 L1180.4,33.5 L1179.6,33.3 L1178.8,34.3 L1178.0,33.4 L1177.2,33.3 L1176.4,33.8 L1175.6,34.1 L1174.8,33.3 L1174.0,34.0 L1173.2,34.2 L1172.4,34.3 L1171.6,34.2 L1170.8,34.1 L1170.0,34.3 L1169.2,33.8 L1168.4,33.4 L1167.6,34.2 L1166.8,33.8 L1166.0,34.1 L1165.2,33.4 L1164.4,34.0 L1163.6,34.3 L1162.8,33.8 L1162.0,33.7 L1161.2,34.0 L1160.4,33.9 L1159.6,33.5 L1158.8,33.7 L1158.0,33.3 L1157.2,33.6 L1156.4,33.3 L1155.6,34.0 L1154.8,33.9 L1154.0,33.4 L1153.2,33.7 L1152.4,33.6 L1151.6,34.2 L1150.8,33.5 L1150.0,33.4 L1149.2,34.2 L1148.4,33.8 L1147.6,34.2 L1146.8,34.2 L1146.0,33.9 L1145.2,34.0 L1144.4,33.9 L1143.6,33.9 L1142.8,33.8 L1142.0,33.3 L1141.2,33.7 L1140.4,33.7 L1139.6,34.0 L1138.8,33.9 L1138.0,33.6 L1137.2,33.4 L1136.4,33.5 L1135.6,34.0 L1134.8,33.4 L1134.0,33.6 L1133.2,33.3 L1132.4,33.8 L1131.6,33.7 L1130.8,33.5 L1130.0,33.9 L1129.2,34.3 L1128.4,34.2 L1127.6,34.0 L1126.8,34.1 L1126.0,33.6 L1125.2,34.2 L1124.4,34.1 L1123.6,33.4 L1122.8,33.4 L1122.0,33.5 L1121.2,33.8 L1120.4,33.6 L1119.6,33.4 L1118.8,33.3 L1118.0,33.4 L1117.2,34.1 L1116.4,33.3 L1115.6,34.3 L1114.8,33.6 L1114.0,33.8 L1113.2,33.7 L1112.4,33.8 L1111.6,33.3 L1110.8,34.1 L1110.0,33.4 L1109.2,33.5 L1108.4,33.7 L1107.6,34.3 L1106.8,33.3 L1106.0,33.4 L1105.2,33.6 L1104.4,33.4 L1103.6,33.4 L1102.8,34.1 L1102.0,33.4 L1101.2,33.6 L1100.4,33.4 L1099.6,34.2 L1098.8,33.3 L1098.0,34.0 L1097.2,33.3 L1096.4,33.5 L1095.6,34.0 L1094.8,34.3 L1094.0,34.2 L1093.2,33.6 L1092.4,33.7 L1091.6,34.1 L1090.8,34.1 L1090.0,34.2 L1089.2,34.3 L1088.4,34.0 L1087.6,33.5 L1086.8,33.6 L1086.0,33.5 L1085.2,34.0 L1084.4,33.8 L1083.6,33.4 L1082.8,33.6 L1082.0,33.6 L1081.2,33.9 L1080.4,33.5 L1079.6,34.1 L1078.8,34.2 L1078.0,33.7 L1077.2,33.7 L1076.4,34.1 L1075.6,33.3 L1074.8,33.5 L1074.0,33.3 L1073.2,33.9 L1072.4,33.5 L1071.6,33.7 L1070.8,33.7 L1070.0,33.6 L1069.2,33.8 L1068.4,33.8 L1067.6,34.2 L1066.8,33.8 L1066.0,33.5 L1065.2,33.9 L1064.4,34.0 L1063.6,33.8 L1062.8,33.7 L1062.0,33.8 L1061.2,33.7 L1060.4,34.3 L1059.6,33.4 L1058.8,33.3 L1058.0,33.3 L1057.2,34.3 L1056.4,34.1 L1055.6,34.2 L1054.8,34.0 L1054.0,33.8 L1053.2,33.9 L1052.4,33.8 L1051.6,34.1 L1050.8,34.2 L1050.0,34.0 L1049.2,33.9 L1048.4,34.2 L1047.6,34.3 L1046.8,33.7 L1046.0,34.0 L1045.2,33.7 L1044.4,33.9 L1043.6,34.4 L1042.8,33.8 L1042.0,34.6 L1041.2,34.2 L1040.4,34.8 L1039.6,34.5 L1038.8,34.9 L1038.0,35.0 L1037.2,35.6 L1036.4,36.1 L1035.6,36.3 L1034.8,36.9 L1034.0,37.0 L1033.2,37.3 L1032.4,38.3 L1031.6,39.7 L1030.8,40.7 L1030.0,41.8 L1029.8,42.1 L1029.5,42.4 L1029.3,42.8 L1029.0,43.1 L1028.8,43.5 L1028.5,43.8 L1028.3,44.2 L1028.0,44.5 L1027.8,44.9 L1027.5,45.3 L1027.3,45.7 L1027.0,46.1 L1026.8,46.5 L1026.5,46.9 L1026.3,47.4 L1026.0,47.8 L1025.8,48.3 L1025.5,48.8 L1025.3,49.2 L1025.0,49.7 L1024.8,50.3 L1024.5,50.8 L1024.3,51.3 L1024.0,51.9 L1023.8,52.4 L1023.5,53.0 L1023.3,53.6 L1023.0,54.3 L1022.8,54.9 L1022.5,55.6 L1022.3,56.3 L1022.0,57.1 L1021.8,57.8 L1021.5,58.6 L1021.3,59.4 L1021.0,60.3 L1020.8,61.1 L1020.5,62.0 L1020.3,62.9 L1020.0,63.8 L1019.8,64.8 L1019.5,65.7 L1019.3,66.7 L1019.0,67.7 L1018.8,68.7 L1018.5,69.8 L1018.3,70.9 L1018.0,72.0 L1017.8,73.1 L1017.5,74.3 L1017.3,75.6 L1017.0,76.9 L1016.8,78.2 L1016.5,79.7 L1016.3,81.1 L1016.0,82.7 L1015.8,84.3 L1015.5,86.0 L1015.3,87.9 L1015.0,89.8 L1014.8,91.8 L1014.5,94.0 L1014.3,96.2 L1014.0,98.6 L1013.8,101.1 L1013.5,103.6 L1013.3,106.3 L1013.0,109.0 L1012.8,111.9 L1012.5,115.1 L1012.3,118.6 L1012.0,122.4 L1011.8,126.4 L1011.5,130.6 L1011.3,134.9 L1011.0,139.2 L1010.8,143.6 L1010.5,147.9 L1010.3,152.0 L1010.0,156.0 L1009.8,159.8 L1009.5,163.2 L1009.3,166.4 L1009.0,169.1 L1008.8,171.6 L1008.5,173.9 L1008.3,176.0 L1008.0,178.1 L1007.8,180.0 L1007.5,182.0 L1007.3,184.0 L1007.0,186.0 L1006.8,188.2 L1006.5,190.5 L1006.3,193.0 L1006.0,195.8 L1005.8,198.7 L1005.5,201.9 L1005.3,205.1 L1005.0,208.5 L1004.8,211.9 L1004.5,215.3 L1004.3,218.7 L1004.0,222.0 L1003.8,225.3 L1003.5,228.7 L1003.3,232.1 L1003.0,235.5 L1002.8,238.9 L1002.5,242.4 L1002.3,245.8 L1002.0,249.3 L1001.8,252.8 L1001.5,256.5 L1001.3,260.2 L1001.0,263.9 L1000.8,267.6 L1000.5,271.3 L1000.3,274.8 L1000.0,278.1 L999.8,281.2 L999.5,284.2 L999.3,287.0 L999.0,289.7 L998.8,292.3 L998.5,294.9 L998.3,297.5 L998.0,300.0 L997.8,302.6 L997.5,305.3 L997.3,308.0 L997.0,310.8 L996.8,313.6 L996.5,316.4 L996.3,319.2 L996.0,322.1 L995.8,325.0 L995.5,327.9 L995.3,330.9 L995.0,333.9 L994.8,337.0 L994.5,340.2 L994.3,343.4 L994.0,346.7 L993.8,350.1 L993.5,353.5 L993.3,356.9 L993.0,360.3 L992.8,363.7 L992.5,367.0 L992.3,370.4 L992.0,373.8 L991.8,377.2 L991.5,380.5 L991.3,383.8 L991.0,387.1 L990.8,390.2 L990.5,393.2 L990.3,396.0 L990.0,398.7 L989.8,401.4 L989.5,403.9 L989.3,406.4 L989.0,408.9 L988.8,411.3 L988.5,413.7 L988.3,416.1 L988.0,418.5 L987.8,421.0 L987.5,423.5 L987.3,426.0 L987.0,428.5 L986.8,431.0 L986.5,433.5 L986.3,436.0 L986.0,438.5 L985.8,441.0 L985.5,443.5 L985.3,446.0 L985.0,448.5 L984.8,451.0Z" fill="#008000" stroke="#008000" stroke-width="0.4" stroke-linejoin="round"/>
<rect x="1096.5" y="97.5" width="526.8" height="230.5" fill="#ffffff"/>
<rect x="1099" y="100" width="521.3" height="224" fill="#f0f0f0"/>
<line x1="1105.5" y1="130.5" x2="1191" y2="130.5" stroke="#ff0000" stroke-width="1.5"/>
<text transform="translate(1198,140.8) scale(0.997,1.0)" font-size="25.7" fill="#000" text-anchor="start" >GA with P&amp;O MPPT Controller</text>
<line x1="1105.5" y1="184.5" x2="1191" y2="184.5" stroke="#000000" stroke-width="1.5"/>
<text transform="translate(1198,195.7) scale(0.997,1.0)" font-size="25.7" fill="#000" text-anchor="start" >P&amp;O with ANN MPPT Controller</text>
<line x1="1105.5" y1="239.3" x2="1191" y2="239.3" stroke="#0000ff" stroke-width="1.5"/>
<text transform="translate(1198,250.7) scale(0.997,1.0)" font-size="25.7" fill="#000" text-anchor="start" >HC with ANN MPPT Controller</text>
<line x1="1105.5" y1="294" x2="1191" y2="294" stroke="#008000" stroke-width="1.5"/>
<text transform="translate(1198,305.6) scale(0.997,1.0)" font-size="25.7" fill="#000" text-anchor="start" >ASGA with RBFN MPPT Controller</text>
<rect x="1612.3" y="265.5" width="8" height="45.5" fill="#f0f0f0" stroke="#f9f9f9" stroke-width="1"/>
<text x="1643.2" y="339.5" font-size="27.6" fill="#ff0000" text-anchor="middle" >(b)</text>
<text x="1375" y="364" font-size="25.5" fill="#6ca31f" text-anchor="middle" >At Uniform irradiation Condition</text>
<text transform="translate(1371,403) scale(1.006,1)" font-size="25.5" fill="#6ca31f" text-anchor="middle">(1000W/m<tspan dy="-12.5" font-size="20">2</tspan><tspan dy="12.5">, 1000W/M</tspan><tspan dy="-12.5" font-size="20">2</tspan><tspan dy="12.5">, and 1000W/m</tspan><tspan dy="-12.5" font-size="20">2</tspan><tspan dy="12.5">)</tspan></text>
<text transform="translate(983.5,513.6) scale(0.97,1.0)" font-size="29" fill="#000" text-anchor="middle" >0</text>
<text transform="translate(1136.5,513.6) scale(0.97,1.0)" font-size="29" fill="#000" text-anchor="middle" >0.5</text>
<text transform="translate(1289.5,513.6) scale(0.97,1.0)" font-size="29" fill="#000" text-anchor="middle" >1</text>
<text transform="translate(1442.5,513.6) scale(0.97,1.0)" font-size="29" fill="#000" text-anchor="middle" >1.5</text>
<text transform="translate(1595.5,513.6) scale(0.97,1.0)" font-size="29" fill="#000" text-anchor="middle" >2</text>
<text transform="translate(1748.5,513.6) scale(0.97,1.0)" font-size="29" fill="#000" text-anchor="middle" >2.5</text>
<text transform="translate(969.6,463.0) scale(0.92,1.0)" font-size="29.6" fill="#000" text-anchor="end" >0</text>
<text transform="translate(969.6,406.2) scale(0.92,1.0)" font-size="29.6" fill="#000" text-anchor="end" >100</text>
<text transform="translate(969.6,349.4) scale(0.92,1.0)" font-size="29.6" fill="#000" text-anchor="end" >200</text>
<text transform="translate(969.6,292.6) scale(0.92,1.0)" font-size="29.6" fill="#000" text-anchor="end" >300</text>
<text transform="translate(969.6,235.8) scale(0.92,1.0)" font-size="29.6" fill="#000" text-anchor="end" >400</text>
<text transform="translate(969.6,179.0) scale(0.92,1.0)" font-size="29.6" fill="#000" text-anchor="end" >500</text>
<text transform="translate(969.6,122.2) scale(0.92,1.0)" font-size="29.6" fill="#000" text-anchor="end" >600</text>
<text transform="translate(969.6,65.4) scale(0.92,1.0)" font-size="29.6" fill="#000" text-anchor="end" >700</text>
<text transform="translate(1382,548.4) scale(1.065,1.0)" font-size="29" fill="#000" text-anchor="middle" >time (sec)</text>
<text transform="translate(908.4,237.5) rotate(-90) scale(1.065,1)" font-size="29.2" fill="#000" text-anchor="middle">Power(W)</text>
</g>
</svg>
</body>
</html>
